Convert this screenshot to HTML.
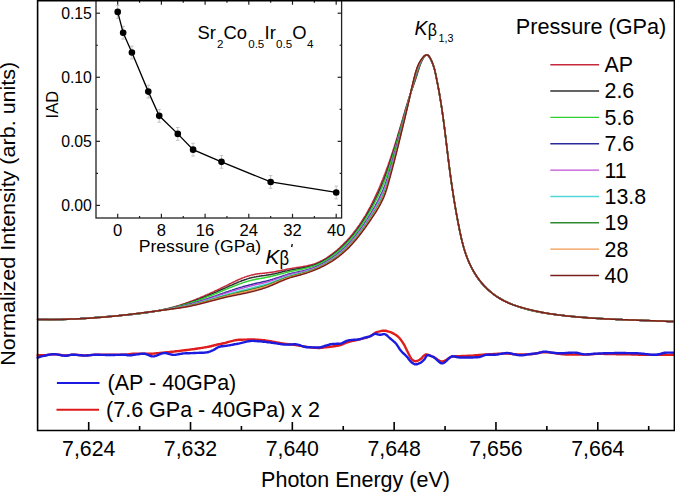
<!DOCTYPE html>
<html><head><meta charset="utf-8"><style>
html,body{margin:0;padding:0;background:#fff;}
svg{display:block;}
text{font-family:"Liberation Sans",sans-serif;fill:#000;}
</style></head><body>
<svg width="675" height="492" viewBox="0 0 675 492">
<rect width="675" height="492" fill="#fff"/>
<!-- spectra -->
<g stroke-linejoin="round" stroke-linecap="round">
<path d="M37.6 319.4 L38.6 319.4 L39.6 319.5 L40.6 319.5 L41.6 319.5 L42.6 319.6 L43.6 319.6 L44.6 319.6 L45.6 319.6 L46.6 319.7 L47.6 319.7 L48.6 319.7 L49.6 319.7 L50.6 319.7 L51.6 319.7 L52.6 319.7 L53.6 319.7 L54.6 319.7 L55.6 319.7 L56.6 319.6 L57.6 319.6 L58.6 319.6 L59.6 319.6 L60.6 319.6 L61.6 319.5 L62.6 319.5 L63.6 319.5 L64.6 319.4 L65.6 319.4 L66.6 319.4 L67.6 319.3 L68.6 319.3 L69.6 319.2 L70.6 319.2 L71.6 319.1 L72.6 319.1 L73.6 319.0 L74.6 319.0 L75.6 318.9 L76.6 318.8 L77.6 318.8 L78.6 318.7 L79.6 318.7 L80.6 318.6 L81.6 318.5 L82.6 318.5 L83.6 318.4 L84.6 318.3 L85.6 318.2 L86.6 318.2 L87.6 318.1 L88.5 318.0 L89.5 318.0 L90.5 317.9 L91.5 317.8 L92.5 317.7 L93.5 317.7 L94.5 317.6 L95.5 317.5 L96.5 317.4 L97.5 317.3 L98.5 317.3 L99.5 317.2 L100.5 317.1 L101.5 317.0 L102.5 316.9 L103.5 316.9 L104.5 316.8 L105.5 316.7 L106.5 316.6 L107.5 316.5 L108.5 316.5 L109.5 316.4 L110.5 316.3 L111.5 316.2 L112.5 316.2 L113.5 316.1 L114.5 316.0 L115.5 315.9 L116.5 315.8 L117.5 315.8 L118.5 315.7 L119.5 315.6 L120.5 315.5 L121.4 315.4 L122.4 315.4 L123.4 315.3 L124.4 315.2 L125.4 315.1 L126.4 315.0 L127.4 314.9 L128.4 314.8 L129.4 314.7 L130.4 314.6 L131.4 314.5 L132.4 314.4 L133.4 314.3 L134.4 314.2 L135.4 314.1 L136.4 314.0 L137.4 313.9 L138.4 313.8 L139.4 313.7 L140.4 313.5 L141.3 313.4 L142.3 313.3 L143.3 313.2 L144.3 313.0 L145.3 312.9 L146.3 312.7 L147.3 312.6 L148.3 312.4 L149.3 312.3 L150.3 312.1 L151.2 312.0 L152.2 311.8 L153.2 311.6 L154.2 311.5 L155.2 311.3 L156.2 311.1 L157.1 310.9 L158.1 310.7 L159.1 310.5 L160.1 310.3 L161.1 310.1 L162.0 309.9 L163.0 309.7 L164.0 309.5 L165.0 309.3 L165.9 309.0 L166.9 308.8 L167.9 308.6 L168.9 308.3 L169.8 308.0 L170.8 307.8 L171.8 307.5 L172.7 307.3 L173.7 307.0 L174.6 306.7 L175.6 306.4 L176.6 306.1 L177.5 305.9 L178.5 305.6 L179.4 305.3 L180.4 305.0 L181.3 304.6 L182.3 304.3 L183.2 304.0 L184.2 303.7 L185.1 303.4 L186.1 303.0 L187.0 302.7 L187.9 302.4 L188.9 302.0 L189.8 301.7 L190.8 301.3 L191.7 301.0 L192.6 300.6 L193.6 300.3 L194.5 299.9 L195.4 299.6 L196.4 299.2 L197.3 298.8 L198.2 298.4 L199.1 298.1 L200.1 297.7 L201.0 297.3 L201.9 296.9 L202.8 296.5 L203.8 296.1 L204.7 295.7 L205.6 295.3 L206.5 294.9 L207.4 294.5 L208.3 294.1 L209.3 293.7 L210.2 293.3 L211.1 292.9 L212.0 292.5 L212.9 292.1 L213.8 291.7 L214.7 291.2 L215.6 290.8 L216.5 290.4 L217.4 290.0 L218.3 289.5 L219.2 289.1 L220.1 288.7 L221.0 288.2 L221.9 287.8 L222.8 287.3 L223.7 286.9 L224.6 286.5 L225.5 286.0 L226.4 285.6 L227.3 285.1 L228.2 284.7 L229.1 284.2 L230.0 283.8 L230.9 283.3 L231.8 282.9 L232.7 282.4 L233.6 282.0 L234.5 281.6 L235.4 281.1 L236.3 280.7 L237.2 280.3 L238.1 279.9 L239.0 279.5 L239.9 279.1 L240.9 278.7 L241.8 278.3 L242.7 277.9 L243.6 277.6 L244.6 277.2 L245.5 276.9 L246.5 276.6 L247.4 276.2 L248.4 275.9 L249.3 275.7 L250.3 275.4 L251.3 275.1 L252.2 274.9 L253.2 274.7 L254.2 274.5 L255.2 274.3 L256.1 274.1 L257.1 274.0 L258.1 273.8 L259.1 273.7 L260.1 273.6 L261.1 273.5 L262.1 273.4 L263.1 273.3 L264.1 273.2 L265.1 273.1 L266.1 273.0 L267.1 272.8 L268.1 272.7 L269.1 272.6 L270.0 272.5 L271.0 272.3 L272.0 272.2 L273.0 272.0 L274.0 271.9 L275.0 271.7 L276.0 271.5 L276.9 271.3 L277.9 271.1 L278.9 270.9 L279.9 270.7 L280.9 270.5 L281.8 270.3 L282.8 270.1 L283.8 269.9 L284.8 269.7 L285.8 269.5 L286.7 269.3 L287.7 269.1 L288.7 268.9 L289.7 268.7 L290.7 268.6 L291.7 268.4 L292.6 268.2 L293.6 268.1 L294.6 267.9 L295.6 267.8 L296.6 267.6 L297.6 267.5 L298.6 267.3 L299.6 267.2 L300.6 267.0 L301.5 266.9 L302.5 266.7 L303.5 266.5 L304.5 266.3 L305.5 266.2 L306.5 266.0 L307.4 265.8 L308.4 265.5 L309.4 265.3 L310.4 265.1 L311.3 264.8 L312.3 264.5 L313.2 264.2 L314.2 263.9 L315.1 263.6 L316.1 263.3 L317.0 262.9 L317.9 262.5 L318.8 262.1 L319.7 261.7 L320.6 261.2 L321.5 260.8 L322.4 260.3 L323.3 259.8 L324.2 259.3 L325.0 258.8 L325.9 258.3 L326.7 257.8 L327.6 257.2 L328.4 256.7 L329.2 256.1 L330.0 255.5 L330.8 254.9 L331.7 254.3 L332.5 253.7 L333.2 253.1 L334.0 252.5 L334.8 251.9 L335.6 251.3 L336.3 250.6 L337.1 250.0 L337.9 249.3 L338.6 248.6 L339.4 248.0 L340.1 247.3 L340.8 246.6 L341.6 245.9 L342.3 245.2 L343.0 244.5 L343.7 243.8 L344.4 243.1 L345.1 242.4 L345.8 241.7 L346.5 241.0 L347.2 240.2 L347.8 239.5 L348.5 238.7 L349.2 238.0 L349.8 237.2 L350.5 236.5 L351.1 235.7 L351.8 234.9 L352.4 234.2 L353.0 233.4 L353.6 232.6 L354.2 231.8 L354.9 231.0 L355.5 230.2 L356.1 229.4 L356.7 228.6 L357.2 227.8 L357.8 227.0 L358.4 226.2 L359.0 225.4 L359.6 224.6 L360.1 223.7 L360.7 222.9 L361.2 222.1 L361.8 221.2 L362.3 220.4 L362.9 219.5 L363.4 218.7 L363.9 217.8 L364.4 217.0 L365.0 216.1 L365.5 215.3 L366.0 214.4 L366.5 213.6 L367.0 212.7 L367.5 211.8 L368.0 210.9 L368.4 210.1 L368.9 209.2 L369.4 208.3 L369.9 207.4 L370.4 206.6 L370.8 205.7 L371.3 204.8 L371.7 203.9 L372.2 203.0 L372.6 202.1 L373.1 201.2 L373.5 200.3 L374.0 199.4 L374.4 198.5 L374.8 197.6 L375.3 196.7 L375.7 195.8 L376.1 194.9 L376.5 194.0 L376.9 193.1 L377.3 192.2 L377.8 191.3 L378.2 190.3 L378.6 189.4 L379.0 188.5 L379.4 187.6 L379.7 186.7 L380.1 185.8 L380.5 184.8 L380.9 183.9 L381.3 183.0 L381.7 182.1 L382.0 181.1 L382.4 180.2 L382.8 179.3 L383.2 178.3 L383.5 177.4 L383.9 176.5 L384.2 175.5 L384.6 174.6 L385.0 173.7 L385.3 172.7 L385.7 171.8 L386.0 170.9 L386.4 169.9 L386.7 169.0 L387.0 168.1 L387.4 167.1 L387.7 166.2 L388.1 165.2 L388.4 164.3 L388.7 163.3 L389.1 162.4 L389.4 161.5 L389.7 160.5 L390.0 159.6 L390.4 158.6 L390.7 157.7 L391.0 156.7 L391.3 155.8 L391.6 154.8 L391.9 153.9 L392.3 152.9 L392.6 152.0 L392.9 151.0 L393.2 150.1 L393.5 149.1 L393.8 148.2 L394.1 147.2 L394.4 146.3 L394.7 145.3 L395.0 144.4 L395.3 143.4 L395.6 142.4 L395.9 141.5 L396.2 140.5 L396.5 139.6 L396.8 138.6 L397.1 137.7 L397.4 136.7 L397.6 135.8 L397.9 134.8 L398.2 133.8 L398.5 132.9 L398.8 131.9 L399.1 131.0 L399.4 130.0 L399.7 129.0 L399.9 128.1 L400.2 127.1 L400.5 126.2 L400.8 125.2 L401.1 124.3 L401.4 123.3 L401.7 122.3 L401.9 121.4 L402.2 120.4 L402.5 119.5 L402.8 118.5 L403.1 117.5 L403.3 116.6 L403.6 115.6 L403.9 114.7 L404.2 113.7 L404.5 112.7 L404.8 111.8 L405.1 110.8 L405.3 109.9 L405.6 108.9 L405.9 108.0 L406.2 107.0 L406.5 106.0 L406.8 105.1 L407.1 104.1 L407.4 103.2 L407.6 102.2 L407.9 101.3 L408.2 100.3 L408.6 99.4 L408.9 98.4 L409.2 97.5 L409.5 96.5 L409.8 95.6 L410.2 94.6 L410.5 93.7 L410.8 92.7 L411.1 91.8 L411.5 90.8 L411.8 89.9 L412.2 89.0 L412.5 88.0 L412.8 87.1 L413.2 86.1 L413.5 85.2 L413.8 84.3 L414.2 83.3 L414.5 82.4 L414.8 81.4 L415.1 80.5 L415.5 79.5 L415.8 78.6 L416.1 77.6 L416.4 76.7 L416.7 75.7 L417.0 74.8 L417.3 73.8 L417.6 72.9 L417.9 71.9 L418.2 70.9 L418.5 70.0 L418.8 69.0 L419.1 68.1 L419.4 67.1 L419.7 66.2 L420.0 65.2 L420.4 64.3 L420.8 63.4 L421.1 62.4 L421.5 61.5 L422.0 60.6 L422.4 59.7 L422.9 58.8 L423.4 58.0 L423.9 57.1 L424.5 56.3 L425.2 55.6 L426.0 55.1 L427.0 54.8 L427.9 55.1 L428.7 55.8 L429.3 56.6 L429.8 57.4 L430.3 58.3 L430.7 59.2 L431.1 60.1 L431.6 61.0 L431.9 61.9 L432.3 62.8 L432.7 63.8 L433.0 64.7 L433.4 65.7 L433.7 66.6 L434.0 67.6 L434.3 68.5 L434.5 69.5 L434.8 70.5 L435.0 71.4 L435.2 72.4 L435.5 73.4 L435.7 74.3 L435.9 75.3 L436.1 76.3 L436.3 77.3 L436.5 78.3 L436.7 79.2 L436.9 80.2 L437.1 81.2 L437.3 82.2 L437.5 83.2 L437.7 84.1 L437.9 85.1 L438.0 86.1 L438.2 87.1 L438.4 88.1 L438.6 89.1 L438.8 90.0 L438.9 91.0 L439.1 92.0 L439.3 93.0 L439.5 94.0 L439.6 95.0 L439.8 96.0 L440.0 96.9 L440.1 97.9 L440.3 98.9 L440.4 99.9 L440.6 100.9 L440.8 101.9 L440.9 102.9 L441.1 103.9 L441.2 104.8 L441.4 105.8 L441.5 106.8 L441.7 107.8 L441.8 108.8 L442.0 109.8 L442.1 110.8 L442.3 111.8 L442.4 112.8 L442.5 113.7 L442.7 114.7 L442.8 115.7 L443.0 116.7 L443.1 117.7 L443.2 118.7 L443.4 119.7 L443.5 120.7 L443.6 121.7 L443.8 122.7 L443.9 123.7 L444.0 124.6 L444.2 125.6 L444.3 126.6 L444.4 127.6 L444.5 128.6 L444.7 129.6 L444.8 130.6 L444.9 131.6 L445.0 132.6 L445.2 133.6 L445.3 134.6 L445.4 135.6 L445.5 136.6 L445.7 137.5 L445.8 138.5 L445.9 139.5 L446.0 140.5 L446.2 141.5 L446.3 142.5 L446.4 143.5 L446.5 144.5 L446.6 145.5 L446.8 146.5 L446.9 147.5 L447.0 148.5 L447.1 149.5 L447.3 150.4 L447.4 151.4 L447.5 152.4 L447.6 153.4 L447.7 154.4 L447.9 155.4 L448.0 156.4 L448.1 157.4 L448.2 158.4 L448.4 159.4 L448.5 160.4 L448.6 161.4 L448.7 162.4 L448.8 163.3 L449.0 164.3 L449.1 165.3 L449.2 166.3 L449.4 167.3 L449.5 168.3 L449.6 169.3 L449.7 170.3 L449.9 171.3 L450.0 172.3 L450.1 173.3 L450.3 174.3 L450.4 175.2 L450.5 176.2 L450.7 177.2 L450.8 178.2 L450.9 179.2 L451.1 180.2 L451.2 181.2 L451.4 182.2 L451.5 183.2 L451.6 184.2 L451.8 185.2 L451.9 186.1 L452.1 187.1 L452.2 188.1 L452.4 189.1 L452.5 190.1 L452.7 191.1 L452.8 192.1 L453.0 193.1 L453.1 194.1 L453.3 195.0 L453.4 196.0 L453.6 197.0 L453.7 198.0 L453.9 199.0 L454.1 200.0 L454.2 201.0 L454.4 202.0 L454.5 202.9 L454.7 203.9 L454.9 204.9 L455.0 205.9 L455.2 206.9 L455.4 207.9 L455.5 208.9 L455.7 209.8 L455.9 210.8 L456.1 211.8 L456.2 212.8 L456.4 213.8 L456.6 214.8 L456.8 215.7 L457.0 216.7 L457.1 217.7 L457.3 218.7 L457.5 219.7 L457.7 220.7 L457.9 221.6 L458.1 222.6 L458.3 223.6 L458.5 224.6 L458.7 225.6 L458.9 226.5 L459.0 227.5 L459.3 228.5 L459.5 229.5 L459.7 230.5 L459.9 231.4 L460.1 232.4 L460.3 233.4 L460.5 234.4 L460.7 235.4 L460.9 236.3 L461.2 237.3 L461.4 238.3 L461.6 239.2 L461.9 240.2 L462.1 241.2 L462.4 242.2 L462.6 243.1 L462.9 244.1 L463.1 245.1 L463.4 246.0 L463.7 247.0 L464.0 247.9 L464.2 248.9 L464.5 249.9 L464.8 250.8 L465.1 251.8 L465.4 252.7 L465.8 253.7 L466.1 254.6 L466.4 255.6 L466.8 256.5 L467.1 257.4 L467.5 258.4 L467.8 259.3 L468.2 260.2 L468.6 261.2 L468.9 262.1 L469.3 263.0 L469.7 263.9 L470.2 264.8 L470.6 265.7 L471.0 266.6 L471.4 267.5 L471.9 268.4 L472.3 269.3 L472.8 270.2 L473.3 271.1 L473.8 272.0 L474.3 272.8 L474.8 273.7 L475.3 274.5 L475.8 275.4 L476.4 276.2 L476.9 277.1 L477.5 277.9 L478.1 278.7 L478.7 279.5 L479.3 280.3 L479.9 281.1 L480.5 281.9 L481.1 282.6 L481.8 283.4 L482.5 284.1 L483.1 284.9 L483.8 285.6 L484.5 286.3 L485.2 287.0 L485.9 287.7 L486.7 288.4 L487.4 289.1 L488.2 289.8 L488.9 290.4 L489.7 291.1 L490.5 291.7 L491.2 292.3 L492.0 292.9 L492.8 293.5 L493.6 294.1 L494.5 294.7 L495.3 295.3 L496.1 295.8 L496.9 296.4 L497.8 296.9 L498.6 297.4 L499.5 298.0 L500.3 298.5 L501.2 299.0 L502.1 299.5 L503.0 299.9 L503.8 300.4 L504.7 300.9 L505.6 301.3 L506.5 301.8 L507.4 302.2 L508.3 302.6 L509.2 303.0 L510.1 303.5 L511.1 303.9 L512.0 304.2 L512.9 304.6 L513.8 305.0 L514.8 305.4 L515.7 305.7 L516.6 306.1 L517.6 306.4 L518.5 306.7 L519.5 307.1 L520.4 307.4 L521.4 307.7 L522.3 308.0 L523.3 308.3 L524.2 308.6 L525.2 308.8 L526.2 309.1 L527.1 309.4 L528.1 309.6 L529.1 309.9 L530.0 310.1 L531.0 310.4 L532.0 310.6 L532.9 310.8 L533.9 311.0 L534.9 311.3 L535.9 311.5 L536.9 311.7 L537.8 311.9 L538.8 312.1 L539.8 312.2 L540.8 312.4 L541.8 312.6 L542.7 312.8 L543.7 312.9 L544.7 313.1 L545.7 313.3 L546.7 313.4 L547.7 313.6 L548.7 313.7 L549.7 313.8 L550.7 314.0 L551.6 314.1 L552.6 314.3 L553.6 314.4 L554.6 314.5 L555.6 314.6 L556.6 314.7 L557.6 314.9 L558.6 315.0 L559.6 315.1 L560.6 315.2 L561.6 315.3 L562.6 315.4 L563.6 315.5 L564.6 315.6 L565.6 315.7 L566.5 315.8 L567.5 315.9 L568.5 316.0 L569.5 316.1 L570.5 316.2 L571.5 316.3 L572.5 316.4 L573.5 316.4 L574.5 316.5 L575.5 316.6 L576.5 316.7 L577.5 316.8 L578.5 316.9 L579.5 317.0 L580.5 317.0 L581.5 317.1 L582.5 317.2 L583.5 317.3 L584.5 317.4 L585.5 317.4 L586.5 317.5 L587.5 317.6 L588.5 317.7 L589.5 317.7 L590.5 317.8 L591.5 317.9 L592.5 317.9 L593.5 318.0 L594.5 318.1 L595.5 318.1 L596.5 318.2 L597.4 318.3 L598.4 318.3 L599.4 318.4 L600.4 318.5 L601.4 318.5 L602.4 318.6 L603.4 318.6 L604.4 318.7 L605.4 318.8 L606.4 318.8 L607.4 318.9 L608.4 318.9 L609.4 319.0 L610.4 319.0 L611.4 319.1 L612.4 319.2 L613.4 319.2 L614.4 319.3 L615.4 319.3 L616.4 319.4 L617.4 319.4 L618.4 319.5 L619.4 319.5 L620.4 319.6 L621.4 319.6 L622.4 319.7 L623.4 319.7 L624.4 319.7 L625.4 319.8 L626.4 319.8 L627.4 319.9 L628.4 319.9 L629.4 320.0 L630.4 320.0 L631.4 320.1 L632.4 320.1 L633.4 320.1 L634.4 320.2 L635.4 320.2 L636.4 320.3 L637.4 320.3 L638.4 320.3 L639.4 320.4 L640.4 320.4 L641.4 320.5 L642.4 320.5 L643.4 320.5 L644.4 320.6 L645.4 320.6 L646.4 320.7 L647.4 320.7 L648.4 320.7 L649.4 320.8 L650.4 320.8 L651.4 320.8 L652.4 320.9 L653.4 320.9 L654.4 320.9 L655.4 321.0 L656.4 321.0 L657.4 321.0 L658.4 321.1 L659.4 321.1 L660.4 321.1 L661.4 321.2 L662.4 321.2 L663.4 321.3 L664.4 321.3 L665.4 321.3 L666.4 321.4 L667.4 321.4 L668.4 321.4 L669.4 321.5 L670.4 321.5 L671.4 321.5 L672.4 321.6 L673.4 321.6" stroke="#c8283c" stroke-width="1.5" fill="none"/>
<path d="M37.6 319.4 L38.6 319.4 L39.6 319.5 L40.6 319.5 L41.6 319.5 L42.6 319.6 L43.6 319.6 L44.6 319.6 L45.6 319.6 L46.6 319.6 L47.6 319.6 L48.6 319.7 L49.6 319.7 L50.6 319.7 L51.6 319.7 L52.6 319.7 L53.6 319.6 L54.6 319.6 L55.6 319.6 L56.6 319.6 L57.6 319.6 L58.6 319.6 L59.6 319.6 L60.6 319.5 L61.6 319.5 L62.6 319.5 L63.6 319.4 L64.6 319.4 L65.6 319.4 L66.6 319.3 L67.6 319.3 L68.6 319.3 L69.6 319.2 L70.6 319.2 L71.6 319.1 L72.6 319.1 L73.6 319.0 L74.6 319.0 L75.6 318.9 L76.6 318.8 L77.6 318.8 L78.6 318.7 L79.6 318.7 L80.6 318.6 L81.6 318.5 L82.6 318.5 L83.6 318.4 L84.6 318.3 L85.6 318.3 L86.6 318.2 L87.6 318.1 L88.6 318.1 L89.6 318.0 L90.5 317.9 L91.5 317.8 L92.5 317.8 L93.5 317.7 L94.5 317.6 L95.5 317.5 L96.5 317.5 L97.5 317.4 L98.5 317.3 L99.5 317.2 L100.5 317.1 L101.5 317.1 L102.5 317.0 L103.5 316.9 L104.5 316.8 L105.5 316.7 L106.5 316.7 L107.5 316.6 L108.5 316.5 L109.5 316.4 L110.5 316.3 L111.5 316.3 L112.5 316.2 L113.5 316.1 L114.5 316.0 L115.5 315.9 L116.5 315.8 L117.5 315.8 L118.5 315.7 L119.5 315.6 L120.5 315.5 L121.4 315.4 L122.4 315.3 L123.4 315.2 L124.4 315.2 L125.4 315.1 L126.4 315.0 L127.4 314.9 L128.4 314.8 L129.4 314.7 L130.4 314.6 L131.4 314.5 L132.4 314.4 L133.4 314.3 L134.4 314.2 L135.4 314.0 L136.4 313.9 L137.4 313.8 L138.4 313.7 L139.4 313.6 L140.3 313.5 L141.3 313.3 L142.3 313.2 L143.3 313.1 L144.3 312.9 L145.3 312.8 L146.3 312.7 L147.3 312.5 L148.3 312.4 L149.3 312.2 L150.2 312.1 L151.2 311.9 L152.2 311.8 L153.2 311.6 L154.2 311.4 L155.2 311.3 L156.2 311.1 L157.2 310.9 L158.1 310.7 L159.1 310.6 L160.1 310.4 L161.1 310.2 L162.1 310.0 L163.0 309.8 L164.0 309.6 L165.0 309.4 L166.0 309.1 L166.9 308.9 L167.9 308.7 L168.9 308.5 L169.9 308.2 L170.8 308.0 L171.8 307.8 L172.8 307.5 L173.7 307.3 L174.7 307.0 L175.7 306.7 L176.6 306.5 L177.6 306.2 L178.6 305.9 L179.5 305.7 L180.5 305.4 L181.5 305.1 L182.4 304.8 L183.4 304.5 L184.3 304.2 L185.3 303.9 L186.2 303.6 L187.2 303.3 L188.1 303.0 L189.1 302.7 L190.0 302.3 L191.0 302.0 L191.9 301.7 L192.9 301.4 L193.8 301.0 L194.7 300.7 L195.7 300.3 L196.6 300.0 L197.5 299.6 L198.5 299.3 L199.4 298.9 L200.3 298.6 L201.3 298.2 L202.2 297.8 L203.1 297.5 L204.1 297.1 L205.0 296.7 L205.9 296.3 L206.8 296.0 L207.8 295.6 L208.7 295.2 L209.6 294.8 L210.5 294.4 L211.5 294.0 L212.4 293.6 L213.3 293.2 L214.2 292.9 L215.1 292.5 L216.1 292.1 L217.0 291.7 L217.9 291.2 L218.8 290.8 L219.7 290.4 L220.6 290.0 L221.5 289.6 L222.4 289.2 L223.4 288.8 L224.3 288.4 L225.2 288.0 L226.1 287.6 L227.0 287.1 L227.9 286.7 L228.8 286.3 L229.7 285.9 L230.6 285.5 L231.6 285.1 L232.5 284.7 L233.4 284.3 L234.3 283.9 L235.2 283.5 L236.1 283.1 L237.1 282.7 L238.0 282.3 L238.9 281.9 L239.8 281.6 L240.8 281.2 L241.7 280.8 L242.6 280.5 L243.6 280.2 L244.5 279.8 L245.5 279.5 L246.4 279.2 L247.4 278.9 L248.3 278.6 L249.3 278.3 L250.3 278.1 L251.2 277.8 L252.2 277.6 L253.2 277.4 L254.2 277.1 L255.1 276.9 L256.1 276.8 L257.1 276.6 L258.1 276.4 L259.1 276.3 L260.1 276.1 L261.1 276.0 L262.0 275.8 L263.0 275.7 L264.0 275.6 L265.0 275.4 L266.0 275.3 L267.0 275.1 L268.0 275.0 L269.0 274.8 L270.0 274.7 L270.9 274.5 L271.9 274.3 L272.9 274.1 L273.9 273.9 L274.9 273.7 L275.8 273.4 L276.8 273.2 L277.8 273.0 L278.7 272.7 L279.7 272.5 L280.7 272.3 L281.7 272.0 L282.6 271.8 L283.6 271.6 L284.6 271.3 L285.6 271.1 L286.5 270.9 L287.5 270.7 L288.5 270.4 L289.5 270.2 L290.4 270.0 L291.4 269.9 L292.4 269.7 L293.4 269.5 L294.4 269.3 L295.4 269.2 L296.3 269.0 L297.3 268.8 L298.3 268.7 L299.3 268.5 L300.3 268.3 L301.3 268.1 L302.3 268.0 L303.2 267.8 L304.2 267.6 L305.2 267.4 L306.2 267.2 L307.2 266.9 L308.1 266.7 L309.1 266.5 L310.1 266.2 L311.0 265.9 L312.0 265.7 L312.9 265.4 L313.9 265.1 L314.8 264.7 L315.8 264.4 L316.7 264.0 L317.6 263.6 L318.5 263.2 L319.4 262.8 L320.4 262.4 L321.2 261.9 L322.1 261.5 L323.0 261.0 L323.9 260.5 L324.8 260.0 L325.6 259.5 L326.5 259.0 L327.3 258.4 L328.2 257.9 L329.0 257.4 L329.8 256.8 L330.6 256.2 L331.4 255.6 L332.3 255.0 L333.1 254.4 L333.8 253.8 L334.6 253.2 L335.4 252.6 L336.2 252.0 L337.0 251.3 L337.7 250.7 L338.5 250.0 L339.2 249.4 L340.0 248.7 L340.7 248.0 L341.5 247.4 L342.2 246.7 L342.9 246.0 L343.6 245.3 L344.3 244.6 L345.0 243.9 L345.7 243.2 L346.4 242.4 L347.1 241.7 L347.8 241.0 L348.5 240.2 L349.1 239.5 L349.8 238.7 L350.5 238.0 L351.1 237.2 L351.8 236.5 L352.4 235.7 L353.0 234.9 L353.7 234.1 L354.3 233.4 L354.9 232.6 L355.5 231.8 L356.1 231.0 L356.7 230.2 L357.3 229.4 L357.9 228.6 L358.5 227.8 L359.1 227.0 L359.6 226.1 L360.2 225.3 L360.8 224.5 L361.3 223.7 L361.9 222.8 L362.4 222.0 L363.0 221.2 L363.5 220.3 L364.1 219.5 L364.6 218.6 L365.1 217.8 L365.6 216.9 L366.2 216.1 L366.7 215.2 L367.2 214.3 L367.7 213.5 L368.2 212.6 L368.7 211.7 L369.2 210.9 L369.7 210.0 L370.2 209.1 L370.6 208.2 L371.1 207.4 L371.6 206.5 L372.1 205.6 L372.5 204.7 L373.0 203.8 L373.4 202.9 L373.9 202.1 L374.3 201.2 L374.8 200.3 L375.2 199.4 L375.7 198.5 L376.1 197.6 L376.5 196.7 L377.0 195.8 L377.4 194.9 L377.8 194.0 L378.2 193.0 L378.6 192.1 L379.1 191.2 L379.5 190.3 L379.9 189.4 L380.3 188.5 L380.7 187.6 L381.1 186.6 L381.5 185.7 L381.8 184.8 L382.2 183.9 L382.6 183.0 L383.0 182.0 L383.3 181.1 L383.7 180.2 L384.1 179.2 L384.4 178.3 L384.8 177.4 L385.2 176.4 L385.5 175.5 L385.9 174.6 L386.2 173.6 L386.5 172.7 L386.9 171.7 L387.2 170.8 L387.5 169.8 L387.9 168.9 L388.2 168.0 L388.5 167.0 L388.8 166.1 L389.1 165.1 L389.5 164.2 L389.8 163.2 L390.1 162.3 L390.4 161.3 L390.7 160.4 L391.0 159.4 L391.3 158.5 L391.6 157.5 L391.9 156.6 L392.2 155.6 L392.5 154.6 L392.8 153.7 L393.1 152.7 L393.4 151.8 L393.7 150.8 L394.0 149.9 L394.3 148.9 L394.6 148.0 L394.9 147.0 L395.2 146.0 L395.5 145.1 L395.7 144.1 L396.0 143.2 L396.3 142.2 L396.6 141.3 L396.9 140.3 L397.2 139.3 L397.4 138.4 L397.7 137.4 L398.0 136.5 L398.3 135.5 L398.6 134.5 L398.8 133.6 L399.1 132.6 L399.4 131.7 L399.7 130.7 L400.0 129.7 L400.2 128.8 L400.5 127.8 L400.8 126.9 L401.1 125.9 L401.3 124.9 L401.6 124.0 L401.9 123.0 L402.2 122.0 L402.4 121.1 L402.7 120.1 L403.0 119.2 L403.3 118.2 L403.5 117.2 L403.8 116.3 L404.1 115.3 L404.3 114.3 L404.6 113.4 L404.9 112.4 L405.2 111.5 L405.4 110.5 L405.7 109.5 L406.0 108.6 L406.3 107.6 L406.5 106.7 L406.8 105.7 L407.1 104.7 L407.4 103.8 L407.7 102.8 L407.9 101.9 L408.2 100.9 L408.5 99.9 L408.8 99.0 L409.1 98.0 L409.4 97.1 L409.7 96.1 L410.0 95.2 L410.3 94.2 L410.6 93.3 L410.9 92.3 L411.2 91.4 L411.5 90.4 L411.8 89.5 L412.2 88.5 L412.5 87.6 L412.8 86.6 L413.1 85.7 L413.4 84.7 L413.7 83.8 L414.0 82.8 L414.4 81.9 L414.7 80.9 L415.0 80.0 L415.3 79.0 L415.6 78.1 L415.9 77.1 L416.2 76.2 L416.5 75.2 L416.8 74.2 L417.1 73.3 L417.4 72.3 L417.7 71.4 L418.0 70.4 L418.3 69.5 L418.6 68.5 L419.0 67.6 L419.3 66.6 L419.6 65.7 L420.0 64.8 L420.4 63.8 L420.7 62.9 L421.2 62.0 L421.6 61.1 L422.0 60.2 L422.5 59.3 L423.0 58.4 L423.5 57.6 L424.1 56.8 L424.7 56.0 L425.5 55.4 L426.4 54.9 L427.4 54.9 L428.2 55.4 L428.9 56.1 L429.5 56.9 L430.0 57.8 L430.4 58.7 L430.9 59.5 L431.3 60.5 L431.7 61.4 L432.1 62.3 L432.5 63.2 L432.8 64.1 L433.2 65.1 L433.5 66.0 L433.8 67.0 L434.1 67.9 L434.4 68.9 L434.6 69.9 L434.9 70.8 L435.1 71.8 L435.3 72.8 L435.6 73.8 L435.8 74.7 L436.0 75.7 L436.2 76.7 L436.4 77.7 L436.6 78.7 L436.8 79.6 L437.0 80.6 L437.2 81.6 L437.4 82.6 L437.6 83.6 L437.7 84.5 L437.9 85.5 L438.1 86.5 L438.3 87.5 L438.5 88.5 L438.7 89.5 L438.8 90.4 L439.0 91.4 L439.2 92.4 L439.4 93.4 L439.5 94.4 L439.7 95.4 L439.9 96.4 L440.0 97.3 L440.2 98.3 L440.3 99.3 L440.5 100.3 L440.7 101.3 L440.8 102.3 L441.0 103.3 L441.1 104.2 L441.3 105.2 L441.4 106.2 L441.6 107.2 L441.7 108.2 L441.9 109.2 L442.0 110.2 L442.2 111.2 L442.3 112.2 L442.5 113.2 L442.6 114.1 L442.7 115.1 L442.9 116.1 L443.0 117.1 L443.2 118.1 L443.3 119.1 L443.4 120.1 L443.6 121.1 L443.7 122.1 L443.8 123.1 L444.0 124.0 L444.1 125.0 L444.2 126.0 L444.3 127.0 L444.5 128.0 L444.6 129.0 L444.7 130.0 L444.9 131.0 L445.0 132.0 L445.1 133.0 L445.2 134.0 L445.3 135.0 L445.5 136.0 L445.6 136.9 L445.7 137.9 L445.8 138.9 L446.0 139.9 L446.1 140.9 L446.2 141.9 L446.3 142.9 L446.4 143.9 L446.6 144.9 L446.7 145.9 L446.8 146.9 L446.9 147.9 L447.1 148.9 L447.2 149.8 L447.3 150.8 L447.4 151.8 L447.5 152.8 L447.7 153.8 L447.8 154.8 L447.9 155.8 L448.0 156.8 L448.1 157.8 L448.3 158.8 L448.4 159.8 L448.5 160.8 L448.6 161.8 L448.8 162.8 L448.9 163.7 L449.0 164.7 L449.1 165.7 L449.3 166.7 L449.4 167.7 L449.5 168.7 L449.7 169.7 L449.8 170.7 L449.9 171.7 L450.1 172.7 L450.2 173.7 L450.3 174.7 L450.5 175.6 L450.6 176.6 L450.7 177.6 L450.9 178.6 L451.0 179.6 L451.1 180.6 L451.3 181.6 L451.4 182.6 L451.6 183.6 L451.7 184.6 L451.8 185.5 L452.0 186.5 L452.1 187.5 L452.3 188.5 L452.4 189.5 L452.6 190.5 L452.7 191.5 L452.9 192.5 L453.0 193.5 L453.2 194.4 L453.3 195.4 L453.5 196.4 L453.6 197.4 L453.8 198.4 L454.0 199.4 L454.1 200.4 L454.3 201.4 L454.4 202.3 L454.6 203.3 L454.8 204.3 L454.9 205.3 L455.1 206.3 L455.3 207.3 L455.4 208.3 L455.6 209.2 L455.8 210.2 L456.0 211.2 L456.1 212.2 L456.3 213.2 L456.5 214.2 L456.7 215.2 L456.8 216.1 L457.0 217.1 L457.2 218.1 L457.4 219.1 L457.6 220.1 L457.8 221.0 L458.0 222.0 L458.2 223.0 L458.3 224.0 L458.5 225.0 L458.7 226.0 L458.9 226.9 L459.1 227.9 L459.3 228.9 L459.5 229.9 L459.7 230.9 L459.9 231.8 L460.2 232.8 L460.4 233.8 L460.6 234.8 L460.8 235.7 L461.0 236.7 L461.2 237.7 L461.5 238.7 L461.7 239.6 L462.0 240.6 L462.2 241.6 L462.4 242.5 L462.7 243.5 L463.0 244.5 L463.2 245.4 L463.5 246.4 L463.8 247.4 L464.0 248.3 L464.3 249.3 L464.6 250.2 L464.9 251.2 L465.2 252.1 L465.5 253.1 L465.9 254.0 L466.2 255.0 L466.5 255.9 L466.9 256.9 L467.2 257.8 L467.6 258.7 L468.0 259.7 L468.3 260.6 L468.7 261.5 L469.1 262.4 L469.5 263.4 L469.9 264.3 L470.3 265.2 L470.7 266.1 L471.2 267.0 L471.6 267.9 L472.1 268.8 L472.5 269.7 L473.0 270.5 L473.5 271.4 L474.0 272.3 L474.5 273.1 L475.0 274.0 L475.5 274.9 L476.1 275.7 L476.6 276.5 L477.2 277.4 L477.8 278.2 L478.3 279.0 L478.9 279.8 L479.5 280.6 L480.2 281.4 L480.8 282.2 L481.4 282.9 L482.1 283.7 L482.8 284.4 L483.4 285.2 L484.1 285.9 L484.8 286.6 L485.5 287.3 L486.2 288.0 L487.0 288.7 L487.7 289.4 L488.5 290.0 L489.2 290.7 L490.0 291.3 L490.8 291.9 L491.5 292.6 L492.3 293.2 L493.1 293.8 L493.9 294.4 L494.8 295.0 L495.6 295.5 L496.4 296.1 L497.2 296.6 L498.1 297.2 L498.9 297.7 L499.8 298.2 L500.7 298.7 L501.5 299.2 L502.4 299.7 L503.3 300.2 L504.2 300.6 L505.1 301.1 L505.9 301.5 L506.8 302.0 L507.8 302.4 L508.7 302.8 L509.6 303.2 L510.5 303.6 L511.4 304.0 L512.3 304.4 L513.3 304.8 L514.2 305.1 L515.1 305.5 L516.1 305.8 L517.0 306.2 L518.0 306.5 L518.9 306.8 L519.8 307.2 L520.8 307.5 L521.8 307.8 L522.7 308.1 L523.7 308.3 L524.6 308.6 L525.6 308.9 L526.6 309.2 L527.5 309.4 L528.5 309.7 L529.5 309.9 L530.4 310.2 L531.4 310.4 L532.4 310.6 L533.3 310.8 L534.3 311.1 L535.3 311.3 L536.3 311.5 L537.3 311.7 L538.2 311.9 L539.2 312.1 L540.2 312.3 L541.2 312.4 L542.2 312.6 L543.2 312.8 L544.1 313.0 L545.1 313.1 L546.1 313.3 L547.1 313.4 L548.1 313.6 L549.1 313.7 L550.1 313.9 L551.1 314.0 L552.1 314.1 L553.0 314.3 L554.0 314.4 L555.0 314.5 L556.0 314.7 L557.0 314.8 L558.0 314.9 L559.0 315.0 L560.0 315.1 L561.0 315.2 L562.0 315.3 L563.0 315.5 L564.0 315.6 L565.0 315.7 L566.0 315.8 L567.0 315.9 L567.9 316.0 L568.9 316.1 L569.9 316.1 L570.9 316.2 L571.9 316.3 L572.9 316.4 L573.9 316.5 L574.9 316.6 L575.9 316.7 L576.9 316.8 L577.9 316.9 L578.9 316.9 L579.9 317.0 L580.9 317.1 L581.9 317.2 L582.9 317.3 L583.9 317.3 L584.9 317.4 L585.9 317.5 L586.9 317.6 L587.9 317.6 L588.9 317.7 L589.9 317.8 L590.9 317.9 L591.9 317.9 L592.9 318.0 L593.9 318.1 L594.9 318.1 L595.9 318.2 L596.9 318.3 L597.9 318.3 L598.8 318.4 L599.8 318.5 L600.8 318.5 L601.8 318.6 L602.8 318.6 L603.8 318.7 L604.8 318.8 L605.8 318.8 L606.8 318.9 L607.8 318.9 L608.8 319.0 L609.8 319.0 L610.8 319.1 L611.8 319.1 L612.8 319.2 L613.8 319.2 L614.8 319.3 L615.8 319.3 L616.8 319.4 L617.8 319.4 L618.8 319.5 L619.8 319.5 L620.8 319.6 L621.8 319.6 L622.8 319.7 L623.8 319.7 L624.8 319.8 L625.8 319.8 L626.8 319.8 L627.8 319.9 L628.8 319.9 L629.8 320.0 L630.8 320.0 L631.8 320.1 L632.8 320.1 L633.8 320.1 L634.8 320.2 L635.8 320.2 L636.8 320.3 L637.8 320.3 L638.8 320.3 L639.8 320.4 L640.8 320.4 L641.8 320.5 L642.8 320.5 L643.8 320.5 L644.8 320.6 L645.8 320.6 L646.8 320.6 L647.8 320.7 L648.8 320.7 L649.8 320.8 L650.8 320.8 L651.8 320.8 L652.8 320.9 L653.8 320.9 L654.8 320.9 L655.8 321.0 L656.8 321.0 L657.8 321.0 L658.8 321.1 L659.8 321.1 L660.8 321.1 L661.8 321.2 L662.8 321.2 L663.8 321.3 L664.8 321.3 L665.8 321.3 L666.8 321.4 L667.8 321.4 L668.8 321.4 L669.8 321.5 L670.8 321.5 L671.8 321.5 L672.8 321.6 L673.8 321.6" stroke="#303030" stroke-width="1.5" fill="none"/>
<path d="M37.6 319.4 L38.6 319.5 L39.6 319.5 L40.6 319.5 L41.6 319.5 L42.6 319.6 L43.6 319.6 L44.6 319.6 L45.6 319.6 L46.6 319.6 L47.6 319.6 L48.6 319.6 L49.6 319.6 L50.6 319.6 L51.6 319.6 L52.6 319.6 L53.6 319.6 L54.6 319.6 L55.6 319.6 L56.6 319.6 L57.6 319.6 L58.6 319.5 L59.6 319.5 L60.6 319.5 L61.6 319.5 L62.6 319.4 L63.6 319.4 L64.6 319.4 L65.6 319.4 L66.6 319.3 L67.6 319.3 L68.6 319.2 L69.6 319.2 L70.6 319.1 L71.6 319.1 L72.6 319.1 L73.6 319.0 L74.6 319.0 L75.6 318.9 L76.6 318.8 L77.6 318.8 L78.6 318.7 L79.6 318.7 L80.6 318.6 L81.6 318.6 L82.6 318.5 L83.6 318.4 L84.6 318.4 L85.6 318.3 L86.6 318.2 L87.6 318.2 L88.6 318.1 L89.6 318.0 L90.6 318.0 L91.6 317.9 L92.5 317.8 L93.5 317.7 L94.5 317.7 L95.5 317.6 L96.5 317.5 L97.5 317.4 L98.5 317.3 L99.5 317.3 L100.5 317.2 L101.5 317.1 L102.5 317.0 L103.5 316.9 L104.5 316.9 L105.5 316.8 L106.5 316.7 L107.5 316.6 L108.5 316.5 L109.5 316.5 L110.5 316.4 L111.5 316.3 L112.5 316.2 L113.5 316.1 L114.5 316.0 L115.5 315.9 L116.5 315.9 L117.5 315.8 L118.5 315.7 L119.5 315.6 L120.5 315.5 L121.4 315.4 L122.4 315.3 L123.4 315.2 L124.4 315.1 L125.4 315.0 L126.4 314.9 L127.4 314.8 L128.4 314.7 L129.4 314.6 L130.4 314.5 L131.4 314.4 L132.4 314.3 L133.4 314.2 L134.4 314.1 L135.4 314.0 L136.4 313.9 L137.4 313.7 L138.4 313.6 L139.3 313.5 L140.3 313.4 L141.3 313.3 L142.3 313.1 L143.3 313.0 L144.3 312.9 L145.3 312.7 L146.3 312.6 L147.3 312.5 L148.3 312.3 L149.3 312.2 L150.2 312.0 L151.2 311.9 L152.2 311.7 L153.2 311.6 L154.2 311.4 L155.2 311.2 L156.2 311.1 L157.2 310.9 L158.1 310.7 L159.1 310.6 L160.1 310.4 L161.1 310.2 L162.1 310.0 L163.1 309.8 L164.0 309.6 L165.0 309.4 L166.0 309.2 L167.0 309.0 L168.0 308.8 L168.9 308.6 L169.9 308.4 L170.9 308.2 L171.9 308.0 L172.8 307.7 L173.8 307.5 L174.8 307.3 L175.8 307.0 L176.7 306.8 L177.7 306.5 L178.7 306.3 L179.6 306.0 L180.6 305.8 L181.6 305.5 L182.5 305.3 L183.5 305.0 L184.4 304.7 L185.4 304.4 L186.4 304.1 L187.3 303.9 L188.3 303.6 L189.2 303.3 L190.2 303.0 L191.1 302.7 L192.1 302.3 L193.0 302.0 L194.0 301.7 L194.9 301.4 L195.9 301.1 L196.8 300.7 L197.8 300.4 L198.7 300.1 L199.7 299.7 L200.6 299.4 L201.5 299.1 L202.5 298.7 L203.4 298.4 L204.3 298.0 L205.3 297.7 L206.2 297.3 L207.1 296.9 L208.1 296.6 L209.0 296.2 L209.9 295.9 L210.9 295.5 L211.8 295.1 L212.7 294.7 L213.7 294.4 L214.6 294.0 L215.5 293.6 L216.4 293.3 L217.4 292.9 L218.3 292.5 L219.2 292.1 L220.1 291.7 L221.1 291.4 L222.0 291.0 L222.9 290.6 L223.8 290.2 L224.8 289.8 L225.7 289.4 L226.6 289.1 L227.5 288.7 L228.5 288.3 L229.4 287.9 L230.3 287.5 L231.2 287.2 L232.2 286.8 L233.1 286.4 L234.0 286.0 L235.0 285.7 L235.9 285.3 L236.8 285.0 L237.8 284.6 L238.7 284.3 L239.6 283.9 L240.6 283.6 L241.5 283.2 L242.5 282.9 L243.4 282.6 L244.4 282.3 L245.3 282.0 L246.3 281.7 L247.2 281.4 L248.2 281.1 L249.2 280.9 L250.1 280.6 L251.1 280.4 L252.1 280.1 L253.0 279.9 L254.0 279.7 L255.0 279.5 L256.0 279.3 L256.9 279.1 L257.9 278.9 L258.9 278.7 L259.9 278.5 L260.9 278.4 L261.9 278.2 L262.9 278.0 L263.8 277.9 L264.8 277.7 L265.8 277.5 L266.8 277.3 L267.8 277.1 L268.8 276.9 L269.7 276.7 L270.7 276.5 L271.7 276.3 L272.7 276.1 L273.6 275.8 L274.6 275.6 L275.6 275.3 L276.5 275.1 L277.5 274.8 L278.5 274.5 L279.4 274.3 L280.4 274.0 L281.3 273.7 L282.3 273.4 L283.3 273.2 L284.2 272.9 L285.2 272.7 L286.2 272.4 L287.1 272.2 L288.1 271.9 L289.1 271.7 L290.1 271.5 L291.0 271.3 L292.0 271.1 L293.0 270.9 L294.0 270.7 L295.0 270.5 L295.9 270.3 L296.9 270.1 L297.9 270.0 L298.9 269.8 L299.9 269.6 L300.9 269.4 L301.8 269.2 L302.8 269.0 L303.8 268.8 L304.8 268.6 L305.7 268.3 L306.7 268.1 L307.7 267.9 L308.7 267.6 L309.6 267.3 L310.6 267.1 L311.5 266.8 L312.5 266.5 L313.4 266.2 L314.4 265.8 L315.3 265.5 L316.3 265.1 L317.2 264.7 L318.1 264.3 L319.0 263.9 L319.9 263.5 L320.8 263.1 L321.7 262.6 L322.6 262.2 L323.5 261.7 L324.4 261.2 L325.2 260.7 L326.1 260.2 L326.9 259.7 L327.8 259.1 L328.6 258.6 L329.5 258.1 L330.3 257.5 L331.1 256.9 L331.9 256.3 L332.7 255.8 L333.5 255.2 L334.3 254.6 L335.1 253.9 L335.9 253.3 L336.7 252.7 L337.5 252.1 L338.2 251.4 L339.0 250.8 L339.7 250.1 L340.5 249.5 L341.2 248.8 L342.0 248.1 L342.7 247.4 L343.4 246.7 L344.2 246.1 L344.9 245.3 L345.6 244.6 L346.3 243.9 L347.0 243.2 L347.7 242.5 L348.3 241.8 L349.0 241.0 L349.7 240.3 L350.3 239.5 L351.0 238.8 L351.7 238.0 L352.3 237.3 L352.9 236.5 L353.6 235.7 L354.2 234.9 L354.8 234.2 L355.5 233.4 L356.1 232.6 L356.7 231.8 L357.3 231.0 L357.9 230.2 L358.5 229.4 L359.1 228.6 L359.6 227.8 L360.2 226.9 L360.8 226.1 L361.4 225.3 L361.9 224.5 L362.5 223.6 L363.0 222.8 L363.6 222.0 L364.1 221.1 L364.7 220.3 L365.2 219.5 L365.7 218.6 L366.3 217.8 L366.8 216.9 L367.3 216.0 L367.8 215.2 L368.3 214.3 L368.8 213.5 L369.3 212.6 L369.8 211.7 L370.3 210.9 L370.8 210.0 L371.3 209.1 L371.8 208.3 L372.3 207.4 L372.8 206.5 L373.2 205.6 L373.7 204.7 L374.2 203.8 L374.6 203.0 L375.1 202.1 L375.5 201.2 L376.0 200.3 L376.4 199.4 L376.9 198.5 L377.3 197.6 L377.8 196.7 L378.2 195.8 L378.6 194.9 L379.1 194.0 L379.5 193.1 L379.9 192.2 L380.3 191.3 L380.7 190.4 L381.1 189.4 L381.5 188.5 L381.9 187.6 L382.3 186.7 L382.7 185.8 L383.1 184.8 L383.4 183.9 L383.8 183.0 L384.2 182.1 L384.5 181.1 L384.9 180.2 L385.3 179.2 L385.6 178.3 L385.9 177.4 L386.3 176.4 L386.6 175.5 L386.9 174.5 L387.3 173.6 L387.6 172.6 L387.9 171.7 L388.2 170.7 L388.5 169.8 L388.8 168.8 L389.1 167.9 L389.4 166.9 L389.7 166.0 L390.0 165.0 L390.3 164.1 L390.6 163.1 L390.9 162.2 L391.2 161.2 L391.5 160.3 L391.8 159.3 L392.1 158.3 L392.4 157.4 L392.7 156.4 L393.0 155.5 L393.3 154.5 L393.6 153.6 L393.9 152.6 L394.1 151.6 L394.4 150.7 L394.7 149.7 L395.0 148.8 L395.3 147.8 L395.5 146.8 L395.8 145.9 L396.1 144.9 L396.4 144.0 L396.7 143.0 L396.9 142.0 L397.2 141.1 L397.5 140.1 L397.8 139.2 L398.0 138.2 L398.3 137.2 L398.6 136.3 L398.8 135.3 L399.1 134.3 L399.4 133.4 L399.6 132.4 L399.9 131.5 L400.2 130.5 L400.5 129.5 L400.7 128.6 L401.0 127.6 L401.3 126.6 L401.5 125.7 L401.8 124.7 L402.1 123.7 L402.3 122.8 L402.6 121.8 L402.9 120.9 L403.1 119.9 L403.4 118.9 L403.6 118.0 L403.9 117.0 L404.2 116.0 L404.4 115.1 L404.7 114.1 L405.0 113.1 L405.2 112.2 L405.5 111.2 L405.8 110.3 L406.0 109.3 L406.3 108.3 L406.6 107.4 L406.8 106.4 L407.1 105.4 L407.4 104.5 L407.6 103.5 L407.9 102.5 L408.2 101.6 L408.5 100.6 L408.7 99.7 L409.0 98.7 L409.3 97.7 L409.6 96.8 L409.8 95.8 L410.1 94.9 L410.4 93.9 L410.7 92.9 L411.0 92.0 L411.3 91.0 L411.6 90.1 L411.8 89.1 L412.1 88.2 L412.4 87.2 L412.7 86.2 L413.0 85.3 L413.3 84.3 L413.6 83.4 L413.9 82.4 L414.2 81.5 L414.5 80.5 L414.8 79.6 L415.1 78.6 L415.4 77.6 L415.7 76.7 L416.0 75.7 L416.3 74.8 L416.6 73.8 L416.9 72.9 L417.2 71.9 L417.5 71.0 L417.8 70.0 L418.2 69.1 L418.5 68.1 L418.8 67.2 L419.2 66.3 L419.5 65.3 L419.9 64.4 L420.3 63.5 L420.7 62.6 L421.1 61.7 L421.6 60.8 L422.0 59.9 L422.5 59.0 L423.0 58.1 L423.6 57.3 L424.2 56.5 L424.9 55.8 L425.7 55.2 L426.6 54.8 L427.6 55.0 L428.4 55.6 L429.1 56.3 L429.6 57.2 L430.1 58.0 L430.6 58.9 L431.0 59.8 L431.4 60.7 L431.8 61.6 L432.2 62.5 L432.6 63.5 L432.9 64.4 L433.3 65.4 L433.6 66.3 L433.9 67.3 L434.2 68.2 L434.4 69.2 L434.7 70.1 L434.9 71.1 L435.2 72.1 L435.4 73.1 L435.6 74.0 L435.8 75.0 L436.0 76.0 L436.2 77.0 L436.4 78.0 L436.6 78.9 L436.8 79.9 L437.0 80.9 L437.2 81.9 L437.4 82.9 L437.6 83.8 L437.8 84.8 L438.0 85.8 L438.2 86.8 L438.3 87.8 L438.5 88.8 L438.7 89.7 L438.9 90.7 L439.1 91.7 L439.2 92.7 L439.4 93.7 L439.6 94.7 L439.7 95.6 L439.9 96.6 L440.1 97.6 L440.2 98.6 L440.4 99.6 L440.6 100.6 L440.7 101.6 L440.9 102.6 L441.0 103.5 L441.2 104.5 L441.3 105.5 L441.5 106.5 L441.6 107.5 L441.8 108.5 L441.9 109.5 L442.1 110.5 L442.2 111.5 L442.4 112.4 L442.5 113.4 L442.6 114.4 L442.8 115.4 L442.9 116.4 L443.1 117.4 L443.2 118.4 L443.3 119.4 L443.5 120.4 L443.6 121.4 L443.7 122.3 L443.9 123.3 L444.0 124.3 L444.1 125.3 L444.3 126.3 L444.4 127.3 L444.5 128.3 L444.6 129.3 L444.8 130.3 L444.9 131.3 L445.0 132.3 L445.1 133.3 L445.3 134.3 L445.4 135.2 L445.5 136.2 L445.6 137.2 L445.8 138.2 L445.9 139.2 L446.0 140.2 L446.1 141.2 L446.2 142.2 L446.4 143.2 L446.5 144.2 L446.6 145.2 L446.7 146.2 L446.8 147.2 L447.0 148.1 L447.1 149.1 L447.2 150.1 L447.3 151.1 L447.4 152.1 L447.6 153.1 L447.7 154.1 L447.8 155.1 L447.9 156.1 L448.1 157.1 L448.2 158.1 L448.3 159.1 L448.4 160.1 L448.5 161.0 L448.7 162.0 L448.8 163.0 L448.9 164.0 L449.0 165.0 L449.2 166.0 L449.3 167.0 L449.4 168.0 L449.6 169.0 L449.7 170.0 L449.8 171.0 L450.0 172.0 L450.1 173.0 L450.2 173.9 L450.4 174.9 L450.5 175.9 L450.6 176.9 L450.8 177.9 L450.9 178.9 L451.0 179.9 L451.2 180.9 L451.3 181.9 L451.5 182.9 L451.6 183.8 L451.7 184.8 L451.9 185.8 L452.0 186.8 L452.2 187.8 L452.3 188.8 L452.5 189.8 L452.6 190.8 L452.8 191.8 L452.9 192.7 L453.1 193.7 L453.2 194.7 L453.4 195.7 L453.5 196.7 L453.7 197.7 L453.9 198.7 L454.0 199.7 L454.2 200.7 L454.3 201.6 L454.5 202.6 L454.7 203.6 L454.8 204.6 L455.0 205.6 L455.2 206.6 L455.3 207.6 L455.5 208.5 L455.7 209.5 L455.8 210.5 L456.0 211.5 L456.2 212.5 L456.4 213.5 L456.5 214.4 L456.7 215.4 L456.9 216.4 L457.1 217.4 L457.3 218.4 L457.5 219.4 L457.6 220.3 L457.8 221.3 L458.0 222.3 L458.2 223.3 L458.4 224.3 L458.6 225.3 L458.8 226.2 L459.0 227.2 L459.2 228.2 L459.4 229.2 L459.6 230.2 L459.8 231.1 L460.0 232.1 L460.2 233.1 L460.4 234.1 L460.6 235.0 L460.9 236.0 L461.1 237.0 L461.3 238.0 L461.5 238.9 L461.8 239.9 L462.0 240.9 L462.3 241.9 L462.5 242.8 L462.8 243.8 L463.0 244.8 L463.3 245.7 L463.5 246.7 L463.8 247.6 L464.1 248.6 L464.4 249.6 L464.7 250.5 L465.0 251.5 L465.3 252.4 L465.6 253.4 L465.9 254.3 L466.3 255.3 L466.6 256.2 L467.0 257.1 L467.3 258.1 L467.7 259.0 L468.0 259.9 L468.4 260.9 L468.8 261.8 L469.2 262.7 L469.6 263.6 L470.0 264.5 L470.4 265.4 L470.9 266.3 L471.3 267.2 L471.8 268.1 L472.2 269.0 L472.7 269.9 L473.2 270.8 L473.7 271.6 L474.2 272.5 L474.7 273.4 L475.2 274.2 L475.7 275.1 L476.3 275.9 L476.8 276.7 L477.4 277.6 L478.0 278.4 L478.5 279.2 L479.1 280.0 L479.8 280.8 L480.4 281.6 L481.0 282.4 L481.7 283.1 L482.3 283.9 L483.0 284.6 L483.7 285.4 L484.3 286.1 L485.0 286.8 L485.8 287.5 L486.5 288.2 L487.2 288.9 L487.9 289.6 L488.7 290.2 L489.4 290.9 L490.2 291.5 L491.0 292.1 L491.8 292.8 L492.6 293.4 L493.4 294.0 L494.2 294.6 L495.0 295.1 L495.8 295.7 L496.6 296.3 L497.5 296.8 L498.3 297.4 L499.2 297.9 L500.0 298.4 L500.9 298.9 L501.8 299.4 L502.6 299.9 L503.5 300.4 L504.4 300.8 L505.3 301.3 L506.2 301.7 L507.1 302.1 L508.0 302.6 L508.9 303.0 L509.8 303.4 L510.7 303.8 L511.7 304.2 L512.6 304.5 L513.5 304.9 L514.5 305.2 L515.4 305.6 L516.3 305.9 L517.3 306.3 L518.2 306.6 L519.2 306.9 L520.1 307.2 L521.1 307.5 L522.0 307.8 L523.0 308.1 L524.0 308.4 L524.9 308.7 L525.9 308.9 L526.8 309.2 L527.8 309.4 L528.8 309.7 L529.7 309.9 L530.7 310.2 L531.7 310.4 L532.7 310.6 L533.6 310.9 L534.6 311.1 L535.6 311.3 L536.6 311.5 L537.6 311.7 L538.5 311.9 L539.5 312.1 L540.5 312.3 L541.5 312.4 L542.5 312.6 L543.4 312.8 L544.4 313.0 L545.4 313.1 L546.4 313.3 L547.4 313.4 L548.4 313.6 L549.4 313.7 L550.4 313.9 L551.4 314.0 L552.3 314.2 L553.3 314.3 L554.3 314.4 L555.3 314.6 L556.3 314.7 L557.3 314.8 L558.3 314.9 L559.3 315.0 L560.3 315.2 L561.3 315.3 L562.3 315.4 L563.3 315.5 L564.3 315.6 L565.3 315.7 L566.2 315.8 L567.2 315.9 L568.2 316.0 L569.2 316.1 L570.2 316.2 L571.2 316.3 L572.2 316.4 L573.2 316.5 L574.2 316.6 L575.2 316.7 L576.2 316.7 L577.2 316.8 L578.2 316.9 L579.2 317.0 L580.2 317.1 L581.2 317.2 L582.2 317.2 L583.2 317.3 L584.2 317.4 L585.2 317.5 L586.2 317.6 L587.2 317.6 L588.2 317.7 L589.2 317.8 L590.2 317.8 L591.2 317.9 L592.2 318.0 L593.2 318.1 L594.1 318.1 L595.1 318.2 L596.1 318.3 L597.1 318.3 L598.1 318.4 L599.1 318.4 L600.1 318.5 L601.1 318.6 L602.1 318.6 L603.1 318.7 L604.1 318.7 L605.1 318.8 L606.1 318.8 L607.1 318.9 L608.1 319.0 L609.1 319.0 L610.1 319.1 L611.1 319.1 L612.1 319.2 L613.1 319.2 L614.1 319.3 L615.1 319.3 L616.1 319.4 L617.1 319.4 L618.1 319.5 L619.1 319.5 L620.1 319.5 L621.1 319.6 L622.1 319.6 L623.1 319.7 L624.1 319.7 L625.1 319.8 L626.1 319.8 L627.1 319.9 L628.1 319.9 L629.1 319.9 L630.1 320.0 L631.1 320.0 L632.1 320.1 L633.1 320.1 L634.1 320.1 L635.1 320.2 L636.1 320.2 L637.1 320.3 L638.1 320.3 L639.1 320.3 L640.1 320.4 L641.1 320.4 L642.1 320.4 L643.1 320.5 L644.1 320.5 L645.1 320.6 L646.1 320.6 L647.1 320.6 L648.1 320.7 L649.1 320.7 L650.1 320.7 L651.1 320.8 L652.1 320.8 L653.1 320.8 L654.1 320.9 L655.1 320.9 L656.1 321.0 L657.1 321.0 L658.1 321.0 L659.1 321.1 L660.1 321.1 L661.1 321.1 L662.1 321.2 L663.1 321.2 L664.1 321.3 L665.1 321.3 L666.1 321.3 L667.1 321.4 L668.1 321.4 L669.1 321.4 L670.1 321.5 L671.1 321.5 L672.1 321.6 L673.1 321.6" stroke="#30d030" stroke-width="1.5" fill="none"/>
<path d="M37.6 319.5 L38.6 319.5 L39.6 319.5 L40.6 319.5 L41.6 319.5 L42.6 319.6 L43.6 319.6 L44.6 319.6 L45.6 319.6 L46.6 319.6 L47.6 319.6 L48.6 319.6 L49.6 319.6 L50.6 319.6 L51.6 319.6 L52.6 319.6 L53.6 319.6 L54.6 319.6 L55.6 319.5 L56.6 319.5 L57.6 319.5 L58.6 319.5 L59.6 319.5 L60.6 319.5 L61.6 319.4 L62.6 319.4 L63.6 319.4 L64.6 319.3 L65.6 319.3 L66.6 319.3 L67.6 319.2 L68.6 319.2 L69.6 319.2 L70.6 319.1 L71.6 319.1 L72.6 319.0 L73.6 319.0 L74.6 319.0 L75.6 318.9 L76.6 318.9 L77.6 318.8 L78.6 318.7 L79.6 318.7 L80.6 318.6 L81.6 318.6 L82.6 318.5 L83.6 318.5 L84.6 318.4 L85.6 318.3 L86.6 318.3 L87.6 318.2 L88.6 318.1 L89.6 318.1 L90.6 318.0 L91.6 317.9 L92.6 317.9 L93.6 317.8 L94.5 317.7 L95.5 317.6 L96.5 317.6 L97.5 317.5 L98.5 317.4 L99.5 317.3 L100.5 317.3 L101.5 317.2 L102.5 317.1 L103.5 317.0 L104.5 316.9 L105.5 316.8 L106.5 316.8 L107.5 316.7 L108.5 316.6 L109.5 316.5 L110.5 316.4 L111.5 316.3 L112.5 316.2 L113.5 316.1 L114.5 316.1 L115.5 316.0 L116.5 315.9 L117.5 315.8 L118.5 315.7 L119.5 315.6 L120.5 315.5 L121.4 315.4 L122.4 315.3 L123.4 315.2 L124.4 315.1 L125.4 315.0 L126.4 314.9 L127.4 314.8 L128.4 314.7 L129.4 314.6 L130.4 314.4 L131.4 314.3 L132.4 314.2 L133.4 314.1 L134.4 314.0 L135.4 313.9 L136.4 313.8 L137.4 313.6 L138.3 313.5 L139.3 313.4 L140.3 313.3 L141.3 313.1 L142.3 313.0 L143.3 312.9 L144.3 312.8 L145.3 312.6 L146.3 312.5 L147.3 312.4 L148.3 312.2 L149.3 312.1 L150.2 311.9 L151.2 311.8 L152.2 311.7 L153.2 311.5 L154.2 311.4 L155.2 311.2 L156.2 311.1 L157.2 310.9 L158.2 310.7 L159.1 310.6 L160.1 310.4 L161.1 310.3 L162.1 310.1 L163.1 309.9 L164.1 309.8 L165.1 309.6 L166.0 309.4 L167.0 309.2 L168.0 309.1 L169.0 308.9 L170.0 308.7 L171.0 308.5 L171.9 308.3 L172.9 308.1 L173.9 307.9 L174.9 307.7 L175.9 307.5 L176.8 307.3 L177.8 307.1 L178.8 306.9 L179.8 306.7 L180.7 306.5 L181.7 306.2 L182.7 306.0 L183.7 305.8 L184.6 305.5 L185.6 305.3 L186.6 305.1 L187.5 304.8 L188.5 304.5 L189.5 304.3 L190.4 304.0 L191.4 303.8 L192.4 303.5 L193.3 303.2 L194.3 302.9 L195.2 302.6 L196.2 302.3 L197.2 302.0 L198.1 301.7 L199.1 301.4 L200.0 301.1 L201.0 300.8 L201.9 300.5 L202.9 300.2 L203.8 299.9 L204.8 299.6 L205.7 299.3 L206.7 298.9 L207.6 298.6 L208.6 298.3 L209.5 298.0 L210.4 297.6 L211.4 297.3 L212.3 297.0 L213.3 296.7 L214.2 296.3 L215.2 296.0 L216.1 295.7 L217.0 295.3 L218.0 295.0 L218.9 294.7 L219.9 294.3 L220.8 294.0 L221.8 293.7 L222.7 293.3 L223.7 293.0 L224.6 292.7 L225.5 292.3 L226.5 292.0 L227.4 291.7 L228.4 291.4 L229.3 291.0 L230.3 290.7 L231.2 290.4 L232.2 290.1 L233.1 289.8 L234.1 289.5 L235.0 289.1 L236.0 288.8 L236.9 288.5 L237.9 288.2 L238.8 287.9 L239.8 287.6 L240.7 287.4 L241.7 287.1 L242.7 286.8 L243.6 286.5 L244.6 286.2 L245.5 286.0 L246.5 285.7 L247.5 285.5 L248.4 285.2 L249.4 284.9 L250.4 284.7 L251.4 284.5 L252.3 284.2 L253.3 284.0 L254.3 283.8 L255.2 283.5 L256.2 283.3 L257.2 283.1 L258.2 282.9 L259.2 282.7 L260.1 282.5 L261.1 282.3 L262.1 282.0 L263.1 281.8 L264.0 281.6 L265.0 281.4 L266.0 281.1 L266.9 280.9 L267.9 280.6 L268.9 280.4 L269.8 280.1 L270.8 279.8 L271.8 279.5 L272.7 279.2 L273.7 278.9 L274.6 278.6 L275.6 278.3 L276.5 278.0 L277.5 277.7 L278.4 277.4 L279.4 277.1 L280.3 276.7 L281.3 276.4 L282.2 276.1 L283.2 275.8 L284.1 275.5 L285.1 275.2 L286.0 274.9 L287.0 274.6 L287.9 274.3 L288.9 274.1 L289.9 273.8 L290.8 273.6 L291.8 273.3 L292.8 273.1 L293.8 272.9 L294.7 272.7 L295.7 272.5 L296.7 272.3 L297.7 272.1 L298.7 271.8 L299.6 271.6 L300.6 271.4 L301.6 271.2 L302.6 270.9 L303.5 270.7 L304.5 270.5 L305.5 270.2 L306.4 270.0 L307.4 269.7 L308.4 269.4 L309.3 269.1 L310.3 268.8 L311.2 268.5 L312.2 268.2 L313.1 267.9 L314.0 267.5 L315.0 267.2 L315.9 266.8 L316.8 266.4 L317.8 266.0 L318.7 265.6 L319.6 265.2 L320.5 264.8 L321.4 264.3 L322.3 263.9 L323.2 263.4 L324.0 263.0 L324.9 262.5 L325.8 262.0 L326.7 261.5 L327.5 261.0 L328.4 260.4 L329.2 259.9 L330.1 259.4 L330.9 258.8 L331.7 258.3 L332.5 257.7 L333.4 257.1 L334.2 256.5 L335.0 255.9 L335.8 255.3 L336.6 254.7 L337.3 254.1 L338.1 253.5 L338.9 252.8 L339.7 252.2 L340.4 251.6 L341.2 250.9 L341.9 250.2 L342.7 249.6 L343.4 248.9 L344.1 248.2 L344.9 247.5 L345.6 246.8 L346.3 246.1 L347.0 245.4 L347.7 244.7 L348.4 244.0 L349.1 243.2 L349.8 242.5 L350.4 241.8 L351.1 241.0 L351.8 240.3 L352.4 239.5 L353.1 238.8 L353.7 238.0 L354.4 237.2 L355.0 236.5 L355.6 235.7 L356.2 234.9 L356.9 234.1 L357.5 233.3 L358.1 232.5 L358.7 231.7 L359.3 230.9 L359.9 230.1 L360.5 229.3 L361.0 228.5 L361.6 227.7 L362.2 226.9 L362.8 226.1 L363.3 225.2 L363.9 224.4 L364.5 223.6 L365.0 222.7 L365.6 221.9 L366.1 221.1 L366.7 220.2 L367.2 219.4 L367.7 218.5 L368.3 217.7 L368.8 216.8 L369.3 216.0 L369.8 215.1 L370.4 214.3 L370.9 213.4 L371.4 212.6 L371.9 211.7 L372.4 210.8 L372.9 210.0 L373.4 209.1 L373.9 208.2 L374.4 207.4 L374.9 206.5 L375.4 205.6 L375.8 204.7 L376.3 203.9 L376.8 203.0 L377.3 202.1 L377.7 201.2 L378.2 200.3 L378.6 199.4 L379.1 198.5 L379.5 197.6 L380.0 196.7 L380.4 195.8 L380.8 194.9 L381.2 194.0 L381.7 193.1 L382.1 192.2 L382.5 191.3 L382.9 190.4 L383.3 189.5 L383.6 188.5 L384.0 187.6 L384.4 186.7 L384.7 185.7 L385.1 184.8 L385.4 183.9 L385.8 182.9 L386.1 182.0 L386.4 181.0 L386.7 180.1 L387.1 179.1 L387.4 178.2 L387.7 177.2 L388.0 176.3 L388.3 175.3 L388.6 174.4 L388.8 173.4 L389.1 172.5 L389.4 171.5 L389.7 170.5 L390.0 169.6 L390.3 168.6 L390.6 167.7 L390.9 166.7 L391.1 165.8 L391.4 164.8 L391.7 163.8 L392.0 162.9 L392.3 161.9 L392.5 160.9 L392.8 160.0 L393.1 159.0 L393.4 158.1 L393.6 157.1 L393.9 156.1 L394.2 155.2 L394.4 154.2 L394.7 153.3 L395.0 152.3 L395.3 151.3 L395.5 150.4 L395.8 149.4 L396.1 148.4 L396.3 147.5 L396.6 146.5 L396.8 145.5 L397.1 144.6 L397.4 143.6 L397.6 142.6 L397.9 141.7 L398.1 140.7 L398.4 139.7 L398.7 138.8 L398.9 137.8 L399.2 136.9 L399.4 135.9 L399.7 134.9 L400.0 134.0 L400.2 133.0 L400.5 132.0 L400.7 131.1 L401.0 130.1 L401.2 129.1 L401.5 128.2 L401.7 127.2 L402.0 126.2 L402.2 125.2 L402.5 124.3 L402.8 123.3 L403.0 122.3 L403.3 121.4 L403.5 120.4 L403.8 119.4 L404.0 118.5 L404.3 117.5 L404.5 116.5 L404.8 115.6 L405.0 114.6 L405.3 113.6 L405.5 112.7 L405.8 111.7 L406.0 110.7 L406.3 109.8 L406.5 108.8 L406.8 107.8 L407.0 106.9 L407.3 105.9 L407.5 104.9 L407.8 104.0 L408.0 103.0 L408.3 102.0 L408.5 101.1 L408.8 100.1 L409.1 99.1 L409.3 98.2 L409.6 97.2 L409.8 96.2 L410.1 95.3 L410.3 94.3 L410.6 93.3 L410.8 92.3 L411.1 91.4 L411.3 90.4 L411.6 89.5 L411.9 88.5 L412.1 87.5 L412.4 86.6 L412.6 85.6 L412.9 84.6 L413.2 83.7 L413.5 82.7 L413.7 81.7 L414.0 80.8 L414.3 79.8 L414.5 78.9 L414.8 77.9 L415.1 76.9 L415.4 76.0 L415.7 75.0 L416.0 74.1 L416.3 73.1 L416.6 72.2 L416.9 71.2 L417.2 70.3 L417.5 69.3 L417.9 68.4 L418.2 67.4 L418.6 66.5 L419.0 65.6 L419.4 64.7 L419.8 63.7 L420.2 62.8 L420.6 61.9 L421.1 61.1 L421.6 60.2 L422.1 59.3 L422.6 58.5 L423.2 57.6 L423.8 56.8 L424.4 56.1 L425.2 55.5 L426.1 55.0 L427.1 54.9 L428.0 55.2 L428.7 55.9 L429.3 56.7 L429.8 57.6 L430.3 58.5 L430.8 59.3 L431.2 60.2 L431.6 61.1 L432.0 62.1 L432.4 63.0 L432.8 63.9 L433.1 64.9 L433.4 65.8 L433.7 66.8 L434.0 67.7 L434.3 68.7 L434.6 69.6 L434.8 70.6 L435.1 71.6 L435.3 72.6 L435.5 73.5 L435.7 74.5 L435.9 75.5 L436.1 76.5 L436.3 77.5 L436.5 78.4 L436.7 79.4 L436.9 80.4 L437.1 81.4 L437.3 82.4 L437.5 83.3 L437.7 84.3 L437.9 85.3 L438.0 86.3 L438.2 87.3 L438.4 88.2 L438.6 89.2 L438.8 90.2 L439.0 91.2 L439.1 92.2 L439.3 93.2 L439.5 94.2 L439.6 95.1 L439.8 96.1 L440.0 97.1 L440.2 98.1 L440.3 99.1 L440.5 100.1 L440.6 101.1 L440.8 102.0 L441.0 103.0 L441.1 104.0 L441.3 105.0 L441.4 106.0 L441.6 107.0 L441.7 108.0 L441.9 109.0 L442.0 110.0 L442.2 110.9 L442.3 111.9 L442.4 112.9 L442.6 113.9 L442.7 114.9 L442.9 115.9 L443.0 116.9 L443.1 117.9 L443.3 118.9 L443.4 119.9 L443.5 120.8 L443.7 121.8 L443.8 122.8 L443.9 123.8 L444.1 124.8 L444.2 125.8 L444.3 126.8 L444.5 127.8 L444.6 128.8 L444.7 129.8 L444.8 130.8 L445.0 131.8 L445.1 132.7 L445.2 133.7 L445.3 134.7 L445.4 135.7 L445.6 136.7 L445.7 137.7 L445.8 138.7 L445.9 139.7 L446.1 140.7 L446.2 141.7 L446.3 142.7 L446.4 143.7 L446.5 144.7 L446.7 145.6 L446.8 146.6 L446.9 147.6 L447.0 148.6 L447.1 149.6 L447.3 150.6 L447.4 151.6 L447.5 152.6 L447.6 153.6 L447.7 154.6 L447.9 155.6 L448.0 156.6 L448.1 157.6 L448.2 158.6 L448.4 159.5 L448.5 160.5 L448.6 161.5 L448.7 162.5 L448.9 163.5 L449.0 164.5 L449.1 165.5 L449.2 166.5 L449.4 167.5 L449.5 168.5 L449.6 169.5 L449.7 170.5 L449.9 171.4 L450.0 172.4 L450.1 173.4 L450.3 174.4 L450.4 175.4 L450.5 176.4 L450.7 177.4 L450.8 178.4 L451.0 179.4 L451.1 180.4 L451.2 181.4 L451.4 182.3 L451.5 183.3 L451.7 184.3 L451.8 185.3 L452.0 186.3 L452.1 187.3 L452.2 188.3 L452.4 189.3 L452.5 190.3 L452.7 191.2 L452.8 192.2 L453.0 193.2 L453.2 194.2 L453.3 195.2 L453.5 196.2 L453.6 197.2 L453.8 198.2 L453.9 199.2 L454.1 200.1 L454.3 201.1 L454.4 202.1 L454.6 203.1 L454.8 204.1 L454.9 205.1 L455.1 206.1 L455.3 207.0 L455.4 208.0 L455.6 209.0 L455.8 210.0 L455.9 211.0 L456.1 212.0 L456.3 213.0 L456.5 213.9 L456.6 214.9 L456.8 215.9 L457.0 216.9 L457.2 217.9 L457.4 218.9 L457.6 219.8 L457.7 220.8 L457.9 221.8 L458.1 222.8 L458.3 223.8 L458.5 224.7 L458.7 225.7 L458.9 226.7 L459.1 227.7 L459.3 228.7 L459.5 229.6 L459.7 230.6 L459.9 231.6 L460.1 232.6 L460.3 233.6 L460.5 234.5 L460.7 235.5 L460.9 236.5 L461.2 237.5 L461.4 238.4 L461.6 239.4 L461.9 240.4 L462.1 241.4 L462.3 242.3 L462.6 243.3 L462.8 244.3 L463.1 245.2 L463.4 246.2 L463.6 247.2 L463.9 248.1 L464.2 249.1 L464.5 250.0 L464.8 251.0 L465.1 251.9 L465.4 252.9 L465.7 253.8 L466.1 254.8 L466.4 255.7 L466.8 256.7 L467.1 257.6 L467.5 258.5 L467.8 259.5 L468.2 260.4 L468.6 261.3 L469.0 262.2 L469.4 263.1 L469.8 264.0 L470.2 265.0 L470.7 265.9 L471.1 266.8 L471.6 267.6 L472.0 268.5 L472.5 269.4 L473.0 270.3 L473.5 271.2 L474.0 272.0 L474.5 272.9 L475.0 273.8 L475.5 274.6 L476.0 275.4 L476.6 276.3 L477.2 277.1 L477.7 277.9 L478.3 278.7 L478.9 279.5 L479.5 280.3 L480.1 281.1 L480.7 281.9 L481.4 282.7 L482.0 283.4 L482.7 284.2 L483.4 284.9 L484.0 285.7 L484.7 286.4 L485.4 287.1 L486.1 287.8 L486.8 288.5 L487.6 289.2 L488.3 289.9 L489.1 290.5 L489.8 291.2 L490.6 291.8 L491.4 292.5 L492.1 293.1 L492.9 293.7 L493.7 294.3 L494.5 294.9 L495.3 295.5 L496.2 296.1 L497.0 296.6 L497.8 297.2 L498.7 297.7 L499.5 298.2 L500.4 298.7 L501.3 299.2 L502.1 299.7 L503.0 300.2 L503.9 300.7 L504.8 301.1 L505.7 301.6 L506.6 302.0 L507.5 302.4 L508.4 302.8 L509.3 303.2 L510.2 303.6 L511.2 304.0 L512.1 304.4 L513.0 304.7 L514.0 305.1 L514.9 305.4 L515.8 305.7 L516.8 306.1 L517.7 306.4 L518.7 306.7 L519.6 307.0 L520.6 307.3 L521.6 307.6 L522.5 307.9 L523.5 308.2 L524.4 308.4 L525.4 308.7 L526.4 309.0 L527.3 309.2 L528.3 309.5 L529.3 309.7 L530.2 310.0 L531.2 310.2 L532.2 310.4 L533.2 310.6 L534.1 310.9 L535.1 311.1 L536.1 311.3 L537.1 311.5 L538.0 311.7 L539.0 311.9 L540.0 312.1 L541.0 312.3 L542.0 312.4 L543.0 312.6 L543.9 312.8 L544.9 313.0 L545.9 313.1 L546.9 313.3 L547.9 313.5 L548.9 313.6 L549.9 313.8 L550.9 313.9 L551.8 314.1 L552.8 314.2 L553.8 314.3 L554.8 314.5 L555.8 314.6 L556.8 314.7 L557.8 314.9 L558.8 315.0 L559.8 315.1 L560.8 315.2 L561.8 315.3 L562.8 315.4 L563.8 315.6 L564.7 315.7 L565.7 315.8 L566.7 315.9 L567.7 316.0 L568.7 316.1 L569.7 316.2 L570.7 316.3 L571.7 316.4 L572.7 316.5 L573.7 316.6 L574.7 316.7 L575.7 316.8 L576.7 316.8 L577.7 316.9 L578.7 317.0 L579.7 317.1 L580.7 317.2 L581.7 317.3 L582.7 317.3 L583.7 317.4 L584.7 317.5 L585.7 317.6 L586.7 317.7 L587.7 317.7 L588.6 317.8 L589.6 317.9 L590.6 317.9 L591.6 318.0 L592.6 318.1 L593.6 318.1 L594.6 318.2 L595.6 318.3 L596.6 318.3 L597.6 318.4 L598.6 318.5 L599.6 318.5 L600.6 318.6 L601.6 318.6 L602.6 318.7 L603.6 318.7 L604.6 318.8 L605.6 318.9 L606.6 318.9 L607.6 319.0 L608.6 319.0 L609.6 319.1 L610.6 319.1 L611.6 319.2 L612.6 319.2 L613.6 319.3 L614.6 319.3 L615.6 319.3 L616.6 319.4 L617.6 319.4 L618.6 319.5 L619.6 319.5 L620.6 319.6 L621.6 319.6 L622.6 319.7 L623.6 319.7 L624.6 319.7 L625.6 319.8 L626.6 319.8 L627.6 319.9 L628.6 319.9 L629.6 319.9 L630.6 320.0 L631.6 320.0 L632.6 320.1 L633.6 320.1 L634.6 320.1 L635.6 320.2 L636.6 320.2 L637.6 320.2 L638.6 320.3 L639.6 320.3 L640.6 320.4 L641.6 320.4 L642.6 320.4 L643.6 320.5 L644.6 320.5 L645.6 320.5 L646.6 320.6 L647.6 320.6 L648.6 320.6 L649.6 320.7 L650.6 320.7 L651.6 320.8 L652.6 320.8 L653.6 320.8 L654.6 320.9 L655.6 320.9 L656.6 320.9 L657.6 321.0 L658.6 321.0 L659.6 321.1 L660.6 321.1 L661.6 321.1 L662.6 321.2 L663.6 321.2 L664.6 321.3 L665.6 321.3 L666.6 321.3 L667.6 321.4 L668.6 321.4 L669.6 321.5 L670.6 321.5 L671.6 321.6 L672.6 321.6 L673.6 321.6" stroke="#2a2a9a" stroke-width="1.5" fill="none"/>
<path d="M37.6 319.5 L38.6 319.5 L39.6 319.5 L40.6 319.5 L41.6 319.5 L42.6 319.5 L43.6 319.6 L44.6 319.6 L45.6 319.6 L46.6 319.6 L47.6 319.6 L48.6 319.6 L49.6 319.6 L50.6 319.6 L51.6 319.6 L52.6 319.6 L53.6 319.6 L54.6 319.5 L55.6 319.5 L56.6 319.5 L57.6 319.5 L58.6 319.5 L59.6 319.5 L60.6 319.4 L61.6 319.4 L62.6 319.4 L63.6 319.4 L64.6 319.3 L65.6 319.3 L66.6 319.3 L67.6 319.2 L68.6 319.2 L69.6 319.2 L70.6 319.1 L71.6 319.1 L72.6 319.0 L73.6 319.0 L74.6 319.0 L75.6 318.9 L76.6 318.9 L77.6 318.8 L78.6 318.8 L79.6 318.7 L80.6 318.6 L81.6 318.6 L82.6 318.5 L83.6 318.5 L84.6 318.4 L85.6 318.4 L86.6 318.3 L87.6 318.2 L88.6 318.2 L89.6 318.1 L90.6 318.0 L91.6 318.0 L92.6 317.9 L93.6 317.8 L94.6 317.7 L95.5 317.7 L96.5 317.6 L97.5 317.5 L98.5 317.4 L99.5 317.4 L100.5 317.3 L101.5 317.2 L102.5 317.1 L103.5 317.0 L104.5 317.0 L105.5 316.9 L106.5 316.8 L107.5 316.7 L108.5 316.6 L109.5 316.5 L110.5 316.4 L111.5 316.3 L112.5 316.2 L113.5 316.2 L114.5 316.1 L115.5 316.0 L116.5 315.9 L117.5 315.8 L118.5 315.7 L119.5 315.6 L120.5 315.5 L121.4 315.4 L122.4 315.3 L123.4 315.2 L124.4 315.1 L125.4 315.0 L126.4 314.9 L127.4 314.7 L128.4 314.6 L129.4 314.5 L130.4 314.4 L131.4 314.3 L132.4 314.2 L133.4 314.1 L134.4 314.0 L135.4 313.8 L136.4 313.7 L137.3 313.6 L138.3 313.5 L139.3 313.4 L140.3 313.2 L141.3 313.1 L142.3 313.0 L143.3 312.8 L144.3 312.7 L145.3 312.6 L146.3 312.5 L147.3 312.3 L148.3 312.2 L149.2 312.0 L150.2 311.9 L151.2 311.8 L152.2 311.6 L153.2 311.5 L154.2 311.3 L155.2 311.2 L156.2 311.0 L157.2 310.9 L158.2 310.7 L159.1 310.6 L160.1 310.4 L161.1 310.3 L162.1 310.1 L163.1 310.0 L164.1 309.8 L165.1 309.6 L166.1 309.5 L167.0 309.3 L168.0 309.1 L169.0 309.0 L170.0 308.8 L171.0 308.6 L172.0 308.4 L172.9 308.3 L173.9 308.1 L174.9 307.9 L175.9 307.7 L176.9 307.5 L177.9 307.3 L178.8 307.1 L179.8 306.9 L180.8 306.7 L181.8 306.5 L182.7 306.3 L183.7 306.0 L184.7 305.8 L185.7 305.6 L186.6 305.4 L187.6 305.1 L188.6 304.9 L189.5 304.6 L190.5 304.4 L191.5 304.1 L192.4 303.8 L193.4 303.6 L194.4 303.3 L195.3 303.0 L196.3 302.8 L197.3 302.5 L198.2 302.2 L199.2 301.9 L200.1 301.6 L201.1 301.3 L202.0 301.0 L203.0 300.7 L203.9 300.4 L204.9 300.1 L205.8 299.8 L206.8 299.5 L207.7 299.2 L208.7 298.9 L209.6 298.5 L210.6 298.2 L211.5 297.9 L212.5 297.6 L213.4 297.3 L214.4 297.0 L215.3 296.6 L216.3 296.3 L217.2 296.0 L218.2 295.7 L219.1 295.4 L220.1 295.0 L221.0 294.7 L222.0 294.4 L222.9 294.1 L223.9 293.8 L224.8 293.5 L225.8 293.2 L226.7 292.9 L227.7 292.6 L228.6 292.3 L229.6 291.9 L230.5 291.6 L231.5 291.3 L232.4 291.1 L233.4 290.8 L234.4 290.5 L235.3 290.2 L236.3 289.9 L237.2 289.6 L238.2 289.3 L239.2 289.0 L240.1 288.8 L241.1 288.5 L242.0 288.2 L243.0 288.0 L244.0 287.7 L244.9 287.4 L245.9 287.2 L246.9 286.9 L247.8 286.7 L248.8 286.4 L249.8 286.2 L250.7 285.9 L251.7 285.7 L252.7 285.5 L253.7 285.2 L254.6 285.0 L255.6 284.8 L256.6 284.6 L257.6 284.3 L258.5 284.1 L259.5 283.9 L260.5 283.7 L261.5 283.4 L262.4 283.2 L263.4 283.0 L264.4 282.7 L265.3 282.5 L266.3 282.2 L267.3 281.9 L268.2 281.7 L269.2 281.4 L270.1 281.1 L271.1 280.8 L272.0 280.5 L273.0 280.2 L273.9 279.9 L274.9 279.5 L275.8 279.2 L276.8 278.9 L277.7 278.5 L278.7 278.2 L279.6 277.9 L280.5 277.5 L281.5 277.2 L282.4 276.9 L283.4 276.5 L284.3 276.2 L285.3 275.9 L286.2 275.6 L287.2 275.3 L288.1 275.0 L289.1 274.7 L290.1 274.5 L291.0 274.2 L292.0 274.0 L293.0 273.8 L294.0 273.5 L294.9 273.3 L295.9 273.1 L296.9 272.9 L297.9 272.7 L298.8 272.5 L299.8 272.2 L300.8 272.0 L301.8 271.8 L302.7 271.5 L303.7 271.3 L304.7 271.0 L305.6 270.7 L306.6 270.5 L307.5 270.2 L308.5 269.9 L309.5 269.6 L310.4 269.3 L311.4 269.0 L312.3 268.7 L313.2 268.3 L314.2 268.0 L315.1 267.6 L316.0 267.2 L317.0 266.9 L317.9 266.5 L318.8 266.1 L319.7 265.6 L320.6 265.2 L321.5 264.8 L322.4 264.3 L323.3 263.9 L324.2 263.4 L325.1 262.9 L325.9 262.4 L326.8 261.9 L327.7 261.4 L328.5 260.9 L329.4 260.4 L330.2 259.8 L331.0 259.3 L331.9 258.7 L332.7 258.2 L333.5 257.6 L334.3 257.0 L335.1 256.4 L335.9 255.8 L336.7 255.2 L337.5 254.6 L338.3 254.0 L339.1 253.3 L339.8 252.7 L340.6 252.1 L341.4 251.4 L342.1 250.7 L342.9 250.1 L343.6 249.4 L344.3 248.7 L345.1 248.0 L345.8 247.3 L346.5 246.6 L347.2 245.9 L347.9 245.2 L348.6 244.5 L349.3 243.8 L350.0 243.0 L350.6 242.3 L351.3 241.6 L352.0 240.8 L352.6 240.1 L353.3 239.3 L353.9 238.5 L354.6 237.8 L355.2 237.0 L355.8 236.2 L356.5 235.4 L357.1 234.7 L357.7 233.9 L358.3 233.1 L358.9 232.3 L359.5 231.5 L360.1 230.7 L360.7 229.9 L361.3 229.1 L361.9 228.3 L362.4 227.4 L363.0 226.6 L363.6 225.8 L364.2 225.0 L364.7 224.1 L365.3 223.3 L365.8 222.5 L366.4 221.6 L366.9 220.8 L367.5 220.0 L368.0 219.1 L368.5 218.3 L369.1 217.4 L369.6 216.6 L370.1 215.7 L370.7 214.9 L371.2 214.0 L371.7 213.2 L372.2 212.3 L372.7 211.5 L373.2 210.6 L373.7 209.7 L374.2 208.9 L374.7 208.0 L375.2 207.1 L375.7 206.3 L376.2 205.4 L376.7 204.5 L377.2 203.6 L377.6 202.8 L378.1 201.9 L378.6 201.0 L379.0 200.1 L379.5 199.2 L379.9 198.3 L380.4 197.4 L380.8 196.5 L381.2 195.6 L381.7 194.7 L382.1 193.8 L382.5 192.9 L382.9 192.0 L383.3 191.0 L383.7 190.1 L384.0 189.2 L384.4 188.3 L384.8 187.3 L385.1 186.4 L385.5 185.5 L385.8 184.5 L386.1 183.6 L386.4 182.6 L386.8 181.7 L387.1 180.7 L387.4 179.8 L387.7 178.8 L388.0 177.9 L388.2 176.9 L388.5 175.9 L388.8 175.0 L389.1 174.0 L389.4 173.1 L389.7 172.1 L390.0 171.2 L390.2 170.2 L390.5 169.2 L390.8 168.3 L391.1 167.3 L391.4 166.3 L391.6 165.4 L391.9 164.4 L392.2 163.5 L392.5 162.5 L392.7 161.5 L393.0 160.6 L393.3 159.6 L393.5 158.7 L393.8 157.7 L394.1 156.7 L394.3 155.8 L394.6 154.8 L394.9 153.8 L395.1 152.9 L395.4 151.9 L395.7 150.9 L395.9 150.0 L396.2 149.0 L396.4 148.0 L396.7 147.1 L397.0 146.1 L397.2 145.1 L397.5 144.2 L397.7 143.2 L398.0 142.2 L398.3 141.3 L398.5 140.3 L398.8 139.3 L399.0 138.4 L399.3 137.4 L399.5 136.4 L399.8 135.5 L400.0 134.5 L400.3 133.5 L400.5 132.6 L400.8 131.6 L401.0 130.6 L401.3 129.7 L401.5 128.7 L401.8 127.7 L402.0 126.8 L402.3 125.8 L402.5 124.8 L402.8 123.9 L403.0 122.9 L403.3 121.9 L403.5 121.0 L403.8 120.0 L404.0 119.0 L404.3 118.1 L404.5 117.1 L404.8 116.1 L405.0 115.1 L405.3 114.2 L405.5 113.2 L405.8 112.2 L406.0 111.3 L406.3 110.3 L406.5 109.3 L406.8 108.4 L407.0 107.4 L407.2 106.4 L407.5 105.5 L407.7 104.5 L408.0 103.5 L408.2 102.5 L408.5 101.6 L408.7 100.6 L409.0 99.6 L409.2 98.7 L409.5 97.7 L409.7 96.7 L409.9 95.8 L410.2 94.8 L410.4 93.8 L410.7 92.9 L410.9 91.9 L411.2 90.9 L411.4 89.9 L411.7 89.0 L411.9 88.0 L412.2 87.0 L412.4 86.1 L412.7 85.1 L413.0 84.1 L413.2 83.2 L413.5 82.2 L413.7 81.2 L414.0 80.3 L414.3 79.3 L414.5 78.4 L414.8 77.4 L415.1 76.4 L415.4 75.5 L415.7 74.5 L416.0 73.6 L416.2 72.6 L416.6 71.7 L416.9 70.7 L417.2 69.8 L417.5 68.8 L417.9 67.9 L418.2 66.9 L418.6 66.0 L419.0 65.1 L419.4 64.2 L419.8 63.3 L420.3 62.4 L420.7 61.5 L421.2 60.6 L421.7 59.8 L422.2 58.9 L422.8 58.1 L423.4 57.3 L424.0 56.5 L424.7 55.8 L425.6 55.2 L426.5 54.9 L427.5 55.0 L428.3 55.5 L429.0 56.3 L429.5 57.1 L430.0 58.0 L430.5 58.8 L431.0 59.7 L431.4 60.6 L431.8 61.5 L432.2 62.5 L432.6 63.4 L432.9 64.3 L433.3 65.3 L433.6 66.2 L433.9 67.2 L434.2 68.1 L434.4 69.1 L434.7 70.1 L434.9 71.0 L435.1 72.0 L435.4 73.0 L435.6 74.0 L435.8 74.9 L436.0 75.9 L436.2 76.9 L436.4 77.9 L436.6 78.9 L436.8 79.8 L437.0 80.8 L437.2 81.8 L437.4 82.8 L437.6 83.8 L437.7 84.7 L437.9 85.7 L438.1 86.7 L438.3 87.7 L438.5 88.7 L438.7 89.7 L438.9 90.6 L439.0 91.6 L439.2 92.6 L439.4 93.6 L439.6 94.6 L439.7 95.6 L439.9 96.5 L440.1 97.5 L440.2 98.5 L440.4 99.5 L440.5 100.5 L440.7 101.5 L440.9 102.5 L441.0 103.5 L441.2 104.4 L441.3 105.4 L441.5 106.4 L441.6 107.4 L441.8 108.4 L441.9 109.4 L442.1 110.4 L442.2 111.4 L442.4 112.4 L442.5 113.3 L442.6 114.3 L442.8 115.3 L442.9 116.3 L443.1 117.3 L443.2 118.3 L443.3 119.3 L443.5 120.3 L443.6 121.3 L443.7 122.3 L443.9 123.3 L444.0 124.2 L444.1 125.2 L444.3 126.2 L444.4 127.2 L444.5 128.2 L444.6 129.2 L444.8 130.2 L444.9 131.2 L445.0 132.2 L445.1 133.2 L445.3 134.2 L445.4 135.2 L445.5 136.1 L445.6 137.1 L445.7 138.1 L445.9 139.1 L446.0 140.1 L446.1 141.1 L446.2 142.1 L446.3 143.1 L446.5 144.1 L446.6 145.1 L446.7 146.1 L446.8 147.1 L446.9 148.1 L447.1 149.1 L447.2 150.0 L447.3 151.0 L447.4 152.0 L447.6 153.0 L447.7 154.0 L447.8 155.0 L447.9 156.0 L448.0 157.0 L448.2 158.0 L448.3 159.0 L448.4 160.0 L448.5 161.0 L448.7 162.0 L448.8 162.9 L448.9 163.9 L449.0 164.9 L449.2 165.9 L449.3 166.9 L449.4 167.9 L449.5 168.9 L449.7 169.9 L449.8 170.9 L449.9 171.9 L450.1 172.9 L450.2 173.9 L450.3 174.8 L450.5 175.8 L450.6 176.8 L450.7 177.8 L450.9 178.8 L451.0 179.8 L451.2 180.8 L451.3 181.8 L451.4 182.8 L451.6 183.8 L451.7 184.7 L451.9 185.7 L452.0 186.7 L452.2 187.7 L452.3 188.7 L452.5 189.7 L452.6 190.7 L452.8 191.7 L452.9 192.7 L453.1 193.6 L453.2 194.6 L453.4 195.6 L453.5 196.6 L453.7 197.6 L453.9 198.6 L454.0 199.6 L454.2 200.6 L454.3 201.5 L454.5 202.5 L454.7 203.5 L454.8 204.5 L455.0 205.5 L455.2 206.5 L455.3 207.5 L455.5 208.4 L455.7 209.4 L455.8 210.4 L456.0 211.4 L456.2 212.4 L456.4 213.4 L456.5 214.4 L456.7 215.3 L456.9 216.3 L457.1 217.3 L457.3 218.3 L457.5 219.3 L457.6 220.3 L457.8 221.2 L458.0 222.2 L458.2 223.2 L458.4 224.2 L458.6 225.2 L458.8 226.1 L459.0 227.1 L459.2 228.1 L459.4 229.1 L459.6 230.1 L459.8 231.0 L460.0 232.0 L460.2 233.0 L460.4 234.0 L460.6 235.0 L460.8 235.9 L461.0 236.9 L461.3 237.9 L461.5 238.9 L461.7 239.8 L462.0 240.8 L462.2 241.8 L462.4 242.7 L462.7 243.7 L463.0 244.7 L463.2 245.6 L463.5 246.6 L463.8 247.6 L464.0 248.5 L464.3 249.5 L464.6 250.4 L464.9 251.4 L465.2 252.3 L465.5 253.3 L465.9 254.2 L466.2 255.2 L466.5 256.1 L466.9 257.1 L467.3 258.0 L467.6 258.9 L468.0 259.9 L468.4 260.8 L468.8 261.7 L469.2 262.6 L469.6 263.5 L470.0 264.4 L470.4 265.3 L470.9 266.2 L471.3 267.1 L471.8 268.0 L472.2 268.9 L472.7 269.8 L473.2 270.7 L473.7 271.5 L474.2 272.4 L474.7 273.3 L475.2 274.1 L475.8 275.0 L476.3 275.8 L476.9 276.6 L477.4 277.4 L478.0 278.3 L478.6 279.1 L479.2 279.9 L479.8 280.7 L480.4 281.5 L481.0 282.2 L481.7 283.0 L482.3 283.8 L483.0 284.5 L483.7 285.3 L484.3 286.0 L485.0 286.7 L485.7 287.4 L486.4 288.1 L487.2 288.8 L487.9 289.5 L488.6 290.2 L489.4 290.8 L490.1 291.5 L490.9 292.1 L491.7 292.8 L492.5 293.4 L493.3 294.0 L494.1 294.6 L494.9 295.2 L495.7 295.7 L496.5 296.3 L497.3 296.9 L498.2 297.4 L499.0 297.9 L499.9 298.5 L500.8 299.0 L501.6 299.5 L502.5 300.0 L503.4 300.4 L504.3 300.9 L505.2 301.3 L506.1 301.8 L507.0 302.2 L507.9 302.6 L508.8 303.0 L509.7 303.4 L510.6 303.8 L511.6 304.2 L512.5 304.5 L513.4 304.9 L514.4 305.2 L515.3 305.6 L516.3 305.9 L517.2 306.2 L518.1 306.5 L519.1 306.8 L520.1 307.1 L521.0 307.4 L522.0 307.7 L522.9 308.0 L523.9 308.2 L524.9 308.5 L525.8 308.8 L526.8 309.0 L527.8 309.3 L528.7 309.5 L529.7 309.8 L530.7 310.0 L531.6 310.3 L532.6 310.5 L533.6 310.7 L534.6 310.9 L535.5 311.1 L536.5 311.3 L537.5 311.5 L538.5 311.7 L539.5 311.9 L540.4 312.1 L541.4 312.3 L542.4 312.5 L543.4 312.7 L544.4 312.8 L545.4 313.0 L546.3 313.2 L547.3 313.3 L548.3 313.5 L549.3 313.7 L550.3 313.8 L551.3 314.0 L552.3 314.1 L553.3 314.2 L554.3 314.4 L555.2 314.5 L556.2 314.6 L557.2 314.8 L558.2 314.9 L559.2 315.0 L560.2 315.2 L561.2 315.3 L562.2 315.4 L563.2 315.5 L564.2 315.6 L565.2 315.7 L566.2 315.8 L567.2 315.9 L568.2 316.0 L569.1 316.1 L570.1 316.2 L571.1 316.3 L572.1 316.4 L573.1 316.5 L574.1 316.6 L575.1 316.7 L576.1 316.8 L577.1 316.9 L578.1 317.0 L579.1 317.1 L580.1 317.2 L581.1 317.2 L582.1 317.3 L583.1 317.4 L584.1 317.5 L585.1 317.6 L586.1 317.6 L587.1 317.7 L588.1 317.8 L589.1 317.8 L590.1 317.9 L591.1 318.0 L592.1 318.1 L593.1 318.1 L594.1 318.2 L595.1 318.3 L596.1 318.3 L597.1 318.4 L598.1 318.4 L599.1 318.5 L600.1 318.6 L601.1 318.6 L602.1 318.7 L603.0 318.7 L604.0 318.8 L605.0 318.8 L606.0 318.9 L607.0 318.9 L608.0 319.0 L609.0 319.0 L610.0 319.1 L611.0 319.1 L612.0 319.2 L613.0 319.2 L614.0 319.3 L615.0 319.3 L616.0 319.4 L617.0 319.4 L618.0 319.5 L619.0 319.5 L620.0 319.5 L621.0 319.6 L622.0 319.6 L623.0 319.7 L624.0 319.7 L625.0 319.8 L626.0 319.8 L627.0 319.8 L628.0 319.9 L629.0 319.9 L630.0 319.9 L631.0 320.0 L632.0 320.0 L633.0 320.1 L634.0 320.1 L635.0 320.1 L636.0 320.2 L637.0 320.2 L638.0 320.2 L639.0 320.3 L640.0 320.3 L641.0 320.4 L642.0 320.4 L643.0 320.4 L644.0 320.5 L645.0 320.5 L646.0 320.5 L647.0 320.6 L648.0 320.6 L649.0 320.6 L650.0 320.7 L651.0 320.7 L652.0 320.8 L653.0 320.8 L654.0 320.8 L655.0 320.9 L656.0 320.9 L657.0 320.9 L658.0 321.0 L659.0 321.0 L660.0 321.1 L661.0 321.1 L662.0 321.1 L663.0 321.2 L664.0 321.2 L665.0 321.3 L666.0 321.3 L667.0 321.4 L668.0 321.4 L669.0 321.4 L670.0 321.5 L671.0 321.5 L672.0 321.6 L673.0 321.6" stroke="#c050d8" stroke-width="1.5" fill="none"/>
<path d="M37.6 319.5 L38.6 319.5 L39.6 319.5 L40.6 319.5 L41.6 319.5 L42.6 319.5 L43.6 319.6 L44.6 319.6 L45.6 319.6 L46.6 319.6 L47.6 319.6 L48.6 319.6 L49.6 319.6 L50.6 319.6 L51.6 319.6 L52.6 319.5 L53.6 319.5 L54.6 319.5 L55.6 319.5 L56.6 319.5 L57.6 319.5 L58.6 319.5 L59.6 319.4 L60.6 319.4 L61.6 319.4 L62.6 319.4 L63.6 319.3 L64.6 319.3 L65.6 319.3 L66.6 319.3 L67.6 319.2 L68.6 319.2 L69.6 319.2 L70.6 319.1 L71.6 319.1 L72.6 319.0 L73.6 319.0 L74.6 318.9 L75.6 318.9 L76.6 318.9 L77.6 318.8 L78.6 318.8 L79.6 318.7 L80.6 318.7 L81.6 318.6 L82.6 318.5 L83.6 318.5 L84.6 318.4 L85.6 318.4 L86.6 318.3 L87.6 318.2 L88.6 318.2 L89.6 318.1 L90.6 318.1 L91.6 318.0 L92.6 317.9 L93.6 317.8 L94.6 317.8 L95.6 317.7 L96.5 317.6 L97.5 317.6 L98.5 317.5 L99.5 317.4 L100.5 317.3 L101.5 317.2 L102.5 317.2 L103.5 317.1 L104.5 317.0 L105.5 316.9 L106.5 316.8 L107.5 316.7 L108.5 316.6 L109.5 316.5 L110.5 316.5 L111.5 316.4 L112.5 316.3 L113.5 316.2 L114.5 316.1 L115.5 316.0 L116.5 315.9 L117.5 315.8 L118.5 315.7 L119.5 315.6 L120.5 315.5 L121.4 315.4 L122.4 315.3 L123.4 315.2 L124.4 315.0 L125.4 314.9 L126.4 314.8 L127.4 314.7 L128.4 314.6 L129.4 314.5 L130.4 314.4 L131.4 314.3 L132.4 314.1 L133.4 314.0 L134.4 313.9 L135.4 313.8 L136.3 313.7 L137.3 313.5 L138.3 313.4 L139.3 313.3 L140.3 313.2 L141.3 313.0 L142.3 312.9 L143.3 312.8 L144.3 312.7 L145.3 312.5 L146.3 312.4 L147.3 312.3 L148.3 312.1 L149.2 312.0 L150.2 311.9 L151.2 311.7 L152.2 311.6 L153.2 311.5 L154.2 311.3 L155.2 311.2 L156.2 311.0 L157.2 310.9 L158.2 310.7 L159.1 310.6 L160.1 310.5 L161.1 310.3 L162.1 310.2 L163.1 310.0 L164.1 309.9 L165.1 309.7 L166.1 309.6 L167.1 309.4 L168.0 309.3 L169.0 309.1 L170.0 309.0 L171.0 308.8 L172.0 308.6 L173.0 308.5 L174.0 308.3 L175.0 308.1 L175.9 308.0 L176.9 307.8 L177.9 307.6 L178.9 307.4 L179.9 307.2 L180.9 307.1 L181.8 306.9 L182.8 306.7 L183.8 306.5 L184.8 306.3 L185.8 306.1 L186.7 305.8 L187.7 305.6 L188.7 305.4 L189.7 305.2 L190.6 304.9 L191.6 304.7 L192.6 304.5 L193.5 304.2 L194.5 304.0 L195.5 303.7 L196.4 303.4 L197.4 303.2 L198.4 302.9 L199.3 302.6 L200.3 302.4 L201.2 302.1 L202.2 301.8 L203.2 301.5 L204.1 301.2 L205.1 300.9 L206.0 300.7 L207.0 300.4 L208.0 300.1 L208.9 299.8 L209.9 299.5 L210.8 299.2 L211.8 298.9 L212.7 298.6 L213.7 298.3 L214.6 298.0 L215.6 297.7 L216.6 297.4 L217.5 297.1 L218.5 296.8 L219.4 296.5 L220.4 296.3 L221.3 296.0 L222.3 295.7 L223.3 295.4 L224.2 295.1 L225.2 294.8 L226.1 294.5 L227.1 294.3 L228.1 294.0 L229.0 293.7 L230.0 293.5 L230.9 293.2 L231.9 292.9 L232.9 292.7 L233.8 292.4 L234.8 292.1 L235.8 291.9 L236.7 291.6 L237.7 291.4 L238.7 291.1 L239.6 290.9 L240.6 290.6 L241.6 290.4 L242.5 290.1 L243.5 289.9 L244.5 289.7 L245.5 289.4 L246.4 289.2 L247.4 288.9 L248.4 288.7 L249.3 288.5 L250.3 288.2 L251.3 288.0 L252.3 287.7 L253.2 287.5 L254.2 287.3 L255.2 287.0 L256.1 286.8 L257.1 286.6 L258.1 286.3 L259.1 286.1 L260.0 285.8 L261.0 285.6 L262.0 285.3 L262.9 285.1 L263.9 284.8 L264.9 284.5 L265.8 284.2 L266.8 284.0 L267.7 283.7 L268.7 283.3 L269.6 283.0 L270.6 282.7 L271.5 282.4 L272.5 282.0 L273.4 281.7 L274.3 281.3 L275.3 281.0 L276.2 280.6 L277.1 280.3 L278.1 279.9 L279.0 279.5 L279.9 279.2 L280.9 278.8 L281.8 278.5 L282.7 278.1 L283.7 277.8 L284.6 277.4 L285.6 277.1 L286.5 276.8 L287.4 276.5 L288.4 276.2 L289.4 275.9 L290.3 275.6 L291.3 275.3 L292.3 275.1 L293.2 274.8 L294.2 274.6 L295.2 274.4 L296.1 274.1 L297.1 273.9 L298.1 273.7 L299.1 273.4 L300.0 273.2 L301.0 273.0 L302.0 272.7 L302.9 272.4 L303.9 272.2 L304.9 271.9 L305.8 271.6 L306.8 271.3 L307.7 271.0 L308.7 270.7 L309.6 270.4 L310.6 270.1 L311.5 269.8 L312.5 269.4 L313.4 269.1 L314.3 268.7 L315.3 268.4 L316.2 268.0 L317.1 267.6 L318.0 267.2 L319.0 266.8 L319.9 266.4 L320.8 266.0 L321.7 265.5 L322.6 265.1 L323.4 264.6 L324.3 264.1 L325.2 263.7 L326.1 263.2 L327.0 262.7 L327.8 262.2 L328.7 261.7 L329.5 261.1 L330.4 260.6 L331.2 260.1 L332.0 259.5 L332.9 259.0 L333.7 258.4 L334.5 257.8 L335.3 257.2 L336.1 256.7 L336.9 256.1 L337.7 255.4 L338.5 254.8 L339.3 254.2 L340.1 253.6 L340.8 252.9 L341.6 252.3 L342.4 251.6 L343.1 251.0 L343.8 250.3 L344.6 249.6 L345.3 248.9 L346.0 248.2 L346.7 247.5 L347.5 246.8 L348.2 246.1 L348.9 245.4 L349.5 244.7 L350.2 243.9 L350.9 243.2 L351.6 242.5 L352.2 241.7 L352.9 241.0 L353.6 240.2 L354.2 239.5 L354.9 238.7 L355.5 237.9 L356.1 237.2 L356.8 236.4 L357.4 235.6 L358.0 234.8 L358.6 234.0 L359.2 233.2 L359.8 232.4 L360.4 231.6 L361.0 230.8 L361.6 230.0 L362.2 229.2 L362.8 228.4 L363.4 227.6 L364.0 226.8 L364.5 226.0 L365.1 225.1 L365.7 224.3 L366.2 223.5 L366.8 222.7 L367.3 221.8 L367.9 221.0 L368.4 220.2 L369.0 219.3 L369.5 218.5 L370.1 217.6 L370.6 216.8 L371.1 215.9 L371.7 215.1 L372.2 214.2 L372.7 213.4 L373.3 212.5 L373.8 211.7 L374.3 210.8 L374.8 210.0 L375.3 209.1 L375.8 208.3 L376.3 207.4 L376.8 206.5 L377.3 205.7 L377.8 204.8 L378.3 203.9 L378.7 203.0 L379.2 202.1 L379.7 201.2 L380.1 200.4 L380.6 199.5 L381.0 198.6 L381.5 197.7 L381.9 196.8 L382.3 195.9 L382.7 194.9 L383.1 194.0 L383.5 193.1 L383.9 192.2 L384.3 191.3 L384.6 190.3 L385.0 189.4 L385.3 188.5 L385.7 187.5 L386.0 186.6 L386.3 185.6 L386.6 184.7 L386.9 183.7 L387.2 182.8 L387.5 181.8 L387.8 180.8 L388.1 179.9 L388.4 178.9 L388.7 178.0 L388.9 177.0 L389.2 176.0 L389.5 175.1 L389.8 174.1 L390.0 173.2 L390.3 172.2 L390.6 171.2 L390.9 170.3 L391.1 169.3 L391.4 168.4 L391.7 167.4 L391.9 166.4 L392.2 165.5 L392.5 164.5 L392.7 163.5 L393.0 162.6 L393.3 161.6 L393.5 160.6 L393.8 159.7 L394.1 158.7 L394.3 157.7 L394.6 156.8 L394.8 155.8 L395.1 154.8 L395.3 153.9 L395.6 152.9 L395.9 151.9 L396.1 151.0 L396.4 150.0 L396.6 149.0 L396.9 148.1 L397.1 147.1 L397.4 146.1 L397.6 145.2 L397.9 144.2 L398.1 143.2 L398.4 142.3 L398.6 141.3 L398.9 140.3 L399.1 139.4 L399.4 138.4 L399.6 137.4 L399.9 136.5 L400.1 135.5 L400.4 134.5 L400.6 133.6 L400.9 132.6 L401.1 131.6 L401.4 130.6 L401.6 129.7 L401.8 128.7 L402.1 127.7 L402.3 126.8 L402.6 125.8 L402.8 124.8 L403.1 123.9 L403.3 122.9 L403.5 121.9 L403.8 120.9 L404.0 120.0 L404.3 119.0 L404.5 118.0 L404.8 117.1 L405.0 116.1 L405.2 115.1 L405.5 114.2 L405.7 113.2 L406.0 112.2 L406.2 111.2 L406.4 110.3 L406.7 109.3 L406.9 108.3 L407.2 107.4 L407.4 106.4 L407.6 105.4 L407.9 104.4 L408.1 103.5 L408.4 102.5 L408.6 101.5 L408.8 100.6 L409.1 99.6 L409.3 98.6 L409.5 97.6 L409.8 96.7 L410.0 95.7 L410.2 94.7 L410.5 93.8 L410.7 92.8 L410.9 91.8 L411.2 90.8 L411.4 89.9 L411.6 88.9 L411.9 87.9 L412.1 87.0 L412.4 86.0 L412.6 85.0 L412.8 84.0 L413.1 83.1 L413.3 82.1 L413.6 81.1 L413.9 80.2 L414.1 79.2 L414.4 78.2 L414.6 77.3 L414.9 76.3 L415.2 75.3 L415.4 74.4 L415.7 73.4 L416.0 72.5 L416.3 71.5 L416.6 70.6 L416.9 69.6 L417.3 68.7 L417.6 67.7 L418.0 66.8 L418.4 65.9 L418.8 65.0 L419.2 64.1 L419.6 63.2 L420.1 62.3 L420.6 61.4 L421.1 60.5 L421.6 59.7 L422.1 58.8 L422.7 58.0 L423.3 57.2 L424.0 56.5 L424.7 55.8 L425.5 55.2 L426.5 54.9 L427.4 55.0 L428.3 55.5 L428.9 56.3 L429.5 57.1 L430.0 57.9 L430.5 58.8 L431.0 59.7 L431.4 60.6 L431.8 61.5 L432.2 62.4 L432.6 63.4 L432.9 64.3 L433.3 65.2 L433.6 66.2 L433.9 67.1 L434.2 68.1 L434.4 69.1 L434.7 70.0 L434.9 71.0 L435.1 72.0 L435.4 73.0 L435.6 73.9 L435.8 74.9 L436.0 75.9 L436.2 76.9 L436.4 77.9 L436.6 78.8 L436.8 79.8 L437.0 80.8 L437.2 81.8 L437.4 82.8 L437.5 83.7 L437.7 84.7 L437.9 85.7 L438.1 86.7 L438.3 87.7 L438.5 88.7 L438.7 89.6 L438.8 90.6 L439.0 91.6 L439.2 92.6 L439.4 93.6 L439.5 94.6 L439.7 95.5 L439.9 96.5 L440.1 97.5 L440.2 98.5 L440.4 99.5 L440.5 100.5 L440.7 101.5 L440.9 102.4 L441.0 103.4 L441.2 104.4 L441.3 105.4 L441.5 106.4 L441.6 107.4 L441.8 108.4 L441.9 109.4 L442.1 110.4 L442.2 111.3 L442.4 112.3 L442.5 113.3 L442.6 114.3 L442.8 115.3 L442.9 116.3 L443.1 117.3 L443.2 118.3 L443.3 119.3 L443.5 120.3 L443.6 121.2 L443.7 122.2 L443.9 123.2 L444.0 124.2 L444.1 125.2 L444.3 126.2 L444.4 127.2 L444.5 128.2 L444.6 129.2 L444.8 130.2 L444.9 131.2 L445.0 132.2 L445.1 133.1 L445.3 134.1 L445.4 135.1 L445.5 136.1 L445.6 137.1 L445.7 138.1 L445.9 139.1 L446.0 140.1 L446.1 141.1 L446.2 142.1 L446.3 143.1 L446.5 144.1 L446.6 145.1 L446.7 146.1 L446.8 147.0 L446.9 148.0 L447.1 149.0 L447.2 150.0 L447.3 151.0 L447.4 152.0 L447.5 153.0 L447.7 154.0 L447.8 155.0 L447.9 156.0 L448.0 157.0 L448.2 158.0 L448.3 159.0 L448.4 160.0 L448.5 160.9 L448.6 161.9 L448.8 162.9 L448.9 163.9 L449.0 164.9 L449.1 165.9 L449.3 166.9 L449.4 167.9 L449.5 168.9 L449.7 169.9 L449.8 170.9 L449.9 171.9 L450.1 172.8 L450.2 173.8 L450.3 174.8 L450.5 175.8 L450.6 176.8 L450.7 177.8 L450.9 178.8 L451.0 179.8 L451.2 180.8 L451.3 181.8 L451.4 182.7 L451.6 183.7 L451.7 184.7 L451.9 185.7 L452.0 186.7 L452.2 187.7 L452.3 188.7 L452.5 189.7 L452.6 190.7 L452.8 191.7 L452.9 192.6 L453.1 193.6 L453.2 194.6 L453.4 195.6 L453.5 196.6 L453.7 197.6 L453.9 198.6 L454.0 199.6 L454.2 200.5 L454.3 201.5 L454.5 202.5 L454.7 203.5 L454.8 204.5 L455.0 205.5 L455.2 206.5 L455.3 207.4 L455.5 208.4 L455.7 209.4 L455.8 210.4 L456.0 211.4 L456.2 212.4 L456.4 213.4 L456.6 214.3 L456.7 215.3 L456.9 216.3 L457.1 217.3 L457.3 218.3 L457.5 219.3 L457.6 220.2 L457.8 221.2 L458.0 222.2 L458.2 223.2 L458.4 224.2 L458.6 225.1 L458.8 226.1 L459.0 227.1 L459.2 228.1 L459.4 229.1 L459.6 230.0 L459.8 231.0 L460.0 232.0 L460.2 233.0 L460.4 234.0 L460.6 234.9 L460.8 235.9 L461.0 236.9 L461.2 237.9 L461.5 238.8 L461.7 239.8 L461.9 240.8 L462.2 241.8 L462.4 242.7 L462.7 243.7 L462.9 244.7 L463.2 245.6 L463.5 246.6 L463.7 247.6 L464.0 248.5 L464.3 249.5 L464.6 250.4 L464.9 251.4 L465.2 252.3 L465.5 253.3 L465.9 254.2 L466.2 255.2 L466.5 256.1 L466.9 257.0 L467.2 258.0 L467.6 258.9 L468.0 259.8 L468.4 260.8 L468.8 261.7 L469.2 262.6 L469.6 263.5 L470.0 264.4 L470.4 265.3 L470.9 266.2 L471.3 267.1 L471.8 268.0 L472.2 268.9 L472.7 269.8 L473.2 270.6 L473.7 271.5 L474.2 272.4 L474.7 273.2 L475.2 274.1 L475.8 274.9 L476.3 275.8 L476.9 276.6 L477.4 277.4 L478.0 278.2 L478.6 279.0 L479.2 279.8 L479.8 280.6 L480.4 281.4 L481.0 282.2 L481.7 283.0 L482.3 283.7 L483.0 284.5 L483.7 285.2 L484.3 286.0 L485.0 286.7 L485.7 287.4 L486.4 288.1 L487.2 288.8 L487.9 289.5 L488.6 290.2 L489.4 290.8 L490.1 291.5 L490.9 292.1 L491.7 292.8 L492.4 293.4 L493.2 294.0 L494.0 294.6 L494.8 295.2 L495.7 295.8 L496.5 296.3 L497.3 296.9 L498.2 297.4 L499.0 298.0 L499.9 298.5 L500.7 299.0 L501.6 299.5 L502.5 300.0 L503.3 300.5 L504.2 300.9 L505.1 301.4 L506.0 301.8 L506.9 302.2 L507.8 302.6 L508.8 303.0 L509.7 303.4 L510.6 303.8 L511.5 304.2 L512.5 304.5 L513.4 304.9 L514.3 305.2 L515.3 305.5 L516.2 305.9 L517.2 306.2 L518.1 306.5 L519.1 306.8 L520.0 307.1 L521.0 307.4 L522.0 307.7 L522.9 307.9 L523.9 308.2 L524.8 308.5 L525.8 308.7 L526.8 309.0 L527.7 309.2 L528.7 309.5 L529.7 309.7 L530.7 310.0 L531.6 310.2 L532.6 310.4 L533.6 310.6 L534.6 310.9 L535.5 311.1 L536.5 311.3 L537.5 311.5 L538.5 311.7 L539.4 311.9 L540.4 312.1 L541.4 312.3 L542.4 312.4 L543.4 312.6 L544.4 312.8 L545.3 313.0 L546.3 313.1 L547.3 313.3 L548.3 313.5 L549.3 313.6 L550.3 313.8 L551.3 313.9 L552.3 314.1 L553.2 314.2 L554.2 314.4 L555.2 314.5 L556.2 314.6 L557.2 314.8 L558.2 314.9 L559.2 315.0 L560.2 315.1 L561.2 315.3 L562.2 315.4 L563.2 315.5 L564.2 315.6 L565.2 315.7 L566.1 315.8 L567.1 315.9 L568.1 316.1 L569.1 316.2 L570.1 316.3 L571.1 316.4 L572.1 316.5 L573.1 316.6 L574.1 316.6 L575.1 316.7 L576.1 316.8 L577.1 316.9 L578.1 317.0 L579.1 317.1 L580.1 317.2 L581.1 317.3 L582.1 317.3 L583.1 317.4 L584.1 317.5 L585.1 317.6 L586.1 317.7 L587.1 317.7 L588.1 317.8 L589.1 317.9 L590.1 317.9 L591.1 318.0 L592.0 318.1 L593.0 318.1 L594.0 318.2 L595.0 318.3 L596.0 318.3 L597.0 318.4 L598.0 318.5 L599.0 318.5 L600.0 318.6 L601.0 318.6 L602.0 318.7 L603.0 318.7 L604.0 318.8 L605.0 318.9 L606.0 318.9 L607.0 319.0 L608.0 319.0 L609.0 319.1 L610.0 319.1 L611.0 319.1 L612.0 319.2 L613.0 319.2 L614.0 319.3 L615.0 319.3 L616.0 319.4 L617.0 319.4 L618.0 319.5 L619.0 319.5 L620.0 319.5 L621.0 319.6 L622.0 319.6 L623.0 319.7 L624.0 319.7 L625.0 319.7 L626.0 319.8 L627.0 319.8 L628.0 319.9 L629.0 319.9 L630.0 319.9 L631.0 320.0 L632.0 320.0 L633.0 320.0 L634.0 320.1 L635.0 320.1 L636.0 320.2 L637.0 320.2 L638.0 320.2 L639.0 320.3 L640.0 320.3 L641.0 320.3 L642.0 320.4 L643.0 320.4 L644.0 320.4 L645.0 320.5 L646.0 320.5 L647.0 320.6 L648.0 320.6 L649.0 320.6 L650.0 320.7 L651.0 320.7 L652.0 320.7 L653.0 320.8 L654.0 320.8 L655.0 320.8 L656.0 320.9 L657.0 320.9 L658.0 321.0 L659.0 321.0 L660.0 321.0 L661.0 321.1 L662.0 321.1 L663.0 321.2 L664.0 321.2 L665.0 321.3 L666.0 321.3 L667.0 321.3 L668.0 321.4 L669.0 321.4 L670.0 321.5 L671.0 321.5 L672.0 321.6 L673.0 321.6" stroke="#50d8d8" stroke-width="1.5" fill="none"/>
<path d="M37.6 319.5 L38.6 319.5 L39.6 319.5 L40.6 319.5 L41.6 319.5 L42.6 319.5 L43.6 319.6 L44.6 319.6 L45.6 319.6 L46.6 319.6 L47.6 319.6 L48.6 319.6 L49.6 319.5 L50.6 319.5 L51.6 319.5 L52.6 319.5 L53.6 319.5 L54.6 319.5 L55.6 319.5 L56.6 319.5 L57.6 319.5 L58.6 319.4 L59.6 319.4 L60.6 319.4 L61.6 319.4 L62.6 319.4 L63.6 319.3 L64.6 319.3 L65.6 319.3 L66.6 319.2 L67.6 319.2 L68.6 319.2 L69.6 319.1 L70.6 319.1 L71.6 319.1 L72.6 319.0 L73.6 319.0 L74.6 318.9 L75.6 318.9 L76.6 318.9 L77.6 318.8 L78.6 318.8 L79.6 318.7 L80.6 318.7 L81.6 318.6 L82.6 318.6 L83.6 318.5 L84.6 318.4 L85.6 318.4 L86.6 318.3 L87.6 318.3 L88.6 318.2 L89.6 318.1 L90.6 318.1 L91.6 318.0 L92.6 317.9 L93.6 317.9 L94.6 317.8 L95.6 317.7 L96.6 317.6 L97.5 317.6 L98.5 317.5 L99.5 317.4 L100.5 317.3 L101.5 317.3 L102.5 317.2 L103.5 317.1 L104.5 317.0 L105.5 316.9 L106.5 316.8 L107.5 316.7 L108.5 316.7 L109.5 316.6 L110.5 316.5 L111.5 316.4 L112.5 316.3 L113.5 316.2 L114.5 316.1 L115.5 316.0 L116.5 315.9 L117.5 315.8 L118.5 315.7 L119.5 315.6 L120.5 315.5 L121.4 315.4 L122.4 315.2 L123.4 315.1 L124.4 315.0 L125.4 314.9 L126.4 314.8 L127.4 314.7 L128.4 314.6 L129.4 314.5 L130.4 314.3 L131.4 314.2 L132.4 314.1 L133.4 314.0 L134.4 313.9 L135.4 313.7 L136.3 313.6 L137.3 313.5 L138.3 313.4 L139.3 313.3 L140.3 313.1 L141.3 313.0 L142.3 312.9 L143.3 312.7 L144.3 312.6 L145.3 312.5 L146.3 312.4 L147.3 312.2 L148.2 312.1 L149.2 312.0 L150.2 311.8 L151.2 311.7 L152.2 311.6 L153.2 311.4 L154.2 311.3 L155.2 311.2 L156.2 311.0 L157.2 310.9 L158.2 310.7 L159.1 310.6 L160.1 310.5 L161.1 310.3 L162.1 310.2 L163.1 310.1 L164.1 309.9 L165.1 309.8 L166.1 309.6 L167.1 309.5 L168.1 309.3 L169.0 309.2 L170.0 309.1 L171.0 308.9 L172.0 308.8 L173.0 308.6 L174.0 308.4 L175.0 308.3 L176.0 308.1 L177.0 308.0 L177.9 307.8 L178.9 307.6 L179.9 307.5 L180.9 307.3 L181.9 307.1 L182.9 306.9 L183.8 306.7 L184.8 306.5 L185.8 306.4 L186.8 306.1 L187.8 305.9 L188.7 305.7 L189.7 305.5 L190.7 305.3 L191.7 305.1 L192.6 304.8 L193.6 304.6 L194.6 304.4 L195.5 304.1 L196.5 303.9 L197.5 303.6 L198.4 303.3 L199.4 303.1 L200.4 302.8 L201.3 302.6 L202.3 302.3 L203.3 302.0 L204.2 301.7 L205.2 301.5 L206.2 301.2 L207.1 300.9 L208.1 300.6 L209.0 300.4 L210.0 300.1 L211.0 299.8 L211.9 299.5 L212.9 299.2 L213.8 298.9 L214.8 298.7 L215.8 298.4 L216.7 298.1 L217.7 297.8 L218.6 297.6 L219.6 297.3 L220.6 297.0 L221.5 296.7 L222.5 296.5 L223.4 296.2 L224.4 295.9 L225.4 295.7 L226.3 295.4 L227.3 295.2 L228.3 294.9 L229.2 294.7 L230.2 294.4 L231.2 294.2 L232.2 293.9 L233.1 293.7 L234.1 293.4 L235.1 293.2 L236.0 293.0 L237.0 292.7 L238.0 292.5 L239.0 292.3 L239.9 292.0 L240.9 291.8 L241.9 291.6 L242.8 291.3 L243.8 291.1 L244.8 290.9 L245.8 290.6 L246.7 290.4 L247.7 290.2 L248.7 289.9 L249.7 289.7 L250.6 289.5 L251.6 289.2 L252.6 289.0 L253.5 288.8 L254.5 288.5 L255.5 288.3 L256.5 288.0 L257.4 287.8 L258.4 287.5 L259.4 287.3 L260.3 287.0 L261.3 286.8 L262.2 286.5 L263.2 286.2 L264.2 285.9 L265.1 285.6 L266.1 285.3 L267.0 285.0 L268.0 284.7 L268.9 284.4 L269.9 284.0 L270.8 283.7 L271.7 283.3 L272.7 283.0 L273.6 282.6 L274.5 282.2 L275.5 281.9 L276.4 281.5 L277.3 281.1 L278.2 280.7 L279.2 280.4 L280.1 280.0 L281.0 279.6 L281.9 279.2 L282.9 278.9 L283.8 278.5 L284.7 278.2 L285.7 277.8 L286.6 277.5 L287.6 277.2 L288.5 276.9 L289.5 276.6 L290.4 276.3 L291.4 276.0 L292.4 275.8 L293.3 275.5 L294.3 275.3 L295.3 275.0 L296.3 274.8 L297.2 274.6 L298.2 274.3 L299.2 274.1 L300.1 273.8 L301.1 273.6 L302.1 273.3 L303.0 273.0 L304.0 272.7 L304.9 272.5 L305.9 272.2 L306.9 271.9 L307.8 271.6 L308.8 271.3 L309.7 270.9 L310.7 270.6 L311.6 270.3 L312.5 269.9 L313.5 269.6 L314.4 269.2 L315.3 268.8 L316.3 268.5 L317.2 268.1 L318.1 267.7 L319.0 267.3 L319.9 266.9 L320.8 266.4 L321.7 266.0 L322.6 265.5 L323.5 265.1 L324.4 264.6 L325.3 264.2 L326.1 263.7 L327.0 263.2 L327.9 262.7 L328.7 262.2 L329.6 261.7 L330.4 261.1 L331.3 260.6 L332.1 260.0 L333.0 259.5 L333.8 258.9 L334.6 258.4 L335.4 257.8 L336.2 257.2 L337.0 256.6 L337.8 256.0 L338.6 255.4 L339.4 254.8 L340.2 254.1 L341.0 253.5 L341.7 252.8 L342.5 252.2 L343.2 251.5 L344.0 250.9 L344.7 250.2 L345.4 249.5 L346.2 248.8 L346.9 248.1 L347.6 247.4 L348.3 246.7 L349.0 246.0 L349.7 245.3 L350.4 244.5 L351.1 243.8 L351.7 243.1 L352.4 242.3 L353.1 241.6 L353.7 240.8 L354.4 240.1 L355.0 239.3 L355.7 238.5 L356.3 237.8 L356.9 237.0 L357.6 236.2 L358.2 235.4 L358.8 234.6 L359.4 233.9 L360.0 233.1 L360.6 232.3 L361.2 231.5 L361.8 230.7 L362.4 229.9 L363.0 229.0 L363.6 228.2 L364.2 227.4 L364.7 226.6 L365.3 225.8 L365.9 225.0 L366.5 224.1 L367.0 223.3 L367.6 222.5 L368.1 221.7 L368.7 220.8 L369.2 220.0 L369.8 219.2 L370.3 218.3 L370.9 217.5 L371.4 216.6 L372.0 215.8 L372.5 215.0 L373.0 214.1 L373.6 213.3 L374.1 212.4 L374.6 211.6 L375.1 210.7 L375.7 209.8 L376.2 209.0 L376.7 208.1 L377.2 207.3 L377.7 206.4 L378.2 205.5 L378.7 204.6 L379.1 203.8 L379.6 202.9 L380.1 202.0 L380.5 201.1 L381.0 200.2 L381.4 199.3 L381.9 198.4 L382.3 197.5 L382.7 196.6 L383.1 195.7 L383.5 194.8 L383.9 193.9 L384.3 192.9 L384.6 192.0 L385.0 191.1 L385.3 190.1 L385.7 189.2 L386.0 188.2 L386.3 187.3 L386.6 186.3 L386.9 185.4 L387.2 184.4 L387.5 183.5 L387.8 182.5 L388.1 181.6 L388.3 180.6 L388.6 179.6 L388.9 178.7 L389.2 177.7 L389.4 176.7 L389.7 175.8 L390.0 174.8 L390.2 173.9 L390.5 172.9 L390.8 171.9 L391.0 171.0 L391.3 170.0 L391.6 169.0 L391.8 168.1 L392.1 167.1 L392.4 166.1 L392.6 165.2 L392.9 164.2 L393.2 163.2 L393.4 162.3 L393.7 161.3 L393.9 160.4 L394.2 159.4 L394.4 158.4 L394.7 157.5 L395.0 156.5 L395.2 155.5 L395.5 154.6 L395.7 153.6 L396.0 152.6 L396.2 151.6 L396.5 150.7 L396.7 149.7 L397.0 148.7 L397.2 147.8 L397.5 146.8 L397.7 145.8 L398.0 144.9 L398.2 143.9 L398.5 142.9 L398.7 142.0 L399.0 141.0 L399.2 140.0 L399.4 139.1 L399.7 138.1 L399.9 137.1 L400.2 136.1 L400.4 135.2 L400.7 134.2 L400.9 133.2 L401.1 132.3 L401.4 131.3 L401.6 130.3 L401.9 129.4 L402.1 128.4 L402.3 127.4 L402.6 126.4 L402.8 125.5 L403.1 124.5 L403.3 123.5 L403.5 122.6 L403.8 121.6 L404.0 120.6 L404.3 119.6 L404.5 118.7 L404.7 117.7 L405.0 116.7 L405.2 115.8 L405.4 114.8 L405.7 113.8 L405.9 112.8 L406.2 111.9 L406.4 110.9 L406.6 109.9 L406.9 109.0 L407.1 108.0 L407.3 107.0 L407.6 106.0 L407.8 105.1 L408.0 104.1 L408.3 103.1 L408.5 102.1 L408.7 101.2 L409.0 100.2 L409.2 99.2 L409.4 98.3 L409.6 97.3 L409.9 96.3 L410.1 95.3 L410.3 94.4 L410.5 93.4 L410.8 92.4 L411.0 91.4 L411.2 90.5 L411.5 89.5 L411.7 88.5 L411.9 87.5 L412.2 86.6 L412.4 85.6 L412.6 84.6 L412.9 83.7 L413.1 82.7 L413.4 81.7 L413.6 80.7 L413.8 79.8 L414.1 78.8 L414.3 77.8 L414.6 76.9 L414.9 75.9 L415.1 74.9 L415.4 74.0 L415.7 73.0 L416.0 72.1 L416.3 71.1 L416.6 70.2 L416.9 69.2 L417.2 68.3 L417.6 67.3 L417.9 66.4 L418.3 65.5 L418.8 64.6 L419.2 63.7 L419.6 62.8 L420.1 61.9 L420.6 61.0 L421.1 60.2 L421.7 59.3 L422.2 58.5 L422.8 57.7 L423.5 56.9 L424.1 56.2 L424.9 55.6 L425.8 55.1 L426.8 54.9 L427.7 55.1 L428.5 55.7 L429.1 56.5 L429.7 57.4 L430.2 58.2 L430.6 59.1 L431.1 60.0 L431.5 60.9 L431.9 61.8 L432.3 62.7 L432.7 63.7 L433.0 64.6 L433.4 65.5 L433.7 66.5 L434.0 67.4 L434.2 68.4 L434.5 69.4 L434.8 70.3 L435.0 71.3 L435.2 72.3 L435.4 73.3 L435.6 74.2 L435.8 75.2 L436.0 76.2 L436.2 77.2 L436.4 78.2 L436.6 79.1 L436.8 80.1 L437.0 81.1 L437.2 82.1 L437.4 83.1 L437.6 84.0 L437.8 85.0 L438.0 86.0 L438.2 87.0 L438.4 88.0 L438.5 89.0 L438.7 89.9 L438.9 90.9 L439.1 91.9 L439.3 92.9 L439.4 93.9 L439.6 94.9 L439.8 95.9 L439.9 96.8 L440.1 97.8 L440.3 98.8 L440.4 99.8 L440.6 100.8 L440.8 101.8 L440.9 102.8 L441.1 103.7 L441.2 104.7 L441.4 105.7 L441.5 106.7 L441.7 107.7 L441.8 108.7 L442.0 109.7 L442.1 110.7 L442.3 111.7 L442.4 112.6 L442.6 113.6 L442.7 114.6 L442.8 115.6 L443.0 116.6 L443.1 117.6 L443.2 118.6 L443.4 119.6 L443.5 120.6 L443.6 121.6 L443.8 122.6 L443.9 123.5 L444.0 124.5 L444.2 125.5 L444.3 126.5 L444.4 127.5 L444.6 128.5 L444.7 129.5 L444.8 130.5 L444.9 131.5 L445.0 132.5 L445.2 133.5 L445.3 134.5 L445.4 135.4 L445.5 136.4 L445.7 137.4 L445.8 138.4 L445.9 139.4 L446.0 140.4 L446.1 141.4 L446.3 142.4 L446.4 143.4 L446.5 144.4 L446.6 145.4 L446.7 146.4 L446.9 147.4 L447.0 148.4 L447.1 149.3 L447.2 150.3 L447.3 151.3 L447.5 152.3 L447.6 153.3 L447.7 154.3 L447.8 155.3 L447.9 156.3 L448.1 157.3 L448.2 158.3 L448.3 159.3 L448.4 160.3 L448.6 161.3 L448.7 162.2 L448.8 163.2 L448.9 164.2 L449.1 165.2 L449.2 166.2 L449.3 167.2 L449.4 168.2 L449.6 169.2 L449.7 170.2 L449.8 171.2 L450.0 172.2 L450.1 173.2 L450.2 174.1 L450.4 175.1 L450.5 176.1 L450.6 177.1 L450.8 178.1 L450.9 179.1 L451.1 180.1 L451.2 181.1 L451.3 182.1 L451.5 183.1 L451.6 184.1 L451.8 185.0 L451.9 186.0 L452.1 187.0 L452.2 188.0 L452.4 189.0 L452.5 190.0 L452.7 191.0 L452.8 192.0 L453.0 193.0 L453.1 193.9 L453.3 194.9 L453.4 195.9 L453.6 196.9 L453.7 197.9 L453.9 198.9 L454.1 199.9 L454.2 200.9 L454.4 201.8 L454.6 202.8 L454.7 203.8 L454.9 204.8 L455.1 205.8 L455.2 206.8 L455.4 207.8 L455.6 208.7 L455.7 209.7 L455.9 210.7 L456.1 211.7 L456.3 212.7 L456.4 213.7 L456.6 214.6 L456.8 215.6 L457.0 216.6 L457.2 217.6 L457.3 218.6 L457.5 219.6 L457.7 220.5 L457.9 221.5 L458.1 222.5 L458.3 223.5 L458.5 224.5 L458.6 225.5 L458.8 226.4 L459.0 227.4 L459.2 228.4 L459.4 229.4 L459.6 230.4 L459.8 231.3 L460.0 232.3 L460.2 233.3 L460.4 234.3 L460.7 235.3 L460.9 236.2 L461.1 237.2 L461.3 238.2 L461.5 239.2 L461.8 240.1 L462.0 241.1 L462.2 242.1 L462.5 243.0 L462.7 244.0 L463.0 245.0 L463.3 245.9 L463.5 246.9 L463.8 247.9 L464.1 248.8 L464.4 249.8 L464.7 250.7 L465.0 251.7 L465.3 252.6 L465.6 253.6 L465.9 254.5 L466.3 255.5 L466.6 256.4 L467.0 257.3 L467.3 258.3 L467.7 259.2 L468.1 260.1 L468.5 261.1 L468.9 262.0 L469.3 262.9 L469.7 263.8 L470.1 264.7 L470.6 265.6 L471.0 266.5 L471.5 267.4 L471.9 268.3 L472.4 269.2 L472.9 270.0 L473.4 270.9 L473.9 271.8 L474.4 272.6 L474.9 273.5 L475.4 274.3 L476.0 275.2 L476.5 276.0 L477.1 276.8 L477.6 277.7 L478.2 278.5 L478.8 279.3 L479.4 280.1 L480.0 280.9 L480.6 281.7 L481.3 282.4 L481.9 283.2 L482.6 284.0 L483.2 284.7 L483.9 285.4 L484.6 286.2 L485.3 286.9 L486.0 287.6 L486.7 288.3 L487.4 289.0 L488.1 289.7 L488.9 290.4 L489.6 291.0 L490.4 291.7 L491.1 292.3 L491.9 293.0 L492.7 293.6 L493.5 294.2 L494.3 294.8 L495.1 295.4 L495.9 296.0 L496.7 296.5 L497.6 297.1 L498.4 297.6 L499.3 298.2 L500.1 298.7 L501.0 299.2 L501.8 299.7 L502.7 300.2 L503.6 300.6 L504.5 301.1 L505.4 301.5 L506.3 302.0 L507.2 302.4 L508.1 302.8 L509.0 303.2 L510.0 303.6 L510.9 303.9 L511.8 304.3 L512.8 304.6 L513.7 305.0 L514.6 305.3 L515.6 305.6 L516.5 306.0 L517.5 306.3 L518.4 306.6 L519.4 306.9 L520.3 307.2 L521.3 307.4 L522.3 307.7 L523.2 308.0 L524.2 308.3 L525.2 308.5 L526.1 308.8 L527.1 309.0 L528.1 309.3 L529.0 309.5 L530.0 309.8 L531.0 310.0 L531.9 310.2 L532.9 310.5 L533.9 310.7 L534.9 310.9 L535.8 311.1 L536.8 311.3 L537.8 311.5 L538.8 311.7 L539.8 311.9 L540.7 312.1 L541.7 312.3 L542.7 312.5 L543.7 312.7 L544.7 312.8 L545.7 313.0 L546.6 313.2 L547.6 313.3 L548.6 313.5 L549.6 313.7 L550.6 313.8 L551.6 314.0 L552.6 314.1 L553.6 314.3 L554.6 314.4 L555.5 314.5 L556.5 314.7 L557.5 314.8 L558.5 314.9 L559.5 315.1 L560.5 315.2 L561.5 315.3 L562.5 315.4 L563.5 315.5 L564.5 315.7 L565.5 315.8 L566.5 315.9 L567.5 316.0 L568.4 316.1 L569.4 316.2 L570.4 316.3 L571.4 316.4 L572.4 316.5 L573.4 316.6 L574.4 316.7 L575.4 316.8 L576.4 316.9 L577.4 317.0 L578.4 317.1 L579.4 317.1 L580.4 317.2 L581.4 317.3 L582.4 317.4 L583.4 317.5 L584.4 317.5 L585.4 317.6 L586.4 317.7 L587.4 317.8 L588.4 317.8 L589.4 317.9 L590.4 318.0 L591.4 318.1 L592.4 318.1 L593.4 318.2 L594.4 318.2 L595.4 318.3 L596.4 318.4 L597.4 318.4 L598.4 318.5 L599.3 318.6 L600.3 318.6 L601.3 318.7 L602.3 318.7 L603.3 318.8 L604.3 318.8 L605.3 318.9 L606.3 318.9 L607.3 319.0 L608.3 319.0 L609.3 319.1 L610.3 319.1 L611.3 319.2 L612.3 319.2 L613.3 319.3 L614.3 319.3 L615.3 319.4 L616.3 319.4 L617.3 319.4 L618.3 319.5 L619.3 319.5 L620.3 319.6 L621.3 319.6 L622.3 319.6 L623.3 319.7 L624.3 319.7 L625.3 319.8 L626.3 319.8 L627.3 319.8 L628.3 319.9 L629.3 319.9 L630.3 319.9 L631.3 320.0 L632.3 320.0 L633.3 320.1 L634.3 320.1 L635.3 320.1 L636.3 320.2 L637.3 320.2 L638.3 320.2 L639.3 320.3 L640.3 320.3 L641.3 320.3 L642.3 320.4 L643.3 320.4 L644.3 320.4 L645.3 320.5 L646.3 320.5 L647.3 320.6 L648.3 320.6 L649.3 320.6 L650.3 320.7 L651.3 320.7 L652.3 320.7 L653.3 320.8 L654.3 320.8 L655.3 320.8 L656.3 320.9 L657.3 320.9 L658.3 321.0 L659.3 321.0 L660.3 321.1 L661.3 321.1 L662.3 321.1 L663.3 321.2 L664.3 321.2 L665.3 321.3 L666.3 321.3 L667.3 321.4 L668.3 321.4 L669.3 321.5 L670.3 321.5 L671.3 321.5 L672.3 321.6 L673.3 321.6" stroke="#2e8a2e" stroke-width="1.5" fill="none"/>
<path d="M37.6 319.5 L38.6 319.5 L39.6 319.5 L40.6 319.5 L41.6 319.5 L42.6 319.5 L43.6 319.5 L44.6 319.5 L45.6 319.5 L46.6 319.5 L47.6 319.5 L48.6 319.5 L49.6 319.5 L50.6 319.5 L51.6 319.5 L52.6 319.5 L53.6 319.5 L54.6 319.5 L55.6 319.5 L56.6 319.5 L57.6 319.4 L58.6 319.4 L59.6 319.4 L60.6 319.4 L61.6 319.4 L62.6 319.3 L63.6 319.3 L64.6 319.3 L65.6 319.3 L66.6 319.2 L67.6 319.2 L68.6 319.2 L69.6 319.1 L70.6 319.1 L71.6 319.1 L72.6 319.0 L73.6 319.0 L74.6 318.9 L75.6 318.9 L76.6 318.9 L77.6 318.8 L78.6 318.8 L79.6 318.7 L80.6 318.7 L81.6 318.6 L82.6 318.6 L83.6 318.5 L84.6 318.5 L85.6 318.4 L86.6 318.3 L87.6 318.3 L88.6 318.2 L89.6 318.2 L90.6 318.1 L91.6 318.0 L92.6 318.0 L93.6 317.9 L94.6 317.8 L95.6 317.7 L96.6 317.7 L97.6 317.6 L98.5 317.5 L99.5 317.4 L100.5 317.4 L101.5 317.3 L102.5 317.2 L103.5 317.1 L104.5 317.0 L105.5 316.9 L106.5 316.8 L107.5 316.8 L108.5 316.7 L109.5 316.6 L110.5 316.5 L111.5 316.4 L112.5 316.3 L113.5 316.2 L114.5 316.1 L115.5 316.0 L116.5 315.9 L117.5 315.8 L118.5 315.7 L119.5 315.6 L120.5 315.5 L121.4 315.3 L122.4 315.2 L123.4 315.1 L124.4 315.0 L125.4 314.9 L126.4 314.8 L127.4 314.7 L128.4 314.6 L129.4 314.4 L130.4 314.3 L131.4 314.2 L132.4 314.1 L133.4 314.0 L134.4 313.8 L135.3 313.7 L136.3 313.6 L137.3 313.5 L138.3 313.3 L139.3 313.2 L140.3 313.1 L141.3 313.0 L142.3 312.8 L143.3 312.7 L144.3 312.6 L145.3 312.5 L146.3 312.3 L147.3 312.2 L148.2 312.1 L149.2 311.9 L150.2 311.8 L151.2 311.7 L152.2 311.5 L153.2 311.4 L154.2 311.3 L155.2 311.1 L156.2 311.0 L157.2 310.9 L158.2 310.7 L159.1 310.6 L160.1 310.5 L161.1 310.3 L162.1 310.2 L163.1 310.1 L164.1 309.9 L165.1 309.8 L166.1 309.7 L167.1 309.5 L168.1 309.4 L169.1 309.3 L170.0 309.1 L171.0 309.0 L172.0 308.9 L173.0 308.7 L174.0 308.6 L175.0 308.4 L176.0 308.3 L177.0 308.1 L178.0 308.0 L178.9 307.8 L179.9 307.7 L180.9 307.5 L181.9 307.3 L182.9 307.1 L183.9 307.0 L184.9 306.8 L185.8 306.6 L186.8 306.4 L187.8 306.2 L188.8 306.0 L189.8 305.8 L190.7 305.6 L191.7 305.4 L192.7 305.2 L193.7 304.9 L194.6 304.7 L195.6 304.5 L196.6 304.2 L197.6 304.0 L198.5 303.7 L199.5 303.5 L200.5 303.2 L201.4 303.0 L202.4 302.7 L203.4 302.5 L204.3 302.2 L205.3 301.9 L206.2 301.7 L207.2 301.4 L208.2 301.1 L209.1 300.9 L210.1 300.6 L211.1 300.3 L212.0 300.1 L213.0 299.8 L214.0 299.5 L214.9 299.2 L215.9 299.0 L216.8 298.7 L217.8 298.4 L218.8 298.2 L219.7 297.9 L220.7 297.7 L221.7 297.4 L222.6 297.2 L223.6 296.9 L224.6 296.7 L225.5 296.4 L226.5 296.2 L227.5 295.9 L228.5 295.7 L229.4 295.5 L230.4 295.2 L231.4 295.0 L232.4 294.8 L233.3 294.6 L234.3 294.3 L235.3 294.1 L236.3 293.9 L237.2 293.7 L238.2 293.5 L239.2 293.3 L240.2 293.0 L241.1 292.8 L242.1 292.6 L243.1 292.4 L244.1 292.2 L245.0 291.9 L246.0 291.7 L247.0 291.5 L248.0 291.3 L248.9 291.0 L249.9 290.8 L250.9 290.6 L251.9 290.3 L252.8 290.1 L253.8 289.9 L254.8 289.6 L255.7 289.4 L256.7 289.1 L257.7 288.9 L258.6 288.6 L259.6 288.3 L260.6 288.1 L261.5 287.8 L262.5 287.5 L263.4 287.2 L264.4 286.9 L265.3 286.6 L266.3 286.3 L267.2 285.9 L268.2 285.6 L269.1 285.3 L270.0 284.9 L271.0 284.6 L271.9 284.2 L272.8 283.8 L273.8 283.4 L274.7 283.0 L275.6 282.7 L276.5 282.3 L277.4 281.9 L278.4 281.5 L279.3 281.1 L280.2 280.7 L281.1 280.3 L282.1 279.9 L283.0 279.6 L283.9 279.2 L284.8 278.8 L285.8 278.5 L286.7 278.1 L287.7 277.8 L288.6 277.5 L289.6 277.2 L290.5 276.9 L291.5 276.6 L292.4 276.4 L293.4 276.1 L294.4 275.9 L295.4 275.6 L296.3 275.4 L297.3 275.1 L298.3 274.9 L299.2 274.6 L300.2 274.4 L301.2 274.1 L302.1 273.8 L303.1 273.5 L304.0 273.3 L305.0 273.0 L305.9 272.7 L306.9 272.4 L307.9 272.0 L308.8 271.7 L309.7 271.4 L310.7 271.1 L311.6 270.7 L312.6 270.4 L313.5 270.0 L314.4 269.6 L315.4 269.3 L316.3 268.9 L317.2 268.5 L318.1 268.1 L319.0 267.7 L319.9 267.3 L320.8 266.9 L321.7 266.4 L322.6 266.0 L323.5 265.5 L324.4 265.1 L325.3 264.6 L326.2 264.1 L327.1 263.6 L327.9 263.1 L328.8 262.6 L329.6 262.1 L330.5 261.6 L331.3 261.0 L332.2 260.5 L333.0 260.0 L333.8 259.4 L334.7 258.8 L335.5 258.3 L336.3 257.7 L337.1 257.1 L337.9 256.5 L338.7 255.9 L339.5 255.3 L340.3 254.6 L341.0 254.0 L341.8 253.4 L342.6 252.7 L343.3 252.0 L344.1 251.4 L344.8 250.7 L345.5 250.0 L346.3 249.3 L347.0 248.6 L347.7 247.9 L348.4 247.2 L349.1 246.5 L349.8 245.8 L350.5 245.1 L351.2 244.3 L351.8 243.6 L352.5 242.9 L353.2 242.1 L353.8 241.4 L354.5 240.6 L355.1 239.9 L355.8 239.1 L356.4 238.3 L357.1 237.6 L357.7 236.8 L358.3 236.0 L358.9 235.2 L359.6 234.4 L360.2 233.6 L360.8 232.8 L361.4 232.0 L362.0 231.2 L362.6 230.4 L363.2 229.6 L363.8 228.8 L364.3 228.0 L364.9 227.2 L365.5 226.4 L366.1 225.6 L366.6 224.7 L367.2 223.9 L367.8 223.1 L368.3 222.3 L368.9 221.4 L369.5 220.6 L370.0 219.8 L370.6 218.9 L371.1 218.1 L371.7 217.3 L372.2 216.4 L372.8 215.6 L373.3 214.8 L373.8 213.9 L374.4 213.1 L374.9 212.2 L375.4 211.4 L376.0 210.5 L376.5 209.7 L377.0 208.8 L377.5 207.9 L378.0 207.1 L378.5 206.2 L379.0 205.3 L379.5 204.5 L379.9 203.6 L380.4 202.7 L380.9 201.8 L381.3 200.9 L381.8 200.0 L382.2 199.1 L382.6 198.2 L383.0 197.3 L383.4 196.4 L383.8 195.5 L384.2 194.5 L384.6 193.6 L384.9 192.7 L385.3 191.7 L385.6 190.8 L385.9 189.8 L386.2 188.9 L386.5 187.9 L386.8 187.0 L387.1 186.0 L387.4 185.1 L387.7 184.1 L388.0 183.2 L388.3 182.2 L388.5 181.2 L388.8 180.3 L389.1 179.3 L389.3 178.3 L389.6 177.4 L389.9 176.4 L390.1 175.5 L390.4 174.5 L390.7 173.5 L390.9 172.6 L391.2 171.6 L391.5 170.6 L391.7 169.7 L392.0 168.7 L392.2 167.7 L392.5 166.8 L392.8 165.8 L393.0 164.8 L393.3 163.9 L393.5 162.9 L393.8 161.9 L394.0 161.0 L394.3 160.0 L394.5 159.0 L394.8 158.1 L395.1 157.1 L395.3 156.1 L395.6 155.2 L395.8 154.2 L396.1 153.2 L396.3 152.3 L396.5 151.3 L396.8 150.3 L397.0 149.4 L397.3 148.4 L397.5 147.4 L397.8 146.4 L398.0 145.5 L398.3 144.5 L398.5 143.5 L398.8 142.6 L399.0 141.6 L399.2 140.6 L399.5 139.7 L399.7 138.7 L400.0 137.7 L400.2 136.7 L400.4 135.8 L400.7 134.8 L400.9 133.8 L401.2 132.9 L401.4 131.9 L401.6 130.9 L401.9 129.9 L402.1 129.0 L402.4 128.0 L402.6 127.0 L402.8 126.1 L403.1 125.1 L403.3 124.1 L403.5 123.1 L403.8 122.2 L404.0 121.2 L404.2 120.2 L404.5 119.3 L404.7 118.3 L404.9 117.3 L405.2 116.3 L405.4 115.4 L405.6 114.4 L405.9 113.4 L406.1 112.4 L406.3 111.5 L406.6 110.5 L406.8 109.5 L407.0 108.6 L407.3 107.6 L407.5 106.6 L407.7 105.6 L408.0 104.7 L408.2 103.7 L408.4 102.7 L408.6 101.7 L408.9 100.8 L409.1 99.8 L409.3 98.8 L409.5 97.8 L409.8 96.9 L410.0 95.9 L410.2 94.9 L410.4 93.9 L410.6 93.0 L410.9 92.0 L411.1 91.0 L411.3 90.0 L411.5 89.1 L411.8 88.1 L412.0 87.1 L412.2 86.1 L412.4 85.2 L412.7 84.2 L412.9 83.2 L413.1 82.3 L413.4 81.3 L413.6 80.3 L413.9 79.3 L414.1 78.4 L414.4 77.4 L414.6 76.4 L414.9 75.5 L415.1 74.5 L415.4 73.5 L415.7 72.6 L415.9 71.6 L416.2 70.7 L416.5 69.7 L416.9 68.8 L417.2 67.8 L417.6 66.9 L417.9 66.0 L418.4 65.1 L418.8 64.1 L419.2 63.3 L419.7 62.4 L420.2 61.5 L420.7 60.7 L421.3 59.8 L421.8 59.0 L422.4 58.2 L423.0 57.4 L423.7 56.6 L424.4 55.9 L425.2 55.4 L426.1 55.0 L427.1 54.9 L428.0 55.3 L428.7 56.0 L429.3 56.8 L429.9 57.7 L430.3 58.5 L430.8 59.4 L431.3 60.3 L431.7 61.2 L432.1 62.1 L432.5 63.1 L432.8 64.0 L433.2 64.9 L433.5 65.9 L433.8 66.8 L434.1 67.8 L434.3 68.8 L434.6 69.7 L434.8 70.7 L435.1 71.7 L435.3 72.6 L435.5 73.6 L435.7 74.6 L435.9 75.6 L436.1 76.6 L436.3 77.5 L436.5 78.5 L436.7 79.5 L436.9 80.5 L437.1 81.5 L437.3 82.4 L437.5 83.4 L437.7 84.4 L437.9 85.4 L438.0 86.4 L438.2 87.4 L438.4 88.3 L438.6 89.3 L438.8 90.3 L439.0 91.3 L439.1 92.3 L439.3 93.3 L439.5 94.2 L439.7 95.2 L439.8 96.2 L440.0 97.2 L440.2 98.2 L440.3 99.2 L440.5 100.2 L440.7 101.1 L440.8 102.1 L441.0 103.1 L441.1 104.1 L441.3 105.1 L441.4 106.1 L441.6 107.1 L441.7 108.1 L441.9 109.0 L442.0 110.0 L442.2 111.0 L442.3 112.0 L442.5 113.0 L442.6 114.0 L442.8 115.0 L442.9 116.0 L443.0 117.0 L443.2 118.0 L443.3 118.9 L443.4 119.9 L443.6 120.9 L443.7 121.9 L443.8 122.9 L444.0 123.9 L444.1 124.9 L444.2 125.9 L444.3 126.9 L444.5 127.9 L444.6 128.9 L444.7 129.9 L444.8 130.8 L445.0 131.8 L445.1 132.8 L445.2 133.8 L445.3 134.8 L445.5 135.8 L445.6 136.8 L445.7 137.8 L445.8 138.8 L445.9 139.8 L446.1 140.8 L446.2 141.8 L446.3 142.8 L446.4 143.8 L446.5 144.7 L446.7 145.7 L446.8 146.7 L446.9 147.7 L447.0 148.7 L447.1 149.7 L447.3 150.7 L447.4 151.7 L447.5 152.7 L447.6 153.7 L447.7 154.7 L447.9 155.7 L448.0 156.7 L448.1 157.6 L448.2 158.6 L448.4 159.6 L448.5 160.6 L448.6 161.6 L448.7 162.6 L448.8 163.6 L449.0 164.6 L449.1 165.6 L449.2 166.6 L449.4 167.6 L449.5 168.6 L449.6 169.6 L449.7 170.5 L449.9 171.5 L450.0 172.5 L450.1 173.5 L450.3 174.5 L450.4 175.5 L450.5 176.5 L450.7 177.5 L450.8 178.5 L451.0 179.5 L451.1 180.5 L451.2 181.4 L451.4 182.4 L451.5 183.4 L451.7 184.4 L451.8 185.4 L452.0 186.4 L452.1 187.4 L452.3 188.4 L452.4 189.4 L452.6 190.3 L452.7 191.3 L452.9 192.3 L453.0 193.3 L453.2 194.3 L453.3 195.3 L453.5 196.3 L453.6 197.3 L453.8 198.2 L454.0 199.2 L454.1 200.2 L454.3 201.2 L454.5 202.2 L454.6 203.2 L454.8 204.2 L455.0 205.2 L455.1 206.1 L455.3 207.1 L455.5 208.1 L455.6 209.1 L455.8 210.1 L456.0 211.1 L456.2 212.1 L456.3 213.0 L456.5 214.0 L456.7 215.0 L456.9 216.0 L457.0 217.0 L457.2 218.0 L457.4 218.9 L457.6 219.9 L457.8 220.9 L458.0 221.9 L458.2 222.9 L458.3 223.8 L458.5 224.8 L458.7 225.8 L458.9 226.8 L459.1 227.8 L459.3 228.8 L459.5 229.7 L459.7 230.7 L459.9 231.7 L460.1 232.7 L460.3 233.7 L460.5 234.6 L460.7 235.6 L460.9 236.6 L461.2 237.6 L461.4 238.5 L461.6 239.5 L461.8 240.5 L462.1 241.5 L462.3 242.4 L462.6 243.4 L462.8 244.4 L463.1 245.3 L463.4 246.3 L463.6 247.3 L463.9 248.2 L464.2 249.2 L464.5 250.1 L464.8 251.1 L465.1 252.0 L465.4 253.0 L465.7 253.9 L466.1 254.9 L466.4 255.8 L466.7 256.8 L467.1 257.7 L467.5 258.6 L467.8 259.5 L468.2 260.5 L468.6 261.4 L469.0 262.3 L469.4 263.2 L469.9 264.1 L470.3 265.0 L470.7 265.9 L471.2 266.8 L471.6 267.7 L472.1 268.6 L472.6 269.5 L473.1 270.3 L473.6 271.2 L474.1 272.1 L474.6 272.9 L475.1 273.8 L475.6 274.6 L476.2 275.5 L476.7 276.3 L477.3 277.1 L477.9 277.9 L478.4 278.8 L479.0 279.6 L479.6 280.4 L480.3 281.1 L480.9 281.9 L481.5 282.7 L482.2 283.5 L482.8 284.2 L483.5 285.0 L484.2 285.7 L484.8 286.4 L485.5 287.2 L486.2 287.9 L486.9 288.6 L487.7 289.3 L488.4 289.9 L489.1 290.6 L489.9 291.3 L490.6 291.9 L491.4 292.6 L492.2 293.2 L493.0 293.8 L493.8 294.4 L494.6 295.0 L495.4 295.6 L496.2 296.2 L497.0 296.8 L497.9 297.3 L498.7 297.8 L499.6 298.4 L500.4 298.9 L501.3 299.4 L502.1 299.9 L503.0 300.4 L503.9 300.8 L504.8 301.3 L505.7 301.7 L506.6 302.1 L507.5 302.5 L508.4 302.9 L509.4 303.3 L510.3 303.7 L511.2 304.1 L512.2 304.4 L513.1 304.8 L514.0 305.1 L515.0 305.4 L515.9 305.8 L516.9 306.1 L517.8 306.4 L518.8 306.7 L519.7 307.0 L520.7 307.2 L521.7 307.5 L522.6 307.8 L523.6 308.1 L524.5 308.3 L525.5 308.6 L526.5 308.9 L527.4 309.1 L528.4 309.3 L529.4 309.6 L530.4 309.8 L531.3 310.1 L532.3 310.3 L533.3 310.5 L534.3 310.7 L535.2 310.9 L536.2 311.2 L537.2 311.4 L538.2 311.6 L539.1 311.8 L540.1 312.0 L541.1 312.2 L542.1 312.3 L543.1 312.5 L544.1 312.7 L545.0 312.9 L546.0 313.0 L547.0 313.2 L548.0 313.4 L549.0 313.5 L550.0 313.7 L551.0 313.9 L551.9 314.0 L552.9 314.2 L553.9 314.3 L554.9 314.4 L555.9 314.6 L556.9 314.7 L557.9 314.8 L558.9 315.0 L559.9 315.1 L560.9 315.2 L561.9 315.4 L562.9 315.5 L563.8 315.6 L564.8 315.7 L565.8 315.8 L566.8 315.9 L567.8 316.0 L568.8 316.1 L569.8 316.3 L570.8 316.4 L571.8 316.5 L572.8 316.6 L573.8 316.6 L574.8 316.7 L575.8 316.8 L576.8 316.9 L577.8 317.0 L578.8 317.1 L579.8 317.2 L580.8 317.3 L581.8 317.4 L582.8 317.4 L583.7 317.5 L584.7 317.6 L585.7 317.7 L586.7 317.7 L587.7 317.8 L588.7 317.9 L589.7 318.0 L590.7 318.0 L591.7 318.1 L592.7 318.2 L593.7 318.2 L594.7 318.3 L595.7 318.3 L596.7 318.4 L597.7 318.5 L598.7 318.5 L599.7 318.6 L600.7 318.6 L601.7 318.7 L602.7 318.8 L603.7 318.8 L604.7 318.9 L605.7 318.9 L606.7 319.0 L607.7 319.0 L608.7 319.1 L609.7 319.1 L610.7 319.1 L611.7 319.2 L612.7 319.2 L613.7 319.3 L614.7 319.3 L615.7 319.4 L616.7 319.4 L617.7 319.5 L618.7 319.5 L619.7 319.5 L620.7 319.6 L621.7 319.6 L622.7 319.7 L623.7 319.7 L624.7 319.7 L625.7 319.8 L626.7 319.8 L627.7 319.8 L628.7 319.9 L629.7 319.9 L630.7 319.9 L631.7 320.0 L632.7 320.0 L633.7 320.1 L634.7 320.1 L635.7 320.1 L636.7 320.2 L637.7 320.2 L638.7 320.2 L639.7 320.3 L640.7 320.3 L641.7 320.3 L642.7 320.4 L643.7 320.4 L644.7 320.4 L645.7 320.5 L646.7 320.5 L647.7 320.6 L648.7 320.6 L649.7 320.6 L650.7 320.7 L651.7 320.7 L652.7 320.7 L653.7 320.8 L654.7 320.8 L655.7 320.9 L656.7 320.9 L657.7 320.9 L658.7 321.0 L659.7 321.0 L660.7 321.1 L661.7 321.1 L662.7 321.1 L663.7 321.2 L664.7 321.2 L665.7 321.3 L666.7 321.3 L667.7 321.4 L668.7 321.4 L669.7 321.5 L670.7 321.5 L671.7 321.6 L672.6 321.6 L673.6 321.7" stroke="#f09a50" stroke-width="1.5" fill="none"/>
<path d="M37.6 319.5 L38.6 319.5 L39.6 319.5 L40.6 319.5 L41.6 319.5 L42.6 319.5 L43.6 319.5 L44.6 319.5 L45.6 319.5 L46.6 319.5 L47.6 319.5 L48.6 319.5 L49.6 319.5 L50.6 319.5 L51.6 319.5 L52.6 319.5 L53.6 319.5 L54.6 319.5 L55.6 319.5 L56.6 319.4 L57.6 319.4 L58.6 319.4 L59.6 319.4 L60.6 319.4 L61.6 319.4 L62.6 319.3 L63.6 319.3 L64.6 319.3 L65.6 319.3 L66.6 319.2 L67.6 319.2 L68.6 319.2 L69.6 319.1 L70.6 319.1 L71.6 319.1 L72.6 319.0 L73.6 319.0 L74.6 318.9 L75.6 318.9 L76.6 318.9 L77.6 318.8 L78.6 318.8 L79.6 318.7 L80.6 318.7 L81.6 318.6 L82.6 318.6 L83.6 318.5 L84.6 318.5 L85.6 318.4 L86.6 318.4 L87.6 318.3 L88.6 318.2 L89.6 318.2 L90.6 318.1 L91.6 318.0 L92.6 318.0 L93.6 317.9 L94.6 317.8 L95.6 317.8 L96.6 317.7 L97.6 317.6 L98.5 317.5 L99.5 317.5 L100.5 317.4 L101.5 317.3 L102.5 317.2 L103.5 317.1 L104.5 317.0 L105.5 317.0 L106.5 316.9 L107.5 316.8 L108.5 316.7 L109.5 316.6 L110.5 316.5 L111.5 316.4 L112.5 316.3 L113.5 316.2 L114.5 316.1 L115.5 316.0 L116.5 315.9 L117.5 315.8 L118.5 315.7 L119.5 315.6 L120.4 315.5 L121.4 315.3 L122.4 315.2 L123.4 315.1 L124.4 315.0 L125.4 314.9 L126.4 314.8 L127.4 314.7 L128.4 314.5 L129.4 314.4 L130.4 314.3 L131.4 314.2 L132.4 314.1 L133.4 313.9 L134.4 313.8 L135.3 313.7 L136.3 313.6 L137.3 313.4 L138.3 313.3 L139.3 313.2 L140.3 313.1 L141.3 312.9 L142.3 312.8 L143.3 312.7 L144.3 312.5 L145.3 312.4 L146.3 312.3 L147.2 312.2 L148.2 312.0 L149.2 311.9 L150.2 311.8 L151.2 311.7 L152.2 311.5 L153.2 311.4 L154.2 311.3 L155.2 311.1 L156.2 311.0 L157.2 310.9 L158.2 310.8 L159.1 310.6 L160.1 310.5 L161.1 310.4 L162.1 310.2 L163.1 310.1 L164.1 310.0 L165.1 309.9 L166.1 309.7 L167.1 309.6 L168.1 309.5 L169.1 309.4 L170.1 309.2 L171.1 309.1 L172.0 309.0 L173.0 308.8 L174.0 308.7 L175.0 308.6 L176.0 308.4 L177.0 308.3 L178.0 308.2 L179.0 308.0 L180.0 307.9 L181.0 307.7 L181.9 307.6 L182.9 307.4 L183.9 307.2 L184.9 307.1 L185.9 306.9 L186.9 306.7 L187.9 306.5 L188.8 306.4 L189.8 306.2 L190.8 306.0 L191.8 305.8 L192.8 305.5 L193.7 305.3 L194.7 305.1 L195.7 304.9 L196.7 304.7 L197.6 304.4 L198.6 304.2 L199.6 304.0 L200.5 303.7 L201.5 303.5 L202.5 303.2 L203.4 303.0 L204.4 302.7 L205.4 302.5 L206.4 302.2 L207.3 302.0 L208.3 301.7 L209.3 301.4 L210.2 301.2 L211.2 300.9 L212.2 300.7 L213.1 300.4 L214.1 300.2 L215.1 299.9 L216.0 299.7 L217.0 299.4 L218.0 299.2 L218.9 298.9 L219.9 298.7 L220.9 298.4 L221.8 298.2 L222.8 298.0 L223.8 297.7 L224.8 297.5 L225.7 297.3 L226.7 297.1 L227.7 296.8 L228.7 296.6 L229.6 296.4 L230.6 296.2 L231.6 296.0 L232.6 295.8 L233.6 295.6 L234.5 295.4 L235.5 295.2 L236.5 295.0 L237.5 294.8 L238.5 294.6 L239.4 294.4 L240.4 294.2 L241.4 294.0 L242.4 293.8 L243.4 293.6 L244.3 293.4 L245.3 293.2 L246.3 293.0 L247.3 292.8 L248.2 292.5 L249.2 292.3 L250.2 292.1 L251.2 291.9 L252.1 291.6 L253.1 291.4 L254.1 291.1 L255.0 290.9 L256.0 290.6 L257.0 290.4 L257.9 290.1 L258.9 289.8 L259.9 289.5 L260.8 289.2 L261.8 289.0 L262.7 288.6 L263.7 288.3 L264.6 288.0 L265.6 287.7 L266.5 287.4 L267.4 287.0 L268.4 286.7 L269.3 286.3 L270.2 285.9 L271.2 285.5 L272.1 285.2 L273.0 284.8 L273.9 284.4 L274.8 284.0 L275.8 283.6 L276.7 283.1 L277.6 282.7 L278.5 282.3 L279.4 281.9 L280.3 281.5 L281.2 281.1 L282.2 280.7 L283.1 280.4 L284.0 280.0 L284.9 279.6 L285.9 279.2 L286.8 278.9 L287.7 278.5 L288.7 278.2 L289.6 277.9 L290.6 277.6 L291.5 277.3 L292.5 277.0 L293.5 276.8 L294.4 276.5 L295.4 276.3 L296.4 276.0 L297.3 275.8 L298.3 275.5 L299.3 275.2 L300.2 275.0 L301.2 274.7 L302.2 274.4 L303.1 274.1 L304.1 273.8 L305.0 273.5 L306.0 273.2 L306.9 272.9 L307.9 272.6 L308.8 272.3 L309.8 271.9 L310.7 271.6 L311.6 271.2 L312.6 270.9 L313.5 270.5 L314.4 270.1 L315.4 269.8 L316.3 269.4 L317.2 269.0 L318.1 268.6 L319.0 268.2 L319.9 267.8 L320.8 267.3 L321.7 266.9 L322.6 266.5 L323.5 266.0 L324.4 265.6 L325.3 265.1 L326.2 264.6 L327.1 264.1 L327.9 263.6 L328.8 263.1 L329.7 262.6 L330.5 262.1 L331.4 261.6 L332.2 261.1 L333.1 260.5 L333.9 260.0 L334.7 259.4 L335.5 258.8 L336.4 258.2 L337.2 257.7 L338.0 257.1 L338.8 256.5 L339.5 255.8 L340.3 255.2 L341.1 254.6 L341.9 254.0 L342.6 253.3 L343.4 252.7 L344.1 252.0 L344.9 251.3 L345.6 250.6 L346.3 250.0 L347.1 249.3 L347.8 248.6 L348.5 247.9 L349.2 247.2 L349.9 246.4 L350.6 245.7 L351.3 245.0 L352.0 244.3 L352.6 243.5 L353.3 242.8 L354.0 242.0 L354.6 241.3 L355.3 240.5 L355.9 239.7 L356.6 239.0 L357.2 238.2 L357.8 237.4 L358.5 236.7 L359.1 235.9 L359.7 235.1 L360.3 234.3 L360.9 233.5 L361.5 232.7 L362.1 231.9 L362.7 231.1 L363.3 230.3 L363.9 229.5 L364.5 228.7 L365.1 227.9 L365.7 227.1 L366.3 226.3 L366.8 225.4 L367.4 224.6 L368.0 223.8 L368.6 223.0 L369.1 222.2 L369.7 221.3 L370.3 220.5 L370.8 219.7 L371.4 218.9 L371.9 218.0 L372.5 217.2 L373.0 216.4 L373.6 215.5 L374.1 214.7 L374.7 213.8 L375.2 213.0 L375.8 212.2 L376.3 211.3 L376.8 210.5 L377.3 209.6 L377.8 208.8 L378.4 207.9 L378.9 207.0 L379.3 206.2 L379.8 205.3 L380.3 204.4 L380.8 203.5 L381.2 202.6 L381.7 201.7 L382.1 200.8 L382.6 199.9 L383.0 199.0 L383.4 198.1 L383.8 197.2 L384.2 196.3 L384.5 195.3 L384.9 194.4 L385.2 193.5 L385.6 192.5 L385.9 191.6 L386.2 190.6 L386.5 189.7 L386.8 188.7 L387.1 187.8 L387.4 186.8 L387.6 185.8 L387.9 184.9 L388.2 183.9 L388.5 183.0 L388.7 182.0 L389.0 181.0 L389.3 180.1 L389.5 179.1 L389.8 178.1 L390.1 177.2 L390.3 176.2 L390.6 175.2 L390.8 174.3 L391.1 173.3 L391.4 172.3 L391.6 171.4 L391.9 170.4 L392.1 169.4 L392.4 168.5 L392.6 167.5 L392.9 166.5 L393.1 165.6 L393.4 164.6 L393.7 163.6 L393.9 162.7 L394.2 161.7 L394.4 160.7 L394.7 159.8 L394.9 158.8 L395.1 157.8 L395.4 156.9 L395.6 155.9 L395.9 154.9 L396.1 154.0 L396.4 153.0 L396.6 152.0 L396.9 151.0 L397.1 150.1 L397.4 149.1 L397.6 148.1 L397.8 147.2 L398.1 146.2 L398.3 145.2 L398.6 144.3 L398.8 143.3 L399.0 142.3 L399.3 141.3 L399.5 140.4 L399.8 139.4 L400.0 138.4 L400.2 137.5 L400.5 136.5 L400.7 135.5 L400.9 134.5 L401.2 133.6 L401.4 132.6 L401.6 131.6 L401.9 130.7 L402.1 129.7 L402.3 128.7 L402.6 127.7 L402.8 126.8 L403.0 125.8 L403.3 124.8 L403.5 123.8 L403.7 122.9 L404.0 121.9 L404.2 120.9 L404.4 120.0 L404.7 119.0 L404.9 118.0 L405.1 117.0 L405.4 116.1 L405.6 115.1 L405.8 114.1 L406.1 113.1 L406.3 112.2 L406.5 111.2 L406.7 110.2 L407.0 109.3 L407.2 108.3 L407.4 107.3 L407.7 106.3 L407.9 105.4 L408.1 104.4 L408.3 103.4 L408.5 102.4 L408.8 101.5 L409.0 100.5 L409.2 99.5 L409.4 98.5 L409.6 97.5 L409.8 96.6 L410.1 95.6 L410.3 94.6 L410.5 93.6 L410.7 92.7 L410.9 91.7 L411.1 90.7 L411.3 89.7 L411.6 88.8 L411.8 87.8 L412.0 86.8 L412.2 85.8 L412.5 84.9 L412.7 83.9 L412.9 82.9 L413.1 81.9 L413.4 81.0 L413.6 80.0 L413.8 79.0 L414.1 78.1 L414.3 77.1 L414.6 76.1 L414.8 75.1 L415.1 74.2 L415.3 73.2 L415.6 72.2 L415.9 71.3 L416.2 70.3 L416.5 69.4 L416.8 68.4 L417.1 67.5 L417.5 66.6 L417.9 65.6 L418.3 64.7 L418.7 63.8 L419.2 62.9 L419.7 62.1 L420.2 61.2 L420.7 60.4 L421.3 59.5 L421.9 58.7 L422.5 57.9 L423.1 57.2 L423.8 56.4 L424.5 55.8 L425.4 55.2 L426.3 54.9 L427.3 55.0 L428.2 55.5 L428.9 56.2 L429.4 57.0 L430.0 57.9 L430.4 58.7 L430.9 59.6 L431.4 60.5 L431.8 61.4 L432.2 62.4 L432.5 63.3 L432.9 64.2 L433.2 65.2 L433.6 66.1 L433.9 67.1 L434.1 68.0 L434.4 69.0 L434.7 70.0 L434.9 70.9 L435.1 71.9 L435.3 72.9 L435.6 73.9 L435.8 74.8 L436.0 75.8 L436.2 76.8 L436.4 77.8 L436.5 78.8 L436.7 79.7 L436.9 80.7 L437.1 81.7 L437.3 82.7 L437.5 83.7 L437.7 84.6 L437.9 85.6 L438.1 86.6 L438.3 87.6 L438.5 88.6 L438.6 89.6 L438.8 90.5 L439.0 91.5 L439.2 92.5 L439.4 93.5 L439.5 94.5 L439.7 95.5 L439.9 96.4 L440.0 97.4 L440.2 98.4 L440.4 99.4 L440.5 100.4 L440.7 101.4 L440.9 102.4 L441.0 103.3 L441.2 104.3 L441.3 105.3 L441.5 106.3 L441.6 107.3 L441.8 108.3 L441.9 109.3 L442.1 110.3 L442.2 111.3 L442.4 112.2 L442.5 113.2 L442.6 114.2 L442.8 115.2 L442.9 116.2 L443.1 117.2 L443.2 118.2 L443.3 119.2 L443.5 120.2 L443.6 121.2 L443.7 122.2 L443.9 123.1 L444.0 124.1 L444.1 125.1 L444.2 126.1 L444.4 127.1 L444.5 128.1 L444.6 129.1 L444.8 130.1 L444.9 131.1 L445.0 132.1 L445.1 133.1 L445.2 134.1 L445.4 135.0 L445.5 136.0 L445.6 137.0 L445.7 138.0 L445.9 139.0 L446.0 140.0 L446.1 141.0 L446.2 142.0 L446.3 143.0 L446.5 144.0 L446.6 145.0 L446.7 146.0 L446.8 147.0 L446.9 148.0 L447.1 148.9 L447.2 149.9 L447.3 150.9 L447.4 151.9 L447.5 152.9 L447.7 153.9 L447.8 154.9 L447.9 155.9 L448.0 156.9 L448.1 157.9 L448.3 158.9 L448.4 159.9 L448.5 160.9 L448.6 161.9 L448.8 162.8 L448.9 163.8 L449.0 164.8 L449.1 165.8 L449.3 166.8 L449.4 167.8 L449.5 168.8 L449.6 169.8 L449.8 170.8 L449.9 171.8 L450.0 172.8 L450.2 173.8 L450.3 174.7 L450.4 175.7 L450.6 176.7 L450.7 177.7 L450.9 178.7 L451.0 179.7 L451.1 180.7 L451.3 181.7 L451.4 182.7 L451.6 183.7 L451.7 184.6 L451.9 185.6 L452.0 186.6 L452.2 187.6 L452.3 188.6 L452.4 189.6 L452.6 190.6 L452.8 191.6 L452.9 192.6 L453.1 193.5 L453.2 194.5 L453.4 195.5 L453.5 196.5 L453.7 197.5 L453.8 198.5 L454.0 199.5 L454.2 200.5 L454.3 201.4 L454.5 202.4 L454.7 203.4 L454.8 204.4 L455.0 205.4 L455.2 206.4 L455.3 207.4 L455.5 208.3 L455.7 209.3 L455.8 210.3 L456.0 211.3 L456.2 212.3 L456.4 213.3 L456.5 214.2 L456.7 215.2 L456.9 216.2 L457.1 217.2 L457.3 218.2 L457.5 219.2 L457.6 220.1 L457.8 221.1 L458.0 222.1 L458.2 223.1 L458.4 224.1 L458.6 225.1 L458.8 226.0 L459.0 227.0 L459.2 228.0 L459.3 229.0 L459.5 230.0 L459.7 230.9 L459.9 231.9 L460.1 232.9 L460.4 233.9 L460.6 234.9 L460.8 235.8 L461.0 236.8 L461.2 237.8 L461.4 238.8 L461.7 239.7 L461.9 240.7 L462.1 241.7 L462.4 242.7 L462.6 243.6 L462.9 244.6 L463.1 245.6 L463.4 246.5 L463.7 247.5 L464.0 248.4 L464.2 249.4 L464.5 250.4 L464.8 251.3 L465.2 252.3 L465.5 253.2 L465.8 254.2 L466.1 255.1 L466.5 256.0 L466.8 257.0 L467.2 257.9 L467.5 258.8 L467.9 259.8 L468.3 260.7 L468.7 261.6 L469.1 262.5 L469.5 263.4 L470.0 264.3 L470.4 265.2 L470.8 266.1 L471.3 267.0 L471.7 267.9 L472.2 268.8 L472.7 269.7 L473.2 270.5 L473.7 271.4 L474.2 272.3 L474.7 273.1 L475.2 274.0 L475.8 274.8 L476.3 275.7 L476.9 276.5 L477.4 277.3 L478.0 278.1 L478.6 278.9 L479.2 279.7 L479.8 280.5 L480.4 281.3 L481.0 282.1 L481.7 282.9 L482.3 283.6 L483.0 284.4 L483.6 285.1 L484.3 285.9 L485.0 286.6 L485.7 287.3 L486.4 288.0 L487.1 288.7 L487.8 289.4 L488.6 290.1 L489.3 290.8 L490.1 291.4 L490.8 292.1 L491.6 292.7 L492.4 293.4 L493.2 294.0 L493.9 294.6 L494.7 295.2 L495.6 295.8 L496.4 296.3 L497.2 296.9 L498.0 297.5 L498.9 298.0 L499.7 298.5 L500.6 299.0 L501.5 299.5 L502.3 300.0 L503.2 300.5 L504.1 300.9 L505.0 301.4 L505.9 301.8 L506.8 302.2 L507.7 302.7 L508.6 303.0 L509.6 303.4 L510.5 303.8 L511.4 304.2 L512.4 304.5 L513.3 304.9 L514.2 305.2 L515.2 305.5 L516.1 305.8 L517.1 306.1 L518.1 306.4 L519.0 306.7 L520.0 307.0 L520.9 307.3 L521.9 307.6 L522.8 307.8 L523.8 308.1 L524.8 308.4 L525.7 308.6 L526.7 308.9 L527.7 309.1 L528.6 309.4 L529.6 309.6 L530.6 309.9 L531.6 310.1 L532.5 310.3 L533.5 310.5 L534.5 310.8 L535.5 311.0 L536.4 311.2 L537.4 311.4 L538.4 311.6 L539.4 311.8 L540.4 312.0 L541.3 312.2 L542.3 312.4 L543.3 312.5 L544.3 312.7 L545.3 312.9 L546.3 313.1 L547.2 313.2 L548.2 313.4 L549.2 313.6 L550.2 313.7 L551.2 313.9 L552.2 314.0 L553.2 314.2 L554.2 314.3 L555.1 314.5 L556.1 314.6 L557.1 314.7 L558.1 314.9 L559.1 315.0 L560.1 315.1 L561.1 315.3 L562.1 315.4 L563.1 315.5 L564.1 315.6 L565.1 315.7 L566.1 315.9 L567.1 316.0 L568.0 316.1 L569.0 316.2 L570.0 316.3 L571.0 316.4 L572.0 316.5 L573.0 316.6 L574.0 316.7 L575.0 316.8 L576.0 316.9 L577.0 317.0 L578.0 317.1 L579.0 317.1 L580.0 317.2 L581.0 317.3 L582.0 317.4 L583.0 317.5 L584.0 317.6 L585.0 317.6 L586.0 317.7 L587.0 317.8 L588.0 317.9 L589.0 317.9 L590.0 318.0 L591.0 318.1 L592.0 318.1 L593.0 318.2 L594.0 318.3 L595.0 318.3 L596.0 318.4 L596.9 318.4 L597.9 318.5 L598.9 318.6 L599.9 318.6 L600.9 318.7 L601.9 318.7 L602.9 318.8 L603.9 318.8 L604.9 318.9 L605.9 318.9 L606.9 319.0 L607.9 319.0 L608.9 319.1 L609.9 319.1 L610.9 319.2 L611.9 319.2 L612.9 319.3 L613.9 319.3 L614.9 319.3 L615.9 319.4 L616.9 319.4 L617.9 319.5 L618.9 319.5 L619.9 319.5 L620.9 319.6 L621.9 319.6 L622.9 319.7 L623.9 319.7 L624.9 319.7 L625.9 319.8 L626.9 319.8 L627.9 319.8 L628.9 319.9 L629.9 319.9 L630.9 320.0 L631.9 320.0 L632.9 320.0 L633.9 320.1 L634.9 320.1 L635.9 320.1 L636.9 320.2 L637.9 320.2 L638.9 320.2 L639.9 320.3 L640.9 320.3 L641.9 320.3 L642.9 320.4 L643.9 320.4 L644.9 320.4 L645.9 320.5 L646.9 320.5 L647.9 320.5 L648.9 320.6 L649.9 320.6 L650.9 320.7 L651.9 320.7 L652.9 320.7 L653.9 320.8 L654.9 320.8 L655.9 320.9 L656.9 320.9 L657.9 320.9 L658.9 321.0 L659.9 321.0 L660.9 321.1 L661.9 321.1 L662.9 321.1 L663.9 321.2 L664.9 321.2 L665.9 321.3 L666.9 321.3 L667.9 321.4 L668.9 321.4 L669.9 321.5 L670.9 321.5 L671.9 321.6 L672.9 321.6" stroke="#7a1e1e" stroke-width="1.5" fill="none"/>
<path d="M37.6 355.3 L38.6 355.3 L39.6 355.3 L40.6 355.3 L41.6 355.3 L42.6 355.2 L43.6 355.2 L44.6 355.2 L45.6 355.2 L46.6 355.1 L47.6 354.9 L48.6 354.8 L49.6 354.6 L50.6 354.5 L51.6 354.3 L52.6 354.2 L53.6 354.2 L54.6 354.2 L55.6 354.3 L56.6 354.4 L57.6 354.5 L58.6 354.7 L59.6 354.8 L60.6 355.0 L61.6 355.2 L62.6 355.3 L63.6 355.4 L64.6 355.5 L65.6 355.5 L66.6 355.5 L67.6 355.4 L68.6 355.2 L69.6 355.1 L70.6 354.9 L71.6 354.8 L72.6 354.7 L73.6 354.7 L74.6 354.7 L75.6 354.8 L76.6 354.9 L77.6 354.9 L78.6 355.0 L79.6 355.1 L80.6 355.2 L81.6 355.3 L82.6 355.3 L83.6 355.4 L84.6 355.4 L85.6 355.4 L86.6 355.4 L87.6 355.3 L88.6 355.2 L89.6 355.1 L90.6 355.1 L91.6 355.0 L92.6 354.9 L93.6 354.8 L94.6 354.8 L95.6 354.8 L96.6 354.8 L97.6 354.8 L98.6 354.8 L99.6 354.8 L100.6 354.8 L101.6 354.8 L102.6 354.8 L103.6 354.8 L104.6 354.8 L105.6 354.8 L106.6 354.8 L107.6 354.8 L108.6 354.8 L109.6 354.8 L110.6 354.8 L111.6 354.8 L112.6 354.8 L113.6 354.8 L114.6 354.8 L115.6 354.8 L116.6 354.8 L117.6 354.7 L118.6 354.7 L119.6 354.7 L120.6 354.7 L121.6 354.7 L122.6 354.7 L123.6 354.6 L124.6 354.6 L125.6 354.6 L126.6 354.5 L127.6 354.4 L128.6 354.3 L129.6 354.1 L130.6 354.0 L131.6 353.9 L132.6 353.8 L133.6 353.7 L134.6 353.6 L135.6 353.6 L136.6 353.6 L137.6 353.6 L138.6 353.6 L139.6 353.6 L140.6 353.6 L141.6 353.6 L142.6 353.7 L143.6 353.7 L144.6 353.7 L145.6 353.7 L146.6 353.7 L147.6 353.7 L148.6 353.7 L149.6 353.7 L150.6 353.7 L151.6 353.7 L152.6 353.6 L153.6 353.6 L154.6 353.5 L155.6 353.4 L156.6 353.3 L157.6 353.2 L158.6 353.1 L159.6 353.0 L160.6 352.9 L161.6 352.8 L162.6 352.7 L163.6 352.6 L164.6 352.5 L165.6 352.4 L166.6 352.3 L167.6 352.2 L168.6 352.1 L169.6 352.0 L170.6 351.9 L171.6 351.8 L172.6 351.7 L173.6 351.6 L174.6 351.5 L175.6 351.3 L176.6 351.2 L177.6 351.1 L178.6 351.0 L179.6 350.9 L180.6 350.8 L181.6 350.6 L182.6 350.5 L183.6 350.4 L184.6 350.3 L185.6 350.2 L186.6 350.0 L187.6 349.9 L188.6 349.8 L189.6 349.6 L190.6 349.5 L191.6 349.4 L192.6 349.2 L193.6 349.1 L194.6 349.0 L195.6 348.8 L196.6 348.7 L197.6 348.5 L198.6 348.4 L199.6 348.2 L200.6 348.1 L201.6 347.9 L202.6 347.8 L203.6 347.6 L204.6 347.4 L205.6 347.3 L206.6 347.1 L207.6 346.9 L208.6 346.7 L209.6 346.5 L210.6 346.3 L211.6 346.0 L212.6 345.8 L213.6 345.5 L214.6 345.2 L215.6 345.0 L216.6 344.7 L217.6 344.5 L218.6 344.3 L219.6 344.1 L220.6 343.9 L221.6 343.7 L222.6 343.5 L223.6 343.3 L224.6 343.1 L225.6 342.8 L226.6 342.5 L227.6 342.2 L228.6 341.9 L229.6 341.6 L230.6 341.4 L231.6 341.1 L232.6 340.9 L233.6 340.6 L234.6 340.4 L235.6 340.2 L236.6 340.0 L237.6 339.9 L238.6 339.8 L239.6 339.8 L240.6 339.7 L241.6 339.7 L242.6 339.7 L243.6 339.6 L244.6 339.6 L245.6 339.6 L246.6 339.6 L247.6 339.5 L248.6 339.5 L249.6 339.5 L250.6 339.5 L251.6 339.5 L252.6 339.5 L253.6 339.5 L254.6 339.5 L255.6 339.6 L256.6 339.6 L257.6 339.7 L258.6 339.8 L259.6 339.9 L260.6 339.9 L261.6 340.0 L262.6 340.1 L263.6 340.2 L264.6 340.3 L265.6 340.5 L266.6 340.6 L267.6 340.8 L268.6 340.9 L269.6 341.1 L270.6 341.3 L271.6 341.5 L272.6 341.7 L273.6 341.9 L274.6 342.0 L275.6 342.2 L276.6 342.4 L277.6 342.6 L278.6 342.7 L279.6 342.9 L280.6 343.1 L281.6 343.3 L282.6 343.4 L283.6 343.6 L284.6 343.8 L285.6 343.9 L286.6 344.0 L287.6 344.2 L288.6 344.3 L289.6 344.4 L290.6 344.5 L291.6 344.6 L292.6 344.7 L293.6 344.8 L294.6 344.9 L295.6 345.1 L296.6 345.2 L297.6 345.4 L298.6 345.5 L299.6 345.7 L300.6 345.9 L301.6 346.1 L302.6 346.2 L303.6 346.4 L304.6 346.6 L305.6 346.7 L306.6 346.9 L307.6 347.0 L308.6 347.1 L309.6 347.2 L310.6 347.3 L311.6 347.5 L312.6 347.6 L313.6 347.7 L314.6 347.8 L315.6 347.9 L316.6 347.9 L317.6 348.0 L318.6 348.0 L319.6 348.0 L320.6 347.9 L321.6 347.8 L322.6 347.7 L323.6 347.6 L324.6 347.4 L325.6 347.3 L326.6 347.2 L327.6 347.1 L328.6 347.0 L329.6 346.9 L330.6 346.7 L331.6 346.6 L332.6 346.5 L333.6 346.3 L334.6 346.2 L335.6 346.0 L336.6 345.8 L337.6 345.7 L338.6 345.5 L339.6 345.2 L340.6 345.0 L341.6 344.7 L342.6 344.3 L343.6 343.9 L344.6 343.5 L345.6 343.0 L346.6 342.6 L347.6 342.3 L348.6 341.9 L349.6 341.7 L350.6 341.4 L351.6 341.2 L352.6 340.9 L353.6 340.7 L354.6 340.5 L355.6 340.3 L356.6 340.1 L357.6 339.9 L358.6 339.6 L359.6 339.4 L360.6 339.1 L361.6 338.9 L362.6 338.6 L363.6 338.4 L364.6 338.1 L365.6 337.9 L366.6 337.6 L367.6 337.2 L368.6 336.9 L369.6 336.5 L370.6 336.0 L371.6 335.4 L372.6 334.7 L373.6 333.9 L374.6 333.2 L375.6 332.6 L376.6 332.2 L377.6 331.9 L378.6 331.6 L379.6 331.4 L380.6 331.1 L381.6 330.9 L382.6 330.8 L383.6 330.7 L384.6 330.7 L385.6 330.8 L386.6 331.0 L387.6 331.3 L388.6 331.6 L389.6 331.9 L390.6 332.2 L391.6 332.6 L392.6 333.1 L393.6 333.6 L394.6 334.2 L395.6 334.8 L396.6 335.5 L397.6 336.3 L398.6 337.2 L399.6 338.3 L400.6 339.5 L401.6 340.9 L402.6 342.3 L403.6 343.9 L404.6 345.6 L405.6 347.7 L406.6 349.8 L407.6 351.8 L408.6 353.7 L409.6 355.8 L410.6 357.7 L411.6 359.2 L412.6 360.1 L413.6 360.7 L414.6 361.1 L415.6 361.2 L416.6 361.0 L417.6 360.7 L418.6 360.3 L419.6 359.8 L420.6 359.1 L421.6 358.1 L422.6 357.0 L423.6 355.9 L424.6 355.1 L425.6 354.5 L426.6 354.4 L427.6 354.6 L428.6 354.9 L429.6 355.3 L430.6 355.8 L431.6 356.2 L432.6 356.7 L433.6 357.1 L434.6 357.7 L435.6 358.3 L436.6 358.9 L437.6 359.6 L438.6 360.2 L439.6 360.8 L440.6 361.2 L441.6 361.5 L442.6 361.5 L443.6 361.3 L444.6 360.9 L445.6 360.3 L446.6 359.7 L447.6 359.0 L448.6 358.4 L449.6 357.7 L450.6 357.2 L451.6 356.8 L452.6 356.6 L453.6 356.5 L454.6 356.4 L455.6 356.3 L456.6 356.3 L457.6 356.2 L458.6 356.2 L459.6 356.1 L460.6 356.1 L461.6 356.0 L462.6 356.0 L463.6 356.0 L464.6 355.9 L465.6 355.9 L466.6 355.9 L467.6 355.8 L468.6 355.8 L469.6 355.7 L470.6 355.7 L471.6 355.6 L472.6 355.6 L473.6 355.5 L474.6 355.4 L475.6 355.3 L476.6 355.2 L477.6 355.1 L478.6 355.0 L479.6 355.0 L480.6 354.9 L481.6 354.8 L482.6 354.7 L483.6 354.6 L484.6 354.5 L485.6 354.5 L486.6 354.4 L487.6 354.4 L488.6 354.3 L489.6 354.2 L490.6 354.2 L491.6 354.1 L492.6 354.1 L493.6 354.0 L494.6 354.0 L495.6 353.9 L496.6 353.9 L497.6 353.8 L498.6 353.8 L499.6 353.8 L500.6 353.7 L501.6 353.7 L502.6 353.7 L503.6 353.6 L504.6 353.6 L505.6 353.6 L506.6 353.6 L507.6 353.6 L508.6 353.6 L509.6 353.7 L510.6 353.8 L511.6 353.9 L512.6 354.0 L513.6 354.1 L514.6 354.2 L515.6 354.3 L516.6 354.4 L517.6 354.5 L518.6 354.5 L519.6 354.5 L520.6 354.5 L521.6 354.5 L522.6 354.5 L523.6 354.5 L524.6 354.4 L525.6 354.4 L526.6 354.4 L527.6 354.4 L528.6 354.3 L529.6 354.3 L530.6 354.3 L531.6 354.2 L532.6 354.0 L533.6 353.9 L534.6 353.7 L535.6 353.5 L536.6 353.3 L537.6 353.1 L538.6 352.9 L539.6 352.7 L540.6 352.6 L541.6 352.4 L542.6 352.3 L543.6 352.2 L544.6 352.2 L545.6 352.2 L546.6 352.3 L547.6 352.3 L548.6 352.4 L549.6 352.5 L550.6 352.6 L551.6 352.7 L552.6 352.9 L553.6 353.0 L554.6 353.1 L555.6 353.3 L556.6 353.5 L557.6 353.6 L558.6 353.7 L559.6 353.9 L560.6 354.0 L561.6 354.1 L562.6 354.2 L563.6 354.3 L564.6 354.4 L565.6 354.5 L566.6 354.5 L567.6 354.5 L568.6 354.5 L569.6 354.5 L570.6 354.5 L571.6 354.5 L572.6 354.5 L573.6 354.6 L574.6 354.6 L575.6 354.6 L576.6 354.6 L577.6 354.6 L578.6 354.6 L579.6 354.6 L580.6 354.6 L581.6 354.6 L582.6 354.6 L583.6 354.6 L584.6 354.6 L585.6 354.6 L586.6 354.6 L587.6 354.6 L588.6 354.5 L589.6 354.4 L590.6 354.3 L591.6 354.3 L592.6 354.2 L593.6 354.1 L594.6 354.0 L595.6 353.9 L596.6 353.9 L597.6 353.9 L598.6 353.9 L599.6 353.9 L600.6 353.9 L601.6 353.9 L602.6 353.9 L603.6 353.9 L604.6 354.0 L605.6 354.0 L606.6 354.0 L607.6 354.0 L608.6 354.0 L609.6 354.0 L610.6 354.0 L611.6 354.1 L612.6 354.1 L613.6 354.1 L614.6 354.1 L615.6 354.1 L616.6 354.2 L617.6 354.2 L618.6 354.2 L619.6 354.2 L620.6 354.2 L621.6 354.2 L622.6 354.3 L623.6 354.3 L624.6 354.3 L625.6 354.3 L626.6 354.3 L627.6 354.4 L628.6 354.4 L629.6 354.4 L630.6 354.4 L631.6 354.5 L632.6 354.5 L633.6 354.5 L634.6 354.6 L635.6 354.6 L636.6 354.6 L637.6 354.6 L638.6 354.7 L639.6 354.7 L640.6 354.7 L641.6 354.7 L642.6 354.7 L643.6 354.8 L644.6 354.8 L645.6 354.8 L646.6 354.8 L647.6 354.8 L648.6 354.9 L649.6 354.9 L650.6 354.9 L651.6 354.9 L652.6 354.9 L653.6 354.9 L654.6 354.9 L655.6 354.9 L656.6 354.9 L657.6 354.9 L658.6 354.9 L659.6 354.9 L660.6 354.9 L661.6 354.9 L662.6 354.9 L663.6 354.9 L664.6 354.9 L665.6 354.9 L666.6 354.9 L667.6 354.9 L668.6 354.9 L669.6 354.9 L670.6 354.8 L671.6 354.8 L672.6 354.8 L673.6 354.8" stroke="#e01c1c" stroke-width="2.4" fill="none"/><path d="M37.6 357.6 L38.6 357.3 L39.6 357.0 L40.6 356.7 L41.6 356.4 L42.6 356.1 L43.6 355.9 L44.6 355.7 L45.6 355.5 L46.6 355.2 L47.6 355.0 L48.6 354.8 L49.6 354.6 L50.6 354.5 L51.6 354.3 L52.6 354.2 L53.6 354.2 L54.6 354.2 L55.6 354.3 L56.6 354.4 L57.6 354.6 L58.6 354.7 L59.6 354.9 L60.6 355.1 L61.6 355.3 L62.6 355.5 L63.6 355.6 L64.6 355.7 L65.6 355.7 L66.6 355.7 L67.6 355.5 L68.6 355.3 L69.6 355.1 L70.6 354.9 L71.6 354.8 L72.6 354.7 L73.6 354.7 L74.6 354.7 L75.6 354.8 L76.6 354.9 L77.6 355.0 L78.6 355.1 L79.6 355.2 L80.6 355.3 L81.6 355.4 L82.6 355.5 L83.6 355.6 L84.6 355.6 L85.6 355.6 L86.6 355.5 L87.6 355.5 L88.6 355.4 L89.6 355.3 L90.6 355.1 L91.6 355.0 L92.6 354.9 L93.6 354.9 L94.6 354.8 L95.6 354.8 L96.6 354.8 L97.6 354.8 L98.6 354.8 L99.6 354.8 L100.6 354.9 L101.6 354.9 L102.6 354.9 L103.6 354.9 L104.6 354.9 L105.6 355.0 L106.6 355.0 L107.6 355.0 L108.6 355.0 L109.6 355.0 L110.6 355.0 L111.6 355.0 L112.6 355.0 L113.6 355.0 L114.6 355.0 L115.6 354.9 L116.6 354.9 L117.6 354.9 L118.6 354.9 L119.6 354.9 L120.6 354.8 L121.6 354.8 L122.6 354.8 L123.6 354.8 L124.6 354.8 L125.6 354.8 L126.6 355.0 L127.6 355.2 L128.6 355.4 L129.6 355.4 L130.6 355.3 L131.6 355.2 L132.6 355.0 L133.6 354.9 L134.6 354.7 L135.6 354.6 L136.6 354.4 L137.6 354.3 L138.6 354.2 L139.6 354.0 L140.6 353.9 L141.6 353.8 L142.6 353.7 L143.6 353.7 L144.6 353.7 L145.6 354.0 L146.6 354.3 L147.6 354.7 L148.6 355.2 L149.6 355.6 L150.6 356.0 L151.6 356.3 L152.6 356.4 L153.6 356.4 L154.6 356.2 L155.6 355.9 L156.6 355.6 L157.6 355.2 L158.6 354.7 L159.6 354.3 L160.6 353.9 L161.6 353.5 L162.6 353.3 L163.6 353.1 L164.6 353.0 L165.6 353.1 L166.6 353.2 L167.6 353.5 L168.6 353.8 L169.6 354.1 L170.6 354.4 L171.6 354.7 L172.6 354.8 L173.6 354.9 L174.6 354.9 L175.6 354.8 L176.6 354.6 L177.6 354.4 L178.6 354.2 L179.6 354.0 L180.6 353.9 L181.6 353.7 L182.6 353.5 L183.6 353.4 L184.6 353.4 L185.6 353.3 L186.6 353.3 L187.6 353.2 L188.6 353.2 L189.6 353.2 L190.6 353.1 L191.6 353.1 L192.6 353.1 L193.6 353.0 L194.6 353.0 L195.6 353.0 L196.6 352.9 L197.6 352.9 L198.6 352.9 L199.6 352.8 L200.6 352.8 L201.6 352.8 L202.6 352.7 L203.6 352.7 L204.6 352.6 L205.6 352.5 L206.6 352.4 L207.6 352.3 L208.6 352.0 L209.6 351.6 L210.6 351.3 L211.6 350.8 L212.6 350.4 L213.6 350.0 L214.6 349.4 L215.6 348.8 L216.6 348.1 L217.6 347.5 L218.6 347.0 L219.6 346.7 L220.6 346.5 L221.6 346.3 L222.6 346.2 L223.6 346.1 L224.6 346.0 L225.6 345.9 L226.6 345.7 L227.6 345.6 L228.6 345.4 L229.6 345.3 L230.6 345.1 L231.6 344.9 L232.6 344.7 L233.6 344.5 L234.6 344.3 L235.6 344.1 L236.6 344.0 L237.6 343.8 L238.6 343.6 L239.6 343.4 L240.6 343.1 L241.6 342.9 L242.6 342.6 L243.6 342.4 L244.6 342.1 L245.6 341.9 L246.6 341.6 L247.6 341.4 L248.6 341.2 L249.6 341.1 L250.6 341.0 L251.6 340.9 L252.6 340.9 L253.6 340.9 L254.6 341.0 L255.6 341.0 L256.6 341.1 L257.6 341.2 L258.6 341.2 L259.6 341.3 L260.6 341.4 L261.6 341.5 L262.6 341.6 L263.6 341.7 L264.6 341.8 L265.6 341.9 L266.6 342.0 L267.6 342.2 L268.6 342.3 L269.6 342.4 L270.6 342.6 L271.6 342.7 L272.6 342.9 L273.6 343.0 L274.6 343.1 L275.6 343.3 L276.6 343.4 L277.6 343.6 L278.6 343.8 L279.6 343.9 L280.6 344.1 L281.6 344.2 L282.6 344.4 L283.6 344.5 L284.6 344.5 L285.6 344.6 L286.6 344.6 L287.6 344.6 L288.6 344.6 L289.6 344.5 L290.6 344.5 L291.6 344.4 L292.6 344.4 L293.6 344.3 L294.6 344.3 L295.6 344.3 L296.6 344.4 L297.6 344.6 L298.6 344.9 L299.6 345.2 L300.6 345.5 L301.6 345.9 L302.6 346.2 L303.6 346.5 L304.6 346.8 L305.6 347.0 L306.6 347.2 L307.6 347.2 L308.6 347.3 L309.6 347.3 L310.6 347.3 L311.6 347.4 L312.6 347.4 L313.6 347.4 L314.6 347.5 L315.6 347.5 L316.6 347.5 L317.6 347.5 L318.6 347.5 L319.6 347.5 L320.6 347.3 L321.6 347.0 L322.6 346.7 L323.6 346.3 L324.6 346.0 L325.6 345.7 L326.6 345.4 L327.6 345.1 L328.6 344.8 L329.6 344.5 L330.6 344.3 L331.6 344.1 L332.6 344.0 L333.6 343.9 L334.6 343.9 L335.6 343.9 L336.6 343.8 L337.6 343.8 L338.6 343.8 L339.6 343.7 L340.6 343.6 L341.6 343.3 L342.6 342.9 L343.6 342.4 L344.6 341.9 L345.6 341.4 L346.6 340.9 L347.6 340.6 L348.6 340.3 L349.6 340.2 L350.6 340.1 L351.6 340.0 L352.6 339.9 L353.6 339.8 L354.6 339.7 L355.6 339.7 L356.6 339.6 L357.6 339.5 L358.6 339.4 L359.6 339.2 L360.6 339.0 L361.6 338.6 L362.6 338.3 L363.6 337.9 L364.6 337.6 L365.6 337.4 L366.6 337.2 L367.6 337.0 L368.6 336.8 L369.6 336.5 L370.6 336.1 L371.6 335.5 L372.6 334.9 L373.6 334.3 L374.6 333.9 L375.6 333.8 L376.6 334.0 L377.6 334.3 L378.6 334.6 L379.6 334.8 L380.6 334.7 L381.6 334.6 L382.6 334.3 L383.6 334.1 L384.6 334.1 L385.6 334.5 L386.6 335.1 L387.6 336.0 L388.6 337.0 L389.6 338.0 L390.6 338.8 L391.6 339.6 L392.6 340.4 L393.6 341.3 L394.6 342.2 L395.6 343.2 L396.6 344.3 L397.6 345.8 L398.6 347.4 L399.6 349.0 L400.6 350.4 L401.6 351.5 L402.6 352.6 L403.6 353.5 L404.6 354.4 L405.6 355.4 L406.6 356.4 L407.6 357.6 L408.6 358.9 L409.6 360.2 L410.6 361.4 L411.6 362.4 L412.6 363.1 L413.6 363.8 L414.6 364.3 L415.6 364.4 L416.6 364.3 L417.6 364.0 L418.6 363.6 L419.6 363.2 L420.6 362.7 L421.6 362.0 L422.6 361.1 L423.6 360.1 L424.6 359.1 L425.6 357.4 L426.6 355.7 L427.6 355.1 L428.6 355.2 L429.6 355.5 L430.6 355.8 L431.6 356.2 L432.6 356.7 L433.6 357.1 L434.6 357.8 L435.6 358.6 L436.6 359.6 L437.6 360.5 L438.6 361.5 L439.6 362.3 L440.6 363.0 L441.6 363.3 L442.6 363.4 L443.6 363.0 L444.6 362.4 L445.6 361.6 L446.6 360.7 L447.6 359.6 L448.6 358.6 L449.6 357.7 L450.6 357.0 L451.6 356.5 L452.6 356.3 L453.6 356.4 L454.6 356.5 L455.6 356.7 L456.6 357.0 L457.6 357.2 L458.6 357.4 L459.6 357.5 L460.6 357.5 L461.6 357.5 L462.6 357.5 L463.6 357.5 L464.6 357.5 L465.6 357.5 L466.6 357.5 L467.6 357.5 L468.6 357.5 L469.6 357.5 L470.6 357.5 L471.6 357.5 L472.6 357.5 L473.6 357.4 L474.6 357.4 L475.6 357.3 L476.6 357.2 L477.6 357.2 L478.6 357.1 L479.6 357.0 L480.6 356.7 L481.6 356.4 L482.6 356.0 L483.6 355.6 L484.6 355.2 L485.6 354.9 L486.6 354.8 L487.6 354.8 L488.6 354.8 L489.6 354.8 L490.6 354.8 L491.6 354.8 L492.6 354.8 L493.6 354.8 L494.6 354.8 L495.6 354.7 L496.6 354.6 L497.6 354.5 L498.6 354.3 L499.6 354.1 L500.6 353.9 L501.6 353.7 L502.6 353.5 L503.6 353.4 L504.6 353.2 L505.6 353.1 L506.6 353.0 L507.6 353.0 L508.6 353.1 L509.6 353.2 L510.6 353.4 L511.6 353.7 L512.6 354.0 L513.6 354.2 L514.6 354.4 L515.6 354.6 L516.6 354.8 L517.6 355.0 L518.6 355.1 L519.6 355.2 L520.6 355.3 L521.6 355.3 L522.6 355.2 L523.6 355.1 L524.6 355.0 L525.6 354.8 L526.6 354.6 L527.6 354.4 L528.6 354.3 L529.6 354.1 L530.6 354.0 L531.6 353.9 L532.6 353.8 L533.6 353.7 L534.6 353.6 L535.6 353.5 L536.6 353.4 L537.6 353.2 L538.6 353.0 L539.6 352.7 L540.6 352.4 L541.6 352.1 L542.6 351.8 L543.6 351.7 L544.6 351.6 L545.6 351.6 L546.6 351.7 L547.6 351.9 L548.6 352.1 L549.6 352.2 L550.6 352.4 L551.6 352.6 L552.6 352.7 L553.6 352.8 L554.6 352.9 L555.6 353.0 L556.6 353.1 L557.6 353.2 L558.6 353.3 L559.6 353.3 L560.6 353.3 L561.6 353.3 L562.6 353.2 L563.6 353.2 L564.6 353.1 L565.6 353.0 L566.6 353.0 L567.6 352.9 L568.6 352.8 L569.6 352.8 L570.6 352.7 L571.6 352.7 L572.6 352.6 L573.6 352.6 L574.6 352.6 L575.6 352.7 L576.6 352.8 L577.6 353.0 L578.6 353.2 L579.6 353.4 L580.6 353.7 L581.6 353.9 L582.6 354.1 L583.6 354.3 L584.6 354.4 L585.6 354.4 L586.6 354.4 L587.6 354.3 L588.6 354.3 L589.6 354.2 L590.6 354.1 L591.6 354.0 L592.6 353.9 L593.6 353.8 L594.6 353.8 L595.6 353.7 L596.6 353.6 L597.6 353.6 L598.6 353.5 L599.6 353.5 L600.6 353.5 L601.6 353.4 L602.6 353.4 L603.6 353.3 L604.6 353.3 L605.6 353.3 L606.6 353.2 L607.6 353.2 L608.6 353.2 L609.6 353.1 L610.6 353.1 L611.6 353.1 L612.6 353.1 L613.6 353.1 L614.6 353.0 L615.6 353.0 L616.6 353.0 L617.6 353.0 L618.6 353.0 L619.6 353.0 L620.6 353.0 L621.6 353.0 L622.6 353.0 L623.6 353.0 L624.6 353.0 L625.6 353.0 L626.6 353.1 L627.6 353.1 L628.6 353.1 L629.6 353.1 L630.6 353.1 L631.6 353.2 L632.6 353.2 L633.6 353.2 L634.6 353.2 L635.6 353.3 L636.6 353.3 L637.6 353.3 L638.6 353.4 L639.6 353.4 L640.6 353.5 L641.6 353.6 L642.6 353.7 L643.6 353.8 L644.6 353.9 L645.6 354.1 L646.6 354.2 L647.6 354.3 L648.6 354.4 L649.6 354.5 L650.6 354.6 L651.6 354.7 L652.6 354.7 L653.6 354.8 L654.6 354.8 L655.6 354.8 L656.6 354.7 L657.6 354.5 L658.6 354.3 L659.6 354.1 L660.6 353.8 L661.6 353.5 L662.6 353.3 L663.6 353.0 L664.6 352.8 L665.6 352.7 L666.6 352.6 L667.6 352.6 L668.6 352.6 L669.6 352.6 L670.6 352.6 L671.6 352.6 L672.6 352.6 L673.6 352.6" stroke="#1c1ce0" stroke-width="2.4" fill="none"/>
</g>
<!-- inset -->
<g stroke="#bdbdbd" stroke-width="0.9" fill="none"><path d="M117.70 5.52 V18.32 M115.90 5.52 h3.6 M115.90 18.32 h3.6"/><path d="M123.16 26.28 V39.08 M121.36 26.28 h3.6 M121.36 39.08 h3.6"/><path d="M131.90 46.14 V58.94 M130.10 46.14 h3.6 M130.10 58.94 h3.6"/><path d="M148.29 85.22 V98.02 M146.49 85.22 h3.6 M146.49 98.02 h3.6"/><path d="M159.22 109.44 V122.24 M157.41 109.44 h3.6 M157.41 122.24 h3.6"/><path d="M177.79 127.50 V140.30 M175.99 127.50 h3.6 M175.99 140.30 h3.6"/><path d="M193.08 143.26 V156.06 M191.28 143.26 h3.6 M191.28 156.06 h3.6"/><path d="M221.49 155.44 V168.24 M219.69 155.44 h3.6 M219.69 168.24 h3.6"/><path d="M270.65 175.55 V188.35 M268.85 175.55 h3.6 M268.85 188.35 h3.6"/><path d="M336.20 186.06 V198.86 M334.40 186.06 h3.6 M334.40 198.86 h3.6"/></g>
<path d="M117.70 11.92 L123.16 32.68 L131.90 52.54 L148.29 91.62 L159.22 115.84 L177.79 133.90 L193.08 149.66 L221.49 161.84 L270.65 181.95 L336.20 192.46" stroke="#000" stroke-width="1.3" fill="none"/>
<g fill="#000"><circle cx="117.70" cy="11.92" r="3.3"/><circle cx="123.16" cy="32.68" r="3.3"/><circle cx="131.90" cy="52.54" r="3.3"/><circle cx="148.29" cy="91.62" r="3.3"/><circle cx="159.22" cy="115.84" r="3.3"/><circle cx="177.79" cy="133.90" r="3.3"/><circle cx="193.08" cy="149.66" r="3.3"/><circle cx="221.49" cy="161.84" r="3.3"/><circle cx="270.65" cy="181.95" r="3.3"/><circle cx="336.20" cy="192.46" r="3.3"/></g>
<g stroke="#222" stroke-width="1.2"><line x1="117.70" y1="218" x2="117.70" y2="213.8"/><line x1="117.70" y1="0" x2="117.70" y2="4.8"/><line x1="161.40" y1="218" x2="161.40" y2="213.8"/><line x1="161.40" y1="0" x2="161.40" y2="4.8"/><line x1="205.10" y1="218" x2="205.10" y2="213.8"/><line x1="205.10" y1="0" x2="205.10" y2="4.8"/><line x1="248.80" y1="218" x2="248.80" y2="213.8"/><line x1="248.80" y1="0" x2="248.80" y2="4.8"/><line x1="292.50" y1="218" x2="292.50" y2="213.8"/><line x1="292.50" y1="0" x2="292.50" y2="4.8"/><line x1="336.20" y1="218" x2="336.20" y2="213.8"/><line x1="336.20" y1="0" x2="336.20" y2="4.8"/><line x1="139.55" y1="218" x2="139.55" y2="216"/><line x1="139.55" y1="0" x2="139.55" y2="2.8"/><line x1="183.25" y1="218" x2="183.25" y2="216"/><line x1="183.25" y1="0" x2="183.25" y2="2.8"/><line x1="226.95" y1="218" x2="226.95" y2="216"/><line x1="226.95" y1="0" x2="226.95" y2="2.8"/><line x1="270.65" y1="218" x2="270.65" y2="216"/><line x1="270.65" y1="0" x2="270.65" y2="2.8"/><line x1="314.35" y1="218" x2="314.35" y2="216"/><line x1="314.35" y1="0" x2="314.35" y2="2.8"/><line x1="96" y1="205.40" x2="100" y2="205.40"/><line x1="341.6" y1="205.40" x2="337.6" y2="205.40"/><line x1="96" y1="141.34" x2="100" y2="141.34"/><line x1="341.6" y1="141.34" x2="337.6" y2="141.34"/><line x1="96" y1="77.27" x2="100" y2="77.27"/><line x1="341.6" y1="77.27" x2="337.6" y2="77.27"/><line x1="96" y1="13.21" x2="100" y2="13.21"/><line x1="341.6" y1="13.21" x2="337.6" y2="13.21"/><line x1="96" y1="173.37" x2="98" y2="173.37"/><line x1="341.6" y1="173.37" x2="339.6" y2="173.37"/><line x1="96" y1="109.30" x2="98" y2="109.30"/><line x1="341.6" y1="109.30" x2="339.6" y2="109.30"/><line x1="96" y1="45.24" x2="98" y2="45.24"/><line x1="341.6" y1="45.24" x2="339.6" y2="45.24"/></g>
<rect x="96" y="0" width="245.6" height="218" fill="none" stroke="#222" stroke-width="1.3"/>
<g font-size="15.8"><text x="91.9" y="18.81" text-anchor="end">0.15</text><text x="91.9" y="82.87" text-anchor="end">0.10</text><text x="91.9" y="146.94" text-anchor="end">0.05</text><text x="91.9" y="211.00" text-anchor="end">0.00</text></g><g font-size="16.6"><text x="117.70" y="235.8" text-anchor="middle">0</text><text x="161.40" y="235.8" text-anchor="middle">8</text><text x="205.10" y="235.8" text-anchor="middle">16</text><text x="248.80" y="235.8" text-anchor="middle">24</text><text x="292.50" y="235.8" text-anchor="middle">32</text><text x="336.20" y="235.8" text-anchor="middle">40</text></g>
<text font-size="16.5" transform="translate(58.3 104.7) rotate(-90)" text-anchor="middle">IAD</text>
<text font-size="16.5" x="138.7" y="251.6" textLength="122.4" lengthAdjust="spacingAndGlyphs">Pressure (GPa)</text>
<g font-size="18.4"><text x="197.4" y="39.4">Sr</text><text x="223.6" y="39.4">Co</text><text x="264.6" y="39.4">Ir</text><text x="292.2" y="39.4">O</text></g>
<g font-size="11.6"><text x="217.0" y="47.7">2</text><text x="248.2" y="47.7">0.5</text><text x="276.0" y="47.7">0.5</text><text x="307.0" y="47.7">4</text></g>
<!-- main frame -->
<g stroke="#000" stroke-width="1.6"><line x1="88.70" y1="430.5" x2="88.70" y2="422" /><line x1="139.61" y1="430.5" x2="139.61" y2="426" /><line x1="190.52" y1="430.5" x2="190.52" y2="422" /><line x1="241.42" y1="430.5" x2="241.42" y2="426" /><line x1="292.33" y1="430.5" x2="292.33" y2="422" /><line x1="343.24" y1="430.5" x2="343.24" y2="426" /><line x1="394.15" y1="430.5" x2="394.15" y2="422" /><line x1="445.06" y1="430.5" x2="445.06" y2="426" /><line x1="495.96" y1="430.5" x2="495.96" y2="422" /><line x1="546.87" y1="430.5" x2="546.87" y2="426" /><line x1="597.78" y1="430.5" x2="597.78" y2="422" /><line x1="648.69" y1="430.5" x2="648.69" y2="426" /></g>
<path d="M37.6 0.8 H674.4 M37.6 0 V430.5 H674.4 M674.4 0 V431.2" stroke="#000" stroke-width="1.6" fill="none"/>
<g font-size="21.3"><text x="88.70" y="455.9" text-anchor="middle">7,624</text><text x="190.52" y="455.9" text-anchor="middle">7,632</text><text x="292.33" y="455.9" text-anchor="middle">7,640</text><text x="394.15" y="455.9" text-anchor="middle">7,648</text><text x="495.96" y="455.9" text-anchor="middle">7,656</text><text x="597.78" y="455.9" text-anchor="middle">7,664</text></g>
<text font-size="21.5" x="355.5" y="487.2" text-anchor="middle">Photon Energy (eV)</text>
<text font-size="21" transform="translate(15.2 213.7) rotate(-90)" text-anchor="middle" textLength="304" lengthAdjust="spacingAndGlyphs">Normalized Intensity (arb. units)</text>
<!-- legend -->
<text font-size="21.3" x="515.8" y="33.6" textLength="150.5" lengthAdjust="spacingAndGlyphs">Pressure (GPa)</text>
<g font-size="21.4"><line x1="550.3" y1="64.70" x2="599.1" y2="64.70" stroke="#c8283c" stroke-width="1.4"/><text x="604.5" y="72.00">AP</text><line x1="550.3" y1="91.05" x2="599.1" y2="91.05" stroke="#303030" stroke-width="1.4"/><text x="604.5" y="98.40">2.6</text><line x1="550.3" y1="117.40" x2="599.1" y2="117.40" stroke="#30d030" stroke-width="1.4"/><text x="604.5" y="124.80">5.6</text><line x1="550.3" y1="143.75" x2="599.1" y2="143.75" stroke="#2a2a9a" stroke-width="1.4"/><text x="604.5" y="151.20">7.6</text><line x1="550.3" y1="170.10" x2="599.1" y2="170.10" stroke="#c050d8" stroke-width="1.4"/><text x="604.5" y="177.60">11</text><line x1="550.3" y1="196.45" x2="599.1" y2="196.45" stroke="#50d8d8" stroke-width="1.4"/><text x="604.5" y="204.00">13.8</text><line x1="550.3" y1="222.80" x2="599.1" y2="222.80" stroke="#2e8a2e" stroke-width="1.4"/><text x="604.5" y="230.40">19</text><line x1="550.3" y1="249.15" x2="599.1" y2="249.15" stroke="#f09a50" stroke-width="1.4"/><text x="604.5" y="256.80">28</text><line x1="550.3" y1="275.50" x2="599.1" y2="275.50" stroke="#7a1e1e" stroke-width="1.4"/><text x="604.5" y="283.20">40</text></g>
<line x1="56.9" y1="383.1" x2="99.5" y2="383.1" stroke="#1a1ae0" stroke-width="2"/>
<line x1="56.5" y1="409.8" x2="99" y2="409.8" stroke="#e01818" stroke-width="2"/>
<text font-size="21.5" x="107.6" y="390.3">(AP - 40GPa)</text>
<text font-size="21.5" x="106.1" y="417.0">(7.6 GPa - 40GPa) x 2</text>
<!-- K beta labels -->
<text font-size="19.5" x="414.4" y="35.0" font-style="italic">K</text><text font-size="18" x="427.8" y="35.6" textLength="9.2" lengthAdjust="spacingAndGlyphs">β</text><text font-size="11" x="438.6" y="42.3" textLength="15" lengthAdjust="spacingAndGlyphs">1,3</text>
<text font-size="20.8" x="265.6" y="263.9" font-style="italic">K</text><text font-size="19.6" x="279.6" y="264.6" textLength="9.6" lengthAdjust="spacingAndGlyphs">β</text>
<path d="M292.3 244 L291.6 247" stroke="#000" stroke-width="1.3"/>
</svg>
</body></html>
